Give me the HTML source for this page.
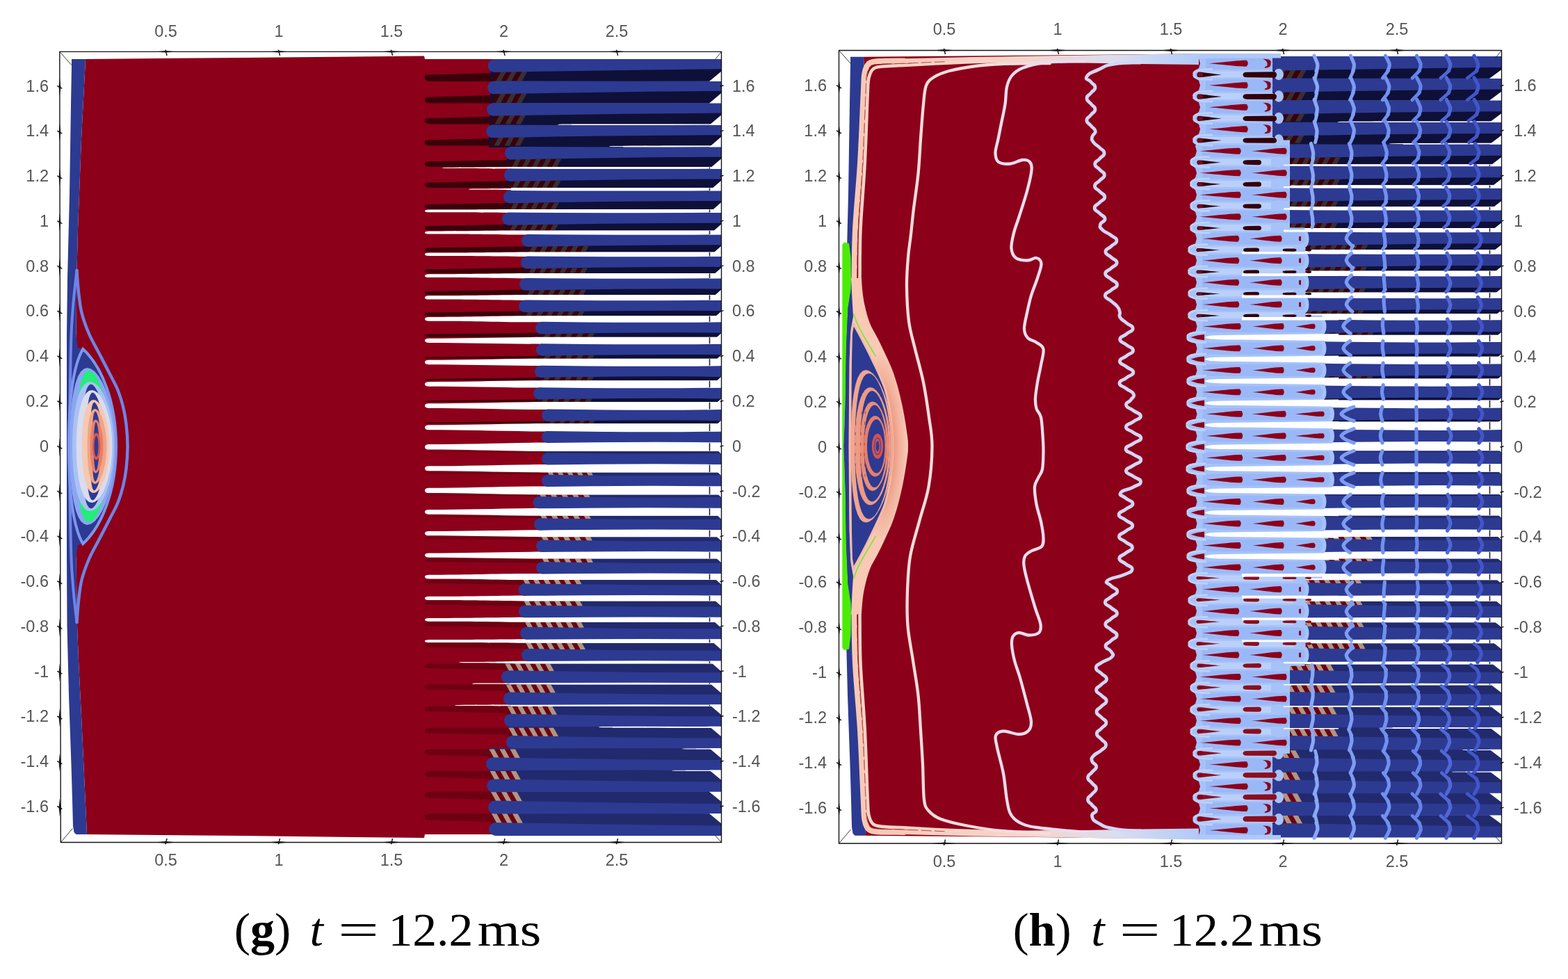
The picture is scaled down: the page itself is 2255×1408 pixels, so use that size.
<!DOCTYPE html>
<html lang="en"><head><meta charset="utf-8"><title>Figure: t = 12.2 ms</title>
<style>html,body{margin:0;padding:0;background:#fff;}body{width:2255px;height:1408px;overflow:hidden;}svg{display:block;}</style>
</head><body>
<svg width="2255" height="1408" viewBox="0 0 2255 1408">
<rect width="2255" height="1408" fill="#fff"/>
<g id="panel-g">
<path d="M123.0 85.0 L350.0 83.0 L560.0 81.0 L610.0 80.5 L611.0 85.0 L720.0 85.0 L720.0 1200.0 L611.0 1200.0 L610.0 1205.0 L560.0 1204.5 L350.0 1202.0 L125.0 1200.0 L118.0 1050.0 L113.0 950.0 L111.0 900.0 L109.5 800.0 L109.0 640.0 L109.5 480.0 L110.5 390.0 L112.0 330.0 L117.0 200.0Z" fill="#8c001a" />
<path d="M700.0 85.0 L711.5 85.0 L711.5 110.4 L700.0 110.4Z" fill="#8c001a" />
<path d="M700.0 109.9 L711.0 109.9 L711.0 141.9 L700.0 141.9Z" fill="#8c001a" />
<path d="M700.0 141.3 L710.0 141.3 L710.0 173.3 L700.0 173.3Z" fill="#8c001a" />
<path d="M700.0 172.8 L709.0 172.8 L709.0 204.8 L700.0 204.8Z" fill="#8c001a" />
<path d="M700.0 204.3 L735.0 204.3 L735.0 236.2 L700.0 236.2Z" fill="#8c001a" />
<path d="M700.0 235.7 L735.0 235.7 L735.0 267.7 L700.0 267.7Z" fill="#8c001a" />
<path d="M700.0 267.1 L733.0 267.1 L733.0 299.1 L700.0 299.1Z" fill="#8c001a" />
<path d="M700.0 298.6 L732.0 298.6 L732.0 330.6 L700.0 330.6Z" fill="#8c001a" />
<path d="M700.0 330.0 L760.0 330.0 L760.0 362.0 L700.0 362.0Z" fill="#8c001a" />
<path d="M700.0 361.4 L759.0 361.4 L759.0 393.4 L700.0 393.4Z" fill="#8c001a" />
<path d="M700.0 392.8 L757.0 392.8 L757.0 424.8 L700.0 424.8Z" fill="#8c001a" />
<path d="M700.0 424.3 L755.0 424.3 L755.0 456.2 L700.0 456.2Z" fill="#8c001a" />
<path d="M700.0 455.7 L780.0 455.7 L780.0 487.6 L700.0 487.6Z" fill="#8c001a" />
<path d="M700.0 487.1 L780.0 487.1 L780.0 519.0 L700.0 519.0Z" fill="#8c001a" />
<path d="M700.0 518.5 L779.0 518.5 L779.0 550.4 L700.0 550.4Z" fill="#8c001a" />
<path d="M700.0 549.8 L777.0 549.8 L777.0 581.8 L700.0 581.8Z" fill="#8c001a" />
<path d="M700.0 581.2 L789.0 581.2 L789.0 613.2 L700.0 613.2Z" fill="#8c001a" />
<path d="M700.0 612.6 L789.0 612.6 L789.0 644.6 L700.0 644.6Z" fill="#8c001a" />
<path d="M700.0 644.0 L789.0 644.0 L789.0 675.9 L700.0 675.9Z" fill="#8c001a" />
<path d="M700.0 675.3 L789.0 675.3 L789.0 707.3 L700.0 707.3Z" fill="#8c001a" />
<path d="M700.0 706.7 L776.5 706.7 L776.5 738.7 L700.0 738.7Z" fill="#8c001a" />
<path d="M700.0 738.0 L778.0 738.0 L778.0 770.0 L700.0 770.0Z" fill="#8c001a" />
<path d="M700.0 769.4 L780.0 769.4 L780.0 801.4 L700.0 801.4Z" fill="#8c001a" />
<path d="M700.0 800.7 L781.0 800.7 L781.0 832.7 L700.0 832.7Z" fill="#8c001a" />
<path d="M700.0 832.1 L754.5 832.1 L754.5 864.0 L700.0 864.0Z" fill="#8c001a" />
<path d="M700.0 863.4 L756.0 863.4 L756.0 895.4 L700.0 895.4Z" fill="#8c001a" />
<path d="M700.0 894.7 L758.0 894.7 L758.0 926.7 L700.0 926.7Z" fill="#8c001a" />
<path d="M700.0 926.0 L760.0 926.0 L760.0 958.0 L700.0 958.0Z" fill="#8c001a" />
<path d="M700.0 957.4 L731.0 957.4 L731.0 989.3 L700.0 989.3Z" fill="#8c001a" />
<path d="M700.0 988.7 L733.0 988.7 L733.0 1020.6 L700.0 1020.6Z" fill="#8c001a" />
<path d="M700.0 1020.0 L735.0 1020.0 L735.0 1051.9 L700.0 1051.9Z" fill="#8c001a" />
<path d="M700.0 1051.2 L737.0 1051.2 L737.0 1083.2 L700.0 1083.2Z" fill="#8c001a" />
<path d="M700.0 1082.5 L709.0 1082.5 L709.0 1114.5 L700.0 1114.5Z" fill="#8c001a" />
<path d="M700.0 1113.8 L710.0 1113.8 L710.0 1145.8 L700.0 1145.8Z" fill="#8c001a" />
<path d="M700.0 1145.1 L712.0 1145.1 L712.0 1177.1 L700.0 1177.1Z" fill="#8c001a" />
<path d="M700.0 1176.4 L713.0 1176.4 L713.0 1200.0 L700.0 1200.0Z" fill="#8c001a" />
<path d="M103.0 85.0 L123.0 85.0 L117.0 200.0 L112.0 330.0 L110.5 390.0 L109.5 480.0 L109.0 640.0 L109.5 800.0 L111.0 900.0 L113.0 950.0 L118.0 1050.0 L125.0 1200.0 L109.5 1200.0 L106.5 1197.0 L105.0 1188.0 L104.0 1150.0 L102.5 1100.0 L99.0 1000.0 L96.5 900.0 L96.0 800.0 L96.0 640.0 L96.0 480.0 L97.0 400.0 L100.0 280.0 L102.0 150.0 L103.0 95.0Z" fill="#2d3a92" />
<path d="M701.0 101.9 L711.5 101.9 L711.5 118.4 L701.0 118.4Z" fill="#8c001a" />
<path d="M611 109.6 Q611.5 107.5 618 107.5 L709.5 104.9 L709.5 116.9 L618 116.9 Q611.5 115.9 611 113.8 Z" fill="#3a0009"/>
<path d="M717.5 96.9 L1037.0 96.9 L1037.0 116.9 L717.5 116.9Z" fill="#0e1038" />
<path d="M705.5 102.9 L1037.0 102.9 L1037.0 116.9 L705.5 116.9Z" fill="#0e1038" />
<path d="M713.2 102.9 L720.7 102.9 L713.0 116.9 L705.5 116.9Z" fill="#3a0009" />
<path d="M720.7 102.9 L728.2 102.9 L720.5 116.9 L713.0 116.9Z" fill="#3c2e30" />
<path d="M728.2 102.9 L735.7 102.9 L728.0 116.9 L720.5 116.9Z" fill="#3a0009" />
<path d="M735.7 102.9 L743.2 102.9 L735.5 116.9 L728.0 116.9Z" fill="#3c2e30" />
<path d="M743.2 102.9 L750.7 102.9 L743.0 116.9 L735.5 116.9Z" fill="#3a0009" />
<path d="M750.7 102.9 L758.2 102.9 L750.5 116.9 L743.0 116.9Z" fill="#3c2e30" />
<path d="M700.0 133.3 L711.0 133.3 L711.0 149.9 L700.0 149.9Z" fill="#8c001a" />
<path d="M611 141.4 Q611.5 139.4 618 139.4 L709.0 136.9 L709.0 148.4 L618 148.4 Q611.5 147.4 611 145.4 Z" fill="#3a0009"/>
<path d="M717.0 128.3 L1037.0 128.3 L1037.0 148.4 L717.0 148.4Z" fill="#0e1038" />
<path d="M705.0 134.3 L1037.0 134.3 L1037.0 148.4 L705.0 148.4Z" fill="#0e1038" />
<path d="M712.8 134.3 L720.3 134.3 L712.5 148.4 L705.0 148.4Z" fill="#3a0009" />
<path d="M720.3 134.3 L727.8 134.3 L720.0 148.4 L712.5 148.4Z" fill="#3c2e30" />
<path d="M727.8 134.3 L735.3 134.3 L727.5 148.4 L720.0 148.4Z" fill="#3a0009" />
<path d="M735.3 134.3 L742.8 134.3 L735.0 148.4 L727.5 148.4Z" fill="#3c2e30" />
<path d="M742.8 134.3 L750.3 134.3 L742.5 148.4 L735.0 148.4Z" fill="#3a0009" />
<path d="M750.3 134.3 L757.8 134.3 L750.0 148.4 L742.5 148.4Z" fill="#3c2e30" />
<path d="M699.0 164.7 L710.0 164.7 L710.0 181.5 L699.0 181.5Z" fill="#8c001a" />
<path d="M611 171.8 Q611.5 169.9 618 169.9 L708.0 167.4 L708.0 178.5 L618 178.5 Q611.5 177.5 611 175.6 Z" fill="#3a0009"/>
<path d="M716.0 159.7 L1037.0 159.7 L1037.0 178.5 L716.0 178.5Z" fill="#0e1038" />
<path d="M704.0 165.7 L1037.0 165.7 L1037.0 178.5 L704.0 178.5Z" fill="#0e1038" />
<path d="M704.0 178.0 L822.0 178.0 L822.0 180.5 L704.0 180.5Z" fill="#0e1038" />
<path d="M711.0 165.7 L718.5 165.7 L711.5 178.5 L704.0 178.5Z" fill="#3a0009" />
<path d="M718.5 165.7 L726.0 165.7 L719.0 178.5 L711.5 178.5Z" fill="#3c2e30" />
<path d="M726.0 165.7 L733.5 165.7 L726.5 178.5 L719.0 178.5Z" fill="#3a0009" />
<path d="M733.5 165.7 L741.0 165.7 L734.0 178.5 L726.5 178.5Z" fill="#3c2e30" />
<path d="M741.0 165.7 L748.5 165.7 L741.5 178.5 L734.0 178.5Z" fill="#3a0009" />
<path d="M748.5 165.7 L756.0 165.7 L749.0 178.5 L741.5 178.5Z" fill="#3c2e30" />
<path d="M802.0 179.2 Q802.0 178.6 808.0 178.6 C862.0 178.6 862.0 178.5 922.0 178.5 L1037.0 178.5 L1037.0 180.0 L922.0 180.0 C862.0 180.0 862.0 179.8 808.0 179.8 Q802.0 179.8 802.0 179.2 Z" fill="#fff"/>
<path d="M699.0 196.1 L735.0 196.1 L735.0 213.0 L699.0 213.0Z" fill="#8c001a" />
<path d="M611 203.1 Q611.5 201.3 618 201.3 L707.0 198.9 L707.0 209.5 L618 209.5 Q611.5 208.6 611 206.7 Z" fill="#3a0009"/>
<path d="M715.0 191.1 L1037.0 191.1 L1037.0 209.5 L715.0 209.5Z" fill="#0e1038" />
<path d="M703.0 197.1 L1037.0 197.1 L1037.0 209.5 L703.0 209.5Z" fill="#0e1038" />
<path d="M703.0 209.0 L896.0 209.0 L896.0 212.0 L703.0 212.0Z" fill="#0e1038" />
<path d="M709.8 197.1 L717.3 197.1 L710.5 209.5 L703.0 209.5Z" fill="#3a0009" />
<path d="M717.3 197.1 L724.8 197.1 L718.0 209.5 L710.5 209.5Z" fill="#3c2e30" />
<path d="M724.8 197.1 L732.3 197.1 L725.5 209.5 L718.0 209.5Z" fill="#3a0009" />
<path d="M732.3 197.1 L739.8 197.1 L733.0 209.5 L725.5 209.5Z" fill="#3c2e30" />
<path d="M739.8 197.1 L747.3 197.1 L740.5 209.5 L733.0 209.5Z" fill="#3a0009" />
<path d="M747.3 197.1 L754.8 197.1 L748.0 209.5 L740.5 209.5Z" fill="#3c2e30" />
<path d="M876.0 210.5 Q876.0 209.9 882.0 209.9 C936.0 209.9 936.0 209.5 996.0 209.5 L1037.0 209.5 L1037.0 211.5 L996.0 211.5 C936.0 211.5 936.0 211.1 882.0 211.1 Q876.0 211.1 876.0 210.5 Z" fill="#fff"/>
<path d="M725.0 227.5 L735.0 227.5 L735.0 244.5 L725.0 244.5Z" fill="#8c001a" />
<path d="M611 233.9 Q611.5 232.2 618 232.2 L733.0 229.9 L733.0 240.0 L618 240.0 Q611.5 239.1 611 237.4 Z" fill="#3a0009"/>
<path d="M741.0 222.5 L1037.0 222.5 L1037.0 240.0 L741.0 240.0Z" fill="#0e1038" />
<path d="M729.0 228.5 L1037.0 228.5 L1037.0 240.0 L729.0 240.0Z" fill="#0e1038" />
<path d="M735.3 228.5 L742.5 228.5 L736.2 240.0 L729.0 240.0Z" fill="#3a0009" />
<path d="M742.5 228.5 L749.7 228.5 L743.4 240.0 L736.2 240.0Z" fill="#3c2e30" />
<path d="M749.7 228.5 L756.9 228.5 L750.6 240.0 L743.4 240.0Z" fill="#3a0009" />
<path d="M756.9 228.5 L764.1 228.5 L757.8 240.0 L750.6 240.0Z" fill="#3c2e30" />
<path d="M764.1 228.5 L771.3 228.5 L765.0 240.0 L757.8 240.0Z" fill="#3a0009" />
<path d="M771.3 228.5 L778.5 228.5 L772.2 240.0 L765.0 240.0Z" fill="#3c2e30" />
<path d="M778.5 228.5 L785.7 228.5 L779.4 240.0 L772.2 240.0Z" fill="#3a0009" />
<path d="M785.7 228.5 L792.9 228.5 L786.6 240.0 L779.4 240.0Z" fill="#3c2e30" />
<path d="M792.9 228.5 L800.1 228.5 L793.8 240.0 L786.6 240.0Z" fill="#3a0009" />
<path d="M800.1 228.5 L807.3 228.5 L801.0 240.0 L793.8 240.0Z" fill="#3c2e30" />
<path d="M636.0 241.5 Q636.0 240.9 642.0 240.9 C696.0 240.9 696.0 240.0 756.0 240.0 L1037.0 240.0 L1037.0 243.0 L756.0 243.0 C696.0 243.0 696.0 242.1 642.0 242.1 Q636.0 242.1 636.0 241.5 Z" fill="#fff"/>
<path d="M723.0 258.9 L735.0 258.9 L735.0 276.0 L723.0 276.0Z" fill="#8c001a" />
<path d="M611 264.3 Q611.5 262.6 618 262.6 L733.0 260.3 L733.0 270.0 L618 270.0 Q611.5 269.2 611 267.5 Z" fill="#3a0009"/>
<path d="M741.0 253.9 L1037.0 253.9 L1037.0 270.0 L741.0 270.0Z" fill="#0e1038" />
<path d="M729.0 259.9 L1037.0 259.9 L1037.0 270.0 L729.0 270.0Z" fill="#0e1038" />
<path d="M734.5 259.9 L741.7 259.9 L736.2 270.0 L729.0 270.0Z" fill="#3a0009" />
<path d="M741.7 259.9 L748.9 259.9 L743.4 270.0 L736.2 270.0Z" fill="#3c2e30" />
<path d="M748.9 259.9 L756.1 259.9 L750.6 270.0 L743.4 270.0Z" fill="#3a0009" />
<path d="M756.1 259.9 L763.3 259.9 L757.8 270.0 L750.6 270.0Z" fill="#3c2e30" />
<path d="M763.3 259.9 L770.5 259.9 L765.0 270.0 L757.8 270.0Z" fill="#3a0009" />
<path d="M770.5 259.9 L777.7 259.9 L772.2 270.0 L765.0 270.0Z" fill="#3c2e30" />
<path d="M777.7 259.9 L784.9 259.9 L779.4 270.0 L772.2 270.0Z" fill="#3a0009" />
<path d="M784.9 259.9 L792.1 259.9 L786.6 270.0 L779.4 270.0Z" fill="#3c2e30" />
<path d="M792.1 259.9 L799.3 259.9 L793.8 270.0 L786.6 270.0Z" fill="#3a0009" />
<path d="M799.3 259.9 L806.5 259.9 L801.0 270.0 L793.8 270.0Z" fill="#3c2e30" />
<path d="M674.0 272.2 Q674.0 271.6 680.0 271.6 C734.0 271.6 734.0 270.5 794.0 270.0 L1037.0 270.0 L1037.0 274.5 L794.0 274.5 C734.0 274.0 734.0 272.8 680.0 272.8 Q674.0 272.8 674.0 272.2 Z" fill="#fff"/>
<path d="M722.0 290.3 L733.0 290.3 L733.0 307.5 L722.0 307.5Z" fill="#8c001a" />
<path d="M611 295.6 Q611.5 294.1 618 294.1 L731.0 291.8 L731.0 301.0 L618 301.0 Q611.5 300.2 611 298.7 Z" fill="#3a0009"/>
<path d="M739.0 285.3 L1037.0 285.3 L1037.0 301.0 L739.0 301.0Z" fill="#0e1038" />
<path d="M727.0 291.3 L1037.0 291.3 L1037.0 301.0 L727.0 301.0Z" fill="#0e1038" />
<path d="M732.3 291.3 L739.5 291.3 L734.2 301.0 L727.0 301.0Z" fill="#3a0009" />
<path d="M739.5 291.3 L746.7 291.3 L741.4 301.0 L734.2 301.0Z" fill="#3c2e30" />
<path d="M746.7 291.3 L753.9 291.3 L748.6 301.0 L741.4 301.0Z" fill="#3a0009" />
<path d="M753.9 291.3 L761.1 291.3 L755.8 301.0 L748.6 301.0Z" fill="#3c2e30" />
<path d="M761.1 291.3 L768.3 291.3 L763.0 301.0 L755.8 301.0Z" fill="#3a0009" />
<path d="M768.3 291.3 L775.5 291.3 L770.2 301.0 L763.0 301.0Z" fill="#3c2e30" />
<path d="M775.5 291.3 L782.7 291.3 L777.4 301.0 L770.2 301.0Z" fill="#3a0009" />
<path d="M782.7 291.3 L789.9 291.3 L784.6 301.0 L777.4 301.0Z" fill="#3c2e30" />
<path d="M789.9 291.3 L797.1 291.3 L791.8 301.0 L784.6 301.0Z" fill="#3a0009" />
<path d="M797.1 291.3 L804.3 291.3 L799.0 301.0 L791.8 301.0Z" fill="#3c2e30" />
<path d="M611.0 303.5 Q611.0 301.6 617.0 301.6 C671.0 301.6 672.0 301.5 732.0 301.0 L1037.0 301.0 L1037.0 306.0 L732.0 306.0 C672.0 305.5 671.0 305.3 617.0 305.3 Q611.0 305.3 611.0 303.5 Z" fill="#fff"/>
<path d="M722.0 321.7 L760.0 321.7 L760.0 339.0 L722.0 339.0Z" fill="#8c001a" />
<path d="M611 326.4 Q611.5 325.0 618 325.0 L730.0 322.7 L730.0 331.5 L618 331.5 Q611.5 330.7 611 329.3 Z" fill="#3a0009"/>
<path d="M738.0 316.7 L1037.0 316.7 L1037.0 331.5 L738.0 331.5Z" fill="#0e1038" />
<path d="M726.0 322.7 L1037.0 322.7 L1037.0 331.5 L726.0 331.5Z" fill="#0e1038" />
<path d="M730.8 322.7 L738.0 322.7 L733.2 331.5 L726.0 331.5Z" fill="#3a0009" />
<path d="M738.0 322.7 L745.2 322.7 L740.4 331.5 L733.2 331.5Z" fill="#3c2e30" />
<path d="M745.2 322.7 L752.4 322.7 L747.6 331.5 L740.4 331.5Z" fill="#3a0009" />
<path d="M752.4 322.7 L759.6 322.7 L754.8 331.5 L747.6 331.5Z" fill="#3c2e30" />
<path d="M759.6 322.7 L766.8 322.7 L762.0 331.5 L754.8 331.5Z" fill="#3a0009" />
<path d="M766.8 322.7 L774.0 322.7 L769.2 331.5 L762.0 331.5Z" fill="#3c2e30" />
<path d="M774.0 322.7 L781.2 322.7 L776.4 331.5 L769.2 331.5Z" fill="#3a0009" />
<path d="M781.2 322.7 L788.4 322.7 L783.6 331.5 L776.4 331.5Z" fill="#3c2e30" />
<path d="M788.4 322.7 L795.6 322.7 L790.8 331.5 L783.6 331.5Z" fill="#3a0009" />
<path d="M795.6 322.7 L802.8 322.7 L798.0 331.5 L790.8 331.5Z" fill="#3c2e30" />
<path d="M611.0 334.5 Q611.0 332.4 617.0 332.4 C671.0 332.4 672.0 332.0 732.0 331.5 L1037.0 331.5 L1037.0 337.5 L732.0 337.5 C672.0 337.0 671.0 336.6 617.0 336.6 Q611.0 336.6 611.0 334.5 Z" fill="#fff"/>
<path d="M749.0 353.0 L760.0 353.0 L760.0 370.4 L749.0 370.4Z" fill="#8c001a" />
<path d="M611 357.7 Q611.5 356.4 618 356.4 L758.0 354.2 L758.0 362.4 L618 362.4 Q611.5 361.8 611 360.4 Z" fill="#3a0009"/>
<path d="M766.0 348.0 L1037.0 348.0 L1037.0 362.4 L766.0 362.4Z" fill="#0e1038" />
<path d="M754.0 354.0 L1037.0 354.0 L1037.0 362.4 L754.0 362.4Z" fill="#0e1038" />
<path d="M758.6 354.0 L766.0 354.0 L761.3 362.4 L754.0 362.4Z" fill="#3a0009" />
<path d="M766.0 354.0 L773.3 354.0 L768.7 362.4 L761.3 362.4Z" fill="#3c2e30" />
<path d="M773.3 354.0 L780.6 354.0 L776.0 362.4 L768.7 362.4Z" fill="#3a0009" />
<path d="M780.6 354.0 L788.0 354.0 L783.3 362.4 L776.0 362.4Z" fill="#3c2e30" />
<path d="M788.0 354.0 L795.3 354.0 L790.7 362.4 L783.3 362.4Z" fill="#3a0009" />
<path d="M795.3 354.0 L802.6 354.0 L798.0 362.4 L790.7 362.4Z" fill="#3c2e30" />
<path d="M802.6 354.0 L810.0 354.0 L805.3 362.4 L798.0 362.4Z" fill="#3a0009" />
<path d="M810.0 354.0 L817.3 354.0 L812.7 362.4 L805.3 362.4Z" fill="#3c2e30" />
<path d="M817.3 354.0 L824.6 354.0 L820.0 362.4 L812.7 362.4Z" fill="#3a0009" />
<path d="M824.6 354.0 L832.0 354.0 L827.3 362.4 L820.0 362.4Z" fill="#3c2e30" />
<path d="M832.0 354.0 L839.3 354.0 L834.7 362.4 L827.3 362.4Z" fill="#3a0009" />
<path d="M839.3 354.0 L846.6 354.0 L842.0 362.4 L834.7 362.4Z" fill="#3c2e30" />
<path d="M611.0 365.7 Q611.0 363.5 617.0 363.5 C671.0 363.5 699.0 362.9 759.0 362.4 L1037.0 362.4 L1037.0 368.9 L759.0 368.9 C699.0 368.4 671.0 367.9 617.0 367.9 Q611.0 367.9 611.0 365.7 Z" fill="#fff"/>
<path d="M747.0 384.4 L759.0 384.4 L759.0 401.9 L747.0 401.9Z" fill="#8c001a" />
<path d="M611 388.5 Q611.5 387.3 618 387.3 L757.0 385.1 L757.0 392.9 L618 392.9 Q611.5 392.3 611 391.0 Z" fill="#3a0009"/>
<path d="M765.0 379.4 L1037.0 379.4 L1037.0 392.9 L765.0 392.9Z" fill="#0e1038" />
<path d="M753.0 385.4 L1037.0 385.4 L1037.0 392.9 L753.0 392.9Z" fill="#0e1038" />
<path d="M757.1 385.4 L764.5 385.4 L760.3 392.9 L753.0 392.9Z" fill="#3a0009" />
<path d="M764.5 385.4 L771.8 385.4 L767.7 392.9 L760.3 392.9Z" fill="#3c2e30" />
<path d="M771.8 385.4 L779.1 385.4 L775.0 392.9 L767.7 392.9Z" fill="#3a0009" />
<path d="M779.1 385.4 L786.5 385.4 L782.3 392.9 L775.0 392.9Z" fill="#3c2e30" />
<path d="M786.5 385.4 L793.8 385.4 L789.7 392.9 L782.3 392.9Z" fill="#3a0009" />
<path d="M793.8 385.4 L801.1 385.4 L797.0 392.9 L789.7 392.9Z" fill="#3c2e30" />
<path d="M801.1 385.4 L808.5 385.4 L804.3 392.9 L797.0 392.9Z" fill="#3a0009" />
<path d="M808.5 385.4 L815.8 385.4 L811.7 392.9 L804.3 392.9Z" fill="#3c2e30" />
<path d="M815.8 385.4 L823.1 385.4 L819.0 392.9 L811.7 392.9Z" fill="#3a0009" />
<path d="M823.1 385.4 L830.5 385.4 L826.3 392.9 L819.0 392.9Z" fill="#3c2e30" />
<path d="M830.5 385.4 L837.8 385.4 L833.7 392.9 L826.3 392.9Z" fill="#3a0009" />
<path d="M837.8 385.4 L845.1 385.4 L841.0 392.9 L833.7 392.9Z" fill="#3c2e30" />
<path d="M611.0 396.7 Q611.0 394.2 617.0 394.2 C671.0 394.2 697.0 393.4 757.0 392.9 L1037.0 392.9 L1037.0 400.4 L757.0 400.4 C697.0 399.9 671.0 399.1 617.0 399.1 Q611.0 399.1 611.0 396.7 Z" fill="#fff"/>
<path d="M745.0 415.8 L757.0 415.8 L757.0 433.4 L745.0 433.4Z" fill="#8c001a" />
<path d="M611 419.8 Q611.5 418.7 618 418.7 L755.0 416.6 L755.0 423.9 L618 423.9 Q611.5 423.3 611 422.1 Z" fill="#3a0009"/>
<path d="M763.0 410.8 L1037.0 410.8 L1037.0 423.9 L763.0 423.9Z" fill="#0e1038" />
<path d="M751.0 416.8 L1037.0 416.8 L1037.0 423.9 L751.0 423.9Z" fill="#0e1038" />
<path d="M754.9 416.8 L762.2 416.8 L758.3 423.9 L751.0 423.9Z" fill="#3a0009" />
<path d="M762.2 416.8 L769.6 416.8 L765.7 423.9 L758.3 423.9Z" fill="#3c2e30" />
<path d="M769.6 416.8 L776.9 416.8 L773.0 423.9 L765.7 423.9Z" fill="#3a0009" />
<path d="M776.9 416.8 L784.2 416.8 L780.3 423.9 L773.0 423.9Z" fill="#3c2e30" />
<path d="M784.2 416.8 L791.6 416.8 L787.7 423.9 L780.3 423.9Z" fill="#3a0009" />
<path d="M791.6 416.8 L798.9 416.8 L795.0 423.9 L787.7 423.9Z" fill="#3c2e30" />
<path d="M798.9 416.8 L806.2 416.8 L802.3 423.9 L795.0 423.9Z" fill="#3a0009" />
<path d="M806.2 416.8 L813.6 416.8 L809.7 423.9 L802.3 423.9Z" fill="#3c2e30" />
<path d="M813.6 416.8 L820.9 416.8 L817.0 423.9 L809.7 423.9Z" fill="#3a0009" />
<path d="M820.9 416.8 L828.2 416.8 L824.3 423.9 L817.0 423.9Z" fill="#3c2e30" />
<path d="M828.2 416.8 L835.6 416.8 L831.7 423.9 L824.3 423.9Z" fill="#3a0009" />
<path d="M835.6 416.8 L842.9 416.8 L839.0 423.9 L831.7 423.9Z" fill="#3c2e30" />
<path d="M611.0 427.9 Q611.0 425.3 617.0 425.3 C671.0 425.3 695.0 424.4 755.0 423.9 L1037.0 423.9 L1037.0 431.9 L755.0 431.9 C695.0 431.4 671.0 430.5 617.0 430.5 Q611.0 430.5 611.0 427.9 Z" fill="#fff"/>
<path d="M745.0 447.1 L780.0 447.1 L780.0 464.8 L745.0 464.8Z" fill="#8c001a" />
<path d="M611 450.6 Q611.5 449.5 618 449.5 L753.0 447.5 L753.0 454.3 L618 454.3 Q611.5 453.8 611 452.7 Z" fill="#3a0009"/>
<path d="M761.0 442.1 L1037.0 442.1 L1037.0 454.3 L761.0 454.3Z" fill="#0e1038" />
<path d="M749.0 448.1 L1037.0 448.1 L1037.0 454.3 L749.0 454.3Z" fill="#0e1038" />
<path d="M752.4 448.1 L759.8 448.1 L756.3 454.3 L749.0 454.3Z" fill="#3a0009" />
<path d="M759.8 448.1 L767.1 448.1 L763.7 454.3 L756.3 454.3Z" fill="#3c2e30" />
<path d="M767.1 448.1 L774.4 448.1 L771.0 454.3 L763.7 454.3Z" fill="#3a0009" />
<path d="M774.4 448.1 L781.8 448.1 L778.3 454.3 L771.0 454.3Z" fill="#3c2e30" />
<path d="M781.8 448.1 L789.1 448.1 L785.7 454.3 L778.3 454.3Z" fill="#3a0009" />
<path d="M789.1 448.1 L796.4 448.1 L793.0 454.3 L785.7 454.3Z" fill="#3c2e30" />
<path d="M796.4 448.1 L803.8 448.1 L800.3 454.3 L793.0 454.3Z" fill="#3a0009" />
<path d="M803.8 448.1 L811.1 448.1 L807.7 454.3 L800.3 454.3Z" fill="#3c2e30" />
<path d="M811.1 448.1 L818.4 448.1 L815.0 454.3 L807.7 454.3Z" fill="#3a0009" />
<path d="M818.4 448.1 L825.8 448.1 L822.3 454.3 L815.0 454.3Z" fill="#3c2e30" />
<path d="M825.8 448.1 L833.1 448.1 L829.7 454.3 L822.3 454.3Z" fill="#3a0009" />
<path d="M833.1 448.1 L840.4 448.1 L837.0 454.3 L829.7 454.3Z" fill="#3c2e30" />
<path d="M611.0 458.8 Q611.0 456.0 617.0 456.0 C671.0 456.0 695.0 454.8 755.0 454.3 L1037.0 454.3 L1037.0 463.3 L755.0 463.3 C695.0 462.8 671.0 461.7 617.0 461.7 Q611.0 461.7 611.0 458.8 Z" fill="#fff"/>
<path d="M770.0 478.5 L780.0 478.5 L780.0 496.3 L770.0 496.3Z" fill="#8c001a" />
<path d="M611 481.4 Q611.5 480.4 618 480.4 L778.0 478.5 L778.0 484.8 L618 484.8 Q611.5 484.3 611 483.3 Z" fill="#3a0009"/>
<path d="M786.0 473.5 L1037.0 473.5 L1037.0 484.8 L786.0 484.8Z" fill="#0e1038" />
<path d="M774.0 479.5 L1037.0 479.5 L1037.0 484.8 L774.0 484.8Z" fill="#0e1038" />
<path d="M776.9 479.5 L784.7 479.5 L781.8 484.8 L774.0 484.8Z" fill="#3a0009" />
<path d="M784.7 479.5 L792.5 479.5 L789.6 484.8 L781.8 484.8Z" fill="#3c2e30" />
<path d="M792.5 479.5 L800.3 479.5 L797.4 484.8 L789.6 484.8Z" fill="#3a0009" />
<path d="M800.3 479.5 L808.1 479.5 L805.2 484.8 L797.4 484.8Z" fill="#3c2e30" />
<path d="M808.1 479.5 L815.9 479.5 L813.0 484.8 L805.2 484.8Z" fill="#3a0009" />
<path d="M815.9 479.5 L823.7 479.5 L820.8 484.8 L813.0 484.8Z" fill="#3c2e30" />
<path d="M823.7 479.5 L831.5 479.5 L828.6 484.8 L820.8 484.8Z" fill="#3a0009" />
<path d="M831.5 479.5 L839.3 479.5 L836.4 484.8 L828.6 484.8Z" fill="#3c2e30" />
<path d="M839.3 479.5 L847.1 479.5 L844.2 484.8 L836.4 484.8Z" fill="#3a0009" />
<path d="M847.1 479.5 L854.9 479.5 L852.0 484.8 L844.2 484.8Z" fill="#3c2e30" />
<path d="M611.0 489.8 Q611.0 486.7 617.0 486.7 C671.0 486.7 720.0 485.3 780.0 484.8 L1037.0 484.8 L1037.0 494.8 L780.0 494.8 C720.0 494.3 671.0 492.9 617.0 492.9 Q611.0 492.9 611.0 489.8 Z" fill="#fff"/>
<path d="M769.0 509.8 L780.0 509.8 L780.0 527.7 L769.0 527.7Z" fill="#8c001a" />
<path d="M611 514.0 Q611.5 513.6 618 513.6 L778.0 511.8 L778.0 515.7 L618 515.7 Q611.5 515.5 611 515.0 Z" fill="#3a0009"/>
<path d="M786.0 504.8 L1037.0 504.8 L1037.0 515.7 L786.0 515.7Z" fill="#0e1038" />
<path d="M774.0 510.8 L1037.0 510.8 L1037.0 515.7 L774.0 515.7Z" fill="#0e1038" />
<path d="M776.7 510.8 L784.5 510.8 L781.8 515.7 L774.0 515.7Z" fill="#3a0009" />
<path d="M784.5 510.8 L792.3 510.8 L789.6 515.7 L781.8 515.7Z" fill="#3c2e30" />
<path d="M792.3 510.8 L800.1 510.8 L797.4 515.7 L789.6 515.7Z" fill="#3a0009" />
<path d="M800.1 510.8 L807.9 510.8 L805.2 515.7 L797.4 515.7Z" fill="#3c2e30" />
<path d="M807.9 510.8 L815.7 510.8 L813.0 515.7 L805.2 515.7Z" fill="#3a0009" />
<path d="M815.7 510.8 L823.5 510.8 L820.8 515.7 L813.0 515.7Z" fill="#3c2e30" />
<path d="M823.5 510.8 L831.3 510.8 L828.6 515.7 L820.8 515.7Z" fill="#3a0009" />
<path d="M831.3 510.8 L839.1 510.8 L836.4 515.7 L828.6 515.7Z" fill="#3c2e30" />
<path d="M839.1 510.8 L846.9 510.8 L844.2 515.7 L836.4 515.7Z" fill="#3a0009" />
<path d="M846.9 510.8 L854.7 510.8 L852.0 515.7 L844.2 515.7Z" fill="#3c2e30" />
<path d="M611.0 521.0 Q611.0 517.8 617.0 517.8 C671.0 517.8 719.0 516.2 779.0 515.7 L1037.0 515.7 L1037.0 526.2 L779.0 526.2 C719.0 525.7 671.0 524.2 617.0 524.2 Q611.0 524.2 611.0 521.0 Z" fill="#fff"/>
<path d="M767.0 541.1 L779.0 541.1 L779.0 559.2 L767.0 559.2Z" fill="#8c001a" />
<path d="M611 545.4 Q611.5 544.9 618 544.9 L777.0 543.1 L777.0 547.2 L618 547.2 Q611.5 546.9 611 546.4 Z" fill="#3a0009"/>
<path d="M785.0 536.1 L1037.0 536.1 L1037.0 547.2 L785.0 547.2Z" fill="#0e1038" />
<path d="M773.0 542.1 L1037.0 542.1 L1037.0 547.2 L773.0 547.2Z" fill="#0e1038" />
<path d="M775.8 542.1 L783.6 542.1 L780.8 547.2 L773.0 547.2Z" fill="#3a0009" />
<path d="M783.6 542.1 L791.4 542.1 L788.6 547.2 L780.8 547.2Z" fill="#3c2e30" />
<path d="M791.4 542.1 L799.2 542.1 L796.4 547.2 L788.6 547.2Z" fill="#3a0009" />
<path d="M799.2 542.1 L807.0 542.1 L804.2 547.2 L796.4 547.2Z" fill="#3c2e30" />
<path d="M807.0 542.1 L814.8 542.1 L812.0 547.2 L804.2 547.2Z" fill="#3a0009" />
<path d="M814.8 542.1 L822.6 542.1 L819.8 547.2 L812.0 547.2Z" fill="#3c2e30" />
<path d="M822.6 542.1 L830.4 542.1 L827.6 547.2 L819.8 547.2Z" fill="#3a0009" />
<path d="M830.4 542.1 L838.2 542.1 L835.4 547.2 L827.6 547.2Z" fill="#3c2e30" />
<path d="M838.2 542.1 L846.0 542.1 L843.2 547.2 L835.4 547.2Z" fill="#3a0009" />
<path d="M846.0 542.1 L853.8 542.1 L851.0 547.2 L843.2 547.2Z" fill="#3c2e30" />
<path d="M611.0 552.4 Q611.0 549.2 617.0 549.2 C671.0 549.2 717.0 547.7 777.0 547.2 L1037.0 547.2 L1037.0 557.7 L777.0 557.7 C717.0 557.2 671.0 555.7 617.0 555.7 Q611.0 555.7 611.0 552.4 Z" fill="#fff"/>
<path d="M767.0 572.5 L789.0 572.5 L789.0 590.6 L767.0 590.6Z" fill="#8c001a" />
<path d="M611 576.6 Q611.5 576.2 618 576.2 L775.0 574.5 L775.0 578.1 L618 578.1 Q611.5 577.9 611 577.5 Z" fill="#3a0009"/>
<path d="M783.0 567.5 L1037.0 567.5 L1037.0 578.1 L783.0 578.1Z" fill="#0e1038" />
<path d="M771.0 573.5 L1037.0 573.5 L1037.0 578.1 L771.0 578.1Z" fill="#0e1038" />
<path d="M773.6 573.5 L781.4 573.5 L778.8 578.1 L771.0 578.1Z" fill="#3a0009" />
<path d="M781.4 573.5 L789.2 573.5 L786.6 578.1 L778.8 578.1Z" fill="#3c2e30" />
<path d="M789.2 573.5 L797.0 573.5 L794.4 578.1 L786.6 578.1Z" fill="#3a0009" />
<path d="M797.0 573.5 L804.8 573.5 L802.2 578.1 L794.4 578.1Z" fill="#3c2e30" />
<path d="M804.8 573.5 L812.6 573.5 L810.0 578.1 L802.2 578.1Z" fill="#3a0009" />
<path d="M812.6 573.5 L820.4 573.5 L817.8 578.1 L810.0 578.1Z" fill="#3c2e30" />
<path d="M820.4 573.5 L828.2 573.5 L825.6 578.1 L817.8 578.1Z" fill="#3a0009" />
<path d="M828.2 573.5 L836.0 573.5 L833.4 578.1 L825.6 578.1Z" fill="#3c2e30" />
<path d="M836.0 573.5 L843.8 573.5 L841.2 578.1 L833.4 578.1Z" fill="#3a0009" />
<path d="M843.8 573.5 L851.6 573.5 L849.0 578.1 L841.2 578.1Z" fill="#3c2e30" />
<path d="M611.0 583.6 Q611.0 580.3 617.0 580.3 C671.0 580.3 717.0 578.6 777.0 578.1 L1037.0 578.1 L1037.0 589.1 L777.0 589.1 C717.0 588.6 671.0 587.0 617.0 587.0 Q611.0 587.0 611.0 583.6 Z" fill="#fff"/>
<path d="M779.0 603.8 L789.0 603.8 L789.0 622.1 L779.0 622.1Z" fill="#8c001a" />
<path d="M611 607.8 Q611.5 607.5 618 607.5 L787.0 605.8 L787.0 609.1 L618 609.1 Q611.5 608.9 611 608.5 Z" fill="#3a0009"/>
<path d="M795.0 598.8 L1037.0 598.8 L1037.0 609.1 L795.0 609.1Z" fill="#0e1038" />
<path d="M783.0 604.8 L1037.0 604.8 L1037.0 609.1 L783.0 609.1Z" fill="#0e1038" />
<path d="M785.3 604.8 L792.3 604.8 L790.0 609.1 L783.0 609.1Z" fill="#3a0009" />
<path d="M792.3 604.8 L799.3 604.8 L797.0 609.1 L790.0 609.1Z" fill="#3c2e30" />
<path d="M799.3 604.8 L806.3 604.8 L804.0 609.1 L797.0 609.1Z" fill="#3a0009" />
<path d="M806.3 604.8 L813.3 604.8 L811.0 609.1 L804.0 609.1Z" fill="#3c2e30" />
<path d="M813.3 604.8 L820.3 604.8 L818.0 609.1 L811.0 609.1Z" fill="#3a0009" />
<path d="M820.3 604.8 L827.3 604.8 L825.0 609.1 L818.0 609.1Z" fill="#3c2e30" />
<path d="M827.3 604.8 L834.3 604.8 L832.0 609.1 L825.0 609.1Z" fill="#3a0009" />
<path d="M834.3 604.8 L841.3 604.8 L839.0 609.1 L832.0 609.1Z" fill="#3c2e30" />
<path d="M841.3 604.8 L848.3 604.8 L846.0 609.1 L839.0 609.1Z" fill="#3a0009" />
<path d="M848.3 604.8 L855.3 604.8 L853.0 609.1 L846.0 609.1Z" fill="#3c2e30" />
<path d="M611.0 614.8 Q611.0 611.3 617.0 611.3 C671.0 611.3 721.0 609.6 781.0 609.1 L1037.0 609.1 L1037.0 620.6 L781.0 620.6 C721.0 620.1 671.0 618.3 617.0 618.3 Q611.0 618.3 611.0 614.8 Z" fill="#fff"/>
<path d="M779.0 635.1 L789.0 635.1 L789.0 653.4 L779.0 653.4Z" fill="#8c001a" />
<path d="M611 649.4 Q611.5 649.2 618 649.1 L787.0 649.1 L787.0 651.4 L618 649.8 Q611.5 649.8 611 649.7 Z" fill="#6d0012"/>
<path d="M795.0 649.1 L1037.0 649.1 L1037.0 658.4 L795.0 658.4Z" fill="#222a6e" />
<path d="M783.0 649.1 L1037.0 649.1 L1037.0 652.4 L783.0 652.4Z" fill="#222a6e" />
<path d="M611.0 642.9 Q611.0 639.1 617.0 639.1 C671.0 639.1 721.0 637.1 781.0 636.6 L1037.0 636.6 L1037.0 649.1 L781.0 649.1 C721.0 648.6 671.0 646.6 617.0 646.6 Q611.0 646.6 611.0 642.9 Z" fill="#fff"/>
<path d="M779.0 666.5 L789.0 666.5 L789.0 684.7 L779.0 684.7Z" fill="#8c001a" />
<path d="M611 680.0 Q611.5 679.7 618 679.5 L787.0 679.5 L787.0 682.7 L618 681.1 Q611.5 681.1 611 680.7 Z" fill="#6d0012"/>
<path d="M795.0 679.5 L1037.0 679.5 L1037.0 689.7 L795.0 689.7Z" fill="#222a6e" />
<path d="M783.0 679.5 L1037.0 679.5 L1037.0 683.7 L783.0 683.7Z" fill="#222a6e" />
<path d="M780.7 679.5 L787.7 679.5 L790.0 683.7 L783.0 683.7Z" fill="#6d0012" />
<path d="M787.7 679.5 L794.7 679.5 L797.0 683.7 L790.0 683.7Z" fill="#b39480" />
<path d="M794.7 679.5 L801.7 679.5 L804.0 683.7 L797.0 683.7Z" fill="#6d0012" />
<path d="M801.7 679.5 L808.7 679.5 L811.0 683.7 L804.0 683.7Z" fill="#b39480" />
<path d="M808.7 679.5 L815.7 679.5 L818.0 683.7 L811.0 683.7Z" fill="#6d0012" />
<path d="M815.7 679.5 L822.7 679.5 L825.0 683.7 L818.0 683.7Z" fill="#b39480" />
<path d="M822.7 679.5 L829.7 679.5 L832.0 683.7 L825.0 683.7Z" fill="#6d0012" />
<path d="M829.7 679.5 L836.7 679.5 L839.0 683.7 L832.0 683.7Z" fill="#b39480" />
<path d="M836.7 679.5 L843.7 679.5 L846.0 683.7 L839.0 683.7Z" fill="#6d0012" />
<path d="M843.7 679.5 L850.7 679.5 L853.0 683.7 L846.0 683.7Z" fill="#b39480" />
<path d="M611.0 673.7 Q611.0 670.3 617.0 670.3 C671.0 670.3 721.0 668.5 781.0 668.0 L1037.0 668.0 L1037.0 679.5 L781.0 679.5 C721.0 679.0 671.0 677.2 617.0 677.2 Q611.0 677.2 611.0 673.7 Z" fill="#fff"/>
<path d="M766.5 697.9 L789.0 697.9 L789.0 716.0 L766.5 716.0Z" fill="#8c001a" />
<path d="M611 711.7 Q611.5 711.5 618 711.4 L774.5 711.4 L774.5 714.0 L618 712.4 Q611.5 712.4 611 712.2 Z" fill="#6d0012"/>
<path d="M782.5 711.4 L1037.0 711.4 L1037.0 721.0 L782.5 721.0Z" fill="#222a6e" />
<path d="M770.5 711.4 L1037.0 711.4 L1037.0 715.0 L770.5 715.0Z" fill="#222a6e" />
<path d="M768.5 711.4 L776.3 711.4 L778.3 715.0 L770.5 715.0Z" fill="#6d0012" />
<path d="M776.3 711.4 L784.1 711.4 L786.1 715.0 L778.3 715.0Z" fill="#b39480" />
<path d="M784.1 711.4 L791.9 711.4 L793.9 715.0 L786.1 715.0Z" fill="#6d0012" />
<path d="M791.9 711.4 L799.7 711.4 L801.7 715.0 L793.9 715.0Z" fill="#b39480" />
<path d="M799.7 711.4 L807.5 711.4 L809.5 715.0 L801.7 715.0Z" fill="#6d0012" />
<path d="M807.5 711.4 L815.3 711.4 L817.3 715.0 L809.5 715.0Z" fill="#b39480" />
<path d="M815.3 711.4 L823.1 711.4 L825.1 715.0 L817.3 715.0Z" fill="#6d0012" />
<path d="M823.1 711.4 L830.9 711.4 L832.9 715.0 L825.1 715.0Z" fill="#b39480" />
<path d="M830.9 711.4 L838.7 711.4 L840.7 715.0 L832.9 715.0Z" fill="#6d0012" />
<path d="M838.7 711.4 L846.5 711.4 L848.5 715.0 L840.7 715.0Z" fill="#b39480" />
<path d="M611.0 705.4 Q611.0 701.8 617.0 701.8 C671.0 701.8 716.5 699.9 776.5 699.4 L1037.0 699.4 L1037.0 711.4 L776.5 711.4 C716.5 710.9 671.0 709.0 617.0 709.0 Q611.0 709.0 611.0 705.4 Z" fill="#fff"/>
<path d="M766.5 729.3 L778.0 729.3 L778.0 747.3 L766.5 747.3Z" fill="#8c001a" />
<path d="M611 742.4 Q611.5 742.0 618 741.8 L776.0 741.8 L776.0 745.3 L618 743.6 Q611.5 743.6 611 743.2 Z" fill="#6d0012"/>
<path d="M784.0 741.8 L1037.0 741.8 L1037.0 752.3 L784.0 752.3Z" fill="#222a6e" />
<path d="M772.0 741.8 L1037.0 741.8 L1037.0 746.3 L772.0 746.3Z" fill="#222a6e" />
<path d="M769.5 741.8 L777.3 741.8 L779.8 746.3 L772.0 746.3Z" fill="#6d0012" />
<path d="M777.3 741.8 L785.1 741.8 L787.6 746.3 L779.8 746.3Z" fill="#b39480" />
<path d="M785.1 741.8 L792.9 741.8 L795.4 746.3 L787.6 746.3Z" fill="#6d0012" />
<path d="M792.9 741.8 L800.7 741.8 L803.2 746.3 L795.4 746.3Z" fill="#b39480" />
<path d="M800.7 741.8 L808.5 741.8 L811.0 746.3 L803.2 746.3Z" fill="#6d0012" />
<path d="M808.5 741.8 L816.3 741.8 L818.8 746.3 L811.0 746.3Z" fill="#b39480" />
<path d="M816.3 741.8 L824.1 741.8 L826.6 746.3 L818.8 746.3Z" fill="#6d0012" />
<path d="M824.1 741.8 L831.9 741.8 L834.4 746.3 L826.6 746.3Z" fill="#b39480" />
<path d="M831.9 741.8 L839.7 741.8 L842.2 746.3 L834.4 746.3Z" fill="#6d0012" />
<path d="M839.7 741.8 L847.5 741.8 L850.0 746.3 L842.2 746.3Z" fill="#b39480" />
<path d="M611.0 736.3 Q611.0 733.0 617.0 733.0 C671.0 733.0 716.5 731.3 776.5 730.8 L1037.0 730.8 L1037.0 741.8 L776.5 741.8 C716.5 741.3 671.0 739.7 617.0 739.7 Q611.0 739.7 611.0 736.3 Z" fill="#fff"/>
<path d="M768.0 760.7 L780.0 760.7 L780.0 778.6 L768.0 778.6Z" fill="#8c001a" />
<path d="M611 773.1 Q611.5 772.5 618 772.2 L778.0 772.2 L778.0 776.6 L618 774.8 Q611.5 774.8 611 774.3 Z" fill="#6d0012"/>
<path d="M786.0 772.2 L1037.0 772.2 L1037.0 783.6 L786.0 783.6Z" fill="#222a6e" />
<path d="M774.0 772.2 L1037.0 772.2 L1037.0 777.6 L774.0 777.6Z" fill="#222a6e" />
<path d="M771.0 772.2 L778.8 772.2 L781.8 777.6 L774.0 777.6Z" fill="#6d0012" />
<path d="M778.8 772.2 L786.6 772.2 L789.6 777.6 L781.8 777.6Z" fill="#b39480" />
<path d="M786.6 772.2 L794.4 772.2 L797.4 777.6 L789.6 777.6Z" fill="#6d0012" />
<path d="M794.4 772.2 L802.2 772.2 L805.2 777.6 L797.4 777.6Z" fill="#b39480" />
<path d="M802.2 772.2 L810.0 772.2 L813.0 777.6 L805.2 777.6Z" fill="#6d0012" />
<path d="M810.0 772.2 L817.8 772.2 L820.8 777.6 L813.0 777.6Z" fill="#b39480" />
<path d="M817.8 772.2 L825.6 772.2 L828.6 777.6 L820.8 777.6Z" fill="#6d0012" />
<path d="M825.6 772.2 L833.4 772.2 L836.4 777.6 L828.6 777.6Z" fill="#b39480" />
<path d="M833.4 772.2 L841.2 772.2 L844.2 777.6 L836.4 777.6Z" fill="#6d0012" />
<path d="M841.2 772.2 L849.0 772.2 L852.0 777.6 L844.2 777.6Z" fill="#b39480" />
<path d="M611.0 767.2 Q611.0 764.1 617.0 764.1 C671.0 764.1 718.0 762.7 778.0 762.2 L1037.0 762.2 L1037.0 772.2 L778.0 772.2 C718.0 771.7 671.0 770.3 617.0 770.3 Q611.0 770.3 611.0 767.2 Z" fill="#fff"/>
<path d="M770.0 792.1 L781.0 792.1 L781.0 809.9 L770.0 809.9Z" fill="#8c001a" />
<path d="M611 805.1 Q611.5 804.1 618 803.6 L779.0 803.6 L779.0 809.9 L618 807.9 Q611.5 807.9 611 807.0 Z" fill="#6d0012"/>
<path d="M787.0 803.6 L1037.0 803.6 L1037.0 814.9 L787.0 814.9Z" fill="#222a6e" />
<path d="M775.0 803.6 L1037.0 803.6 L1037.0 808.9 L775.0 808.9Z" fill="#222a6e" />
<path d="M772.1 803.6 L779.9 803.6 L782.8 808.9 L775.0 808.9Z" fill="#6d0012" />
<path d="M779.9 803.6 L787.7 803.6 L790.6 808.9 L782.8 808.9Z" fill="#b39480" />
<path d="M787.7 803.6 L795.5 803.6 L798.4 808.9 L790.6 808.9Z" fill="#6d0012" />
<path d="M795.5 803.6 L803.3 803.6 L806.2 808.9 L798.4 808.9Z" fill="#b39480" />
<path d="M803.3 803.6 L811.1 803.6 L814.0 808.9 L806.2 808.9Z" fill="#6d0012" />
<path d="M811.1 803.6 L818.9 803.6 L821.8 808.9 L814.0 808.9Z" fill="#b39480" />
<path d="M818.9 803.6 L826.7 803.6 L829.6 808.9 L821.8 808.9Z" fill="#6d0012" />
<path d="M826.7 803.6 L834.5 803.6 L837.4 808.9 L829.6 808.9Z" fill="#b39480" />
<path d="M834.5 803.6 L842.3 803.6 L845.2 808.9 L837.4 808.9Z" fill="#6d0012" />
<path d="M842.3 803.6 L850.1 803.6 L853.0 808.9 L845.2 808.9Z" fill="#b39480" />
<path d="M611.0 798.6 Q611.0 795.5 617.0 795.5 C671.0 795.5 720.0 794.1 780.0 793.6 L1037.0 793.6 L1037.0 803.6 L780.0 803.6 C720.0 803.1 671.0 801.7 617.0 801.7 Q611.0 801.7 611.0 798.6 Z" fill="#fff"/>
<path d="M744.5 823.5 L781.0 823.5 L781.0 841.2 L744.5 841.2Z" fill="#8c001a" />
<path d="M611 835.6 Q611.5 834.6 618 834.0 L752.5 834.0 L752.5 840.9 L618 838.8 Q611.5 838.8 611 837.8 Z" fill="#6d0012"/>
<path d="M760.5 834.0 L1037.0 834.0 L1037.0 846.2 L760.5 846.2Z" fill="#222a6e" />
<path d="M748.5 834.0 L1037.0 834.0 L1037.0 840.2 L748.5 840.2Z" fill="#222a6e" />
<path d="M745.1 834.0 L752.5 834.0 L755.8 840.2 L748.5 840.2Z" fill="#6d0012" />
<path d="M752.5 834.0 L759.8 834.0 L763.2 840.2 L755.8 840.2Z" fill="#b39480" />
<path d="M759.8 834.0 L767.1 834.0 L770.5 840.2 L763.2 840.2Z" fill="#6d0012" />
<path d="M767.1 834.0 L774.5 834.0 L777.8 840.2 L770.5 840.2Z" fill="#b39480" />
<path d="M774.5 834.0 L781.8 834.0 L785.2 840.2 L777.8 840.2Z" fill="#6d0012" />
<path d="M781.8 834.0 L789.1 834.0 L792.5 840.2 L785.2 840.2Z" fill="#b39480" />
<path d="M789.1 834.0 L796.5 834.0 L799.8 840.2 L792.5 840.2Z" fill="#6d0012" />
<path d="M796.5 834.0 L803.8 834.0 L807.2 840.2 L799.8 840.2Z" fill="#b39480" />
<path d="M803.8 834.0 L811.1 834.0 L814.5 840.2 L807.2 840.2Z" fill="#6d0012" />
<path d="M811.1 834.0 L818.5 834.0 L821.8 840.2 L814.5 840.2Z" fill="#b39480" />
<path d="M818.5 834.0 L825.8 834.0 L829.2 840.2 L821.8 840.2Z" fill="#6d0012" />
<path d="M825.8 834.0 L833.1 834.0 L836.5 840.2 L829.2 840.2Z" fill="#b39480" />
<path d="M611.0 829.5 Q611.0 826.7 617.0 826.7 C671.0 826.7 694.5 825.5 754.5 825.0 L1037.0 825.0 L1037.0 834.0 L754.5 834.0 C694.5 833.5 671.0 832.4 617.0 832.4 Q611.0 832.4 611.0 829.5 Z" fill="#fff"/>
<path d="M744.5 854.9 L756.0 854.9 L756.0 872.5 L744.5 872.5Z" fill="#8c001a" />
<path d="M611 866.2 Q611.5 865.0 618 864.4 L754.0 864.4 L754.0 871.7 L618 869.6 Q611.5 869.6 611 868.5 Z" fill="#6d0012"/>
<path d="M762.0 864.4 L1037.0 864.4 L1037.0 877.5 L762.0 877.5Z" fill="#222a6e" />
<path d="M750.0 864.4 L1037.0 864.4 L1037.0 871.5 L750.0 871.5Z" fill="#222a6e" />
<path d="M746.1 864.4 L753.5 864.4 L757.3 871.5 L750.0 871.5Z" fill="#6d0012" />
<path d="M753.5 864.4 L760.8 864.4 L764.7 871.5 L757.3 871.5Z" fill="#b39480" />
<path d="M760.8 864.4 L768.1 864.4 L772.0 871.5 L764.7 871.5Z" fill="#6d0012" />
<path d="M768.1 864.4 L775.5 864.4 L779.3 871.5 L772.0 871.5Z" fill="#b39480" />
<path d="M775.5 864.4 L782.8 864.4 L786.7 871.5 L779.3 871.5Z" fill="#6d0012" />
<path d="M782.8 864.4 L790.1 864.4 L794.0 871.5 L786.7 871.5Z" fill="#b39480" />
<path d="M790.1 864.4 L797.5 864.4 L801.3 871.5 L794.0 871.5Z" fill="#6d0012" />
<path d="M797.5 864.4 L804.8 864.4 L808.7 871.5 L801.3 871.5Z" fill="#b39480" />
<path d="M804.8 864.4 L812.1 864.4 L816.0 871.5 L808.7 871.5Z" fill="#6d0012" />
<path d="M812.1 864.4 L819.5 864.4 L823.3 871.5 L816.0 871.5Z" fill="#b39480" />
<path d="M819.5 864.4 L826.8 864.4 L830.7 871.5 L823.3 871.5Z" fill="#6d0012" />
<path d="M826.8 864.4 L834.1 864.4 L838.0 871.5 L830.7 871.5Z" fill="#b39480" />
<path d="M611.0 860.4 Q611.0 857.8 617.0 857.8 C671.0 857.8 694.5 856.9 754.5 856.4 L1037.0 856.4 L1037.0 864.4 L754.5 864.4 C694.5 863.9 671.0 863.0 617.0 863.0 Q611.0 863.0 611.0 860.4 Z" fill="#fff"/>
<path d="M746.0 886.3 L758.0 886.3 L758.0 903.7 L746.0 903.7Z" fill="#8c001a" />
<path d="M611 896.7 Q611.5 895.4 618 894.8 L756.0 894.8 L756.0 902.6 L618 900.5 Q611.5 900.5 611 899.2 Z" fill="#6d0012"/>
<path d="M764.0 894.8 L1037.0 894.8 L1037.0 908.7 L764.0 908.7Z" fill="#222a6e" />
<path d="M752.0 894.8 L1037.0 894.8 L1037.0 902.7 L752.0 902.7Z" fill="#222a6e" />
<path d="M747.7 894.8 L755.0 894.8 L759.3 902.7 L752.0 902.7Z" fill="#6d0012" />
<path d="M755.0 894.8 L762.3 894.8 L766.7 902.7 L759.3 902.7Z" fill="#b39480" />
<path d="M762.3 894.8 L769.7 894.8 L774.0 902.7 L766.7 902.7Z" fill="#6d0012" />
<path d="M769.7 894.8 L777.0 894.8 L781.3 902.7 L774.0 902.7Z" fill="#b39480" />
<path d="M777.0 894.8 L784.3 894.8 L788.7 902.7 L781.3 902.7Z" fill="#6d0012" />
<path d="M784.3 894.8 L791.7 894.8 L796.0 902.7 L788.7 902.7Z" fill="#b39480" />
<path d="M791.7 894.8 L799.0 894.8 L803.3 902.7 L796.0 902.7Z" fill="#6d0012" />
<path d="M799.0 894.8 L806.3 894.8 L810.7 902.7 L803.3 902.7Z" fill="#b39480" />
<path d="M806.3 894.8 L813.7 894.8 L818.0 902.7 L810.7 902.7Z" fill="#6d0012" />
<path d="M813.7 894.8 L821.0 894.8 L825.3 902.7 L818.0 902.7Z" fill="#b39480" />
<path d="M821.0 894.8 L828.3 894.8 L832.7 902.7 L825.3 902.7Z" fill="#6d0012" />
<path d="M828.3 894.8 L835.7 894.8 L840.0 902.7 L832.7 902.7Z" fill="#b39480" />
<path d="M611.0 891.3 Q611.0 889.0 617.0 889.0 C671.0 889.0 696.0 888.3 756.0 887.8 L1037.0 887.8 L1037.0 894.8 L756.0 894.8 C696.0 894.3 671.0 893.7 617.0 893.7 Q611.0 893.7 611.0 891.3 Z" fill="#fff"/>
<path d="M748.0 917.7 L760.0 917.7 L760.0 935.0 L748.0 935.0Z" fill="#8c001a" />
<path d="M611 926.7 Q611.5 925.4 618 924.7 L758.0 924.7 L758.0 932.9 L618 930.8 Q611.5 930.8 611 929.4 Z" fill="#6d0012"/>
<path d="M766.0 924.7 L1037.0 924.7 L1037.0 940.0 L766.0 940.0Z" fill="#222a6e" />
<path d="M754.0 924.7 L1037.0 924.7 L1037.0 934.0 L754.0 934.0Z" fill="#222a6e" />
<path d="M748.9 924.7 L756.2 924.7 L761.3 934.0 L754.0 934.0Z" fill="#6d0012" />
<path d="M756.2 924.7 L763.6 924.7 L768.7 934.0 L761.3 934.0Z" fill="#b39480" />
<path d="M763.6 924.7 L770.9 924.7 L776.0 934.0 L768.7 934.0Z" fill="#6d0012" />
<path d="M770.9 924.7 L778.2 924.7 L783.3 934.0 L776.0 934.0Z" fill="#b39480" />
<path d="M778.2 924.7 L785.6 924.7 L790.7 934.0 L783.3 934.0Z" fill="#6d0012" />
<path d="M785.6 924.7 L792.9 924.7 L798.0 934.0 L790.7 934.0Z" fill="#b39480" />
<path d="M792.9 924.7 L800.2 924.7 L805.3 934.0 L798.0 934.0Z" fill="#6d0012" />
<path d="M800.2 924.7 L807.6 924.7 L812.7 934.0 L805.3 934.0Z" fill="#b39480" />
<path d="M807.6 924.7 L814.9 924.7 L820.0 934.0 L812.7 934.0Z" fill="#6d0012" />
<path d="M814.9 924.7 L822.2 924.7 L827.3 934.0 L820.0 934.0Z" fill="#b39480" />
<path d="M822.2 924.7 L829.6 924.7 L834.7 934.0 L827.3 934.0Z" fill="#6d0012" />
<path d="M829.6 924.7 L836.9 924.7 L842.0 934.0 L834.7 934.0Z" fill="#b39480" />
<path d="M611.0 921.9 Q611.0 920.0 617.0 920.0 C671.0 920.0 698.0 919.7 758.0 919.2 L1037.0 919.2 L1037.0 924.7 L758.0 924.7 C698.0 924.2 671.0 923.9 617.0 923.9 Q611.0 923.9 611.0 921.9 Z" fill="#fff"/>
<path d="M721.0 949.1 L760.0 949.1 L760.0 966.2 L721.0 966.2Z" fill="#8c001a" />
<path d="M611 956.7 Q611.5 955.3 618 954.6 L729.0 954.6 L729.0 963.3 L618 961.1 Q611.5 961.1 611 959.6 Z" fill="#6d0012"/>
<path d="M737.0 954.6 L1037.0 954.6 L1037.0 971.2 L737.0 971.2Z" fill="#222a6e" />
<path d="M725.0 954.6 L1037.0 954.6 L1037.0 965.2 L725.0 965.2Z" fill="#222a6e" />
<path d="M719.1 954.6 L726.3 954.6 L732.2 965.2 L725.0 965.2Z" fill="#6d0012" />
<path d="M726.3 954.6 L733.5 954.6 L739.4 965.2 L732.2 965.2Z" fill="#b39480" />
<path d="M733.5 954.6 L740.7 954.6 L746.6 965.2 L739.4 965.2Z" fill="#6d0012" />
<path d="M740.7 954.6 L747.9 954.6 L753.8 965.2 L746.6 965.2Z" fill="#b39480" />
<path d="M747.9 954.6 L755.1 954.6 L761.0 965.2 L753.8 965.2Z" fill="#6d0012" />
<path d="M755.1 954.6 L762.3 954.6 L768.2 965.2 L761.0 965.2Z" fill="#b39480" />
<path d="M762.3 954.6 L769.5 954.6 L775.4 965.2 L768.2 965.2Z" fill="#6d0012" />
<path d="M769.5 954.6 L776.7 954.6 L782.6 965.2 L775.4 965.2Z" fill="#b39480" />
<path d="M776.7 954.6 L783.9 954.6 L789.8 965.2 L782.6 965.2Z" fill="#6d0012" />
<path d="M783.9 954.6 L791.1 954.6 L797.0 965.2 L789.8 965.2Z" fill="#b39480" />
<path d="M660.0 952.6 Q660.0 952.0 666.0 952.0 C720.0 952.0 720.0 950.6 780.0 950.6 L1037.0 950.6 L1037.0 954.6 L780.0 954.6 C720.0 954.6 720.0 953.2 666.0 953.2 Q660.0 953.2 660.0 952.6 Z" fill="#fff"/>
<path d="M721.0 980.4 L733.0 980.4 L733.0 997.5 L721.0 997.5Z" fill="#8c001a" />
<path d="M611 986.7 Q611.5 985.2 618 984.4 L731.0 984.4 L731.0 993.6 L618 991.3 Q611.5 991.3 611 989.8 Z" fill="#6d0012"/>
<path d="M739.0 984.4 L1037.0 984.4 L1037.0 1002.5 L739.0 1002.5Z" fill="#222a6e" />
<path d="M727.0 984.4 L1037.0 984.4 L1037.0 996.5 L727.0 996.5Z" fill="#222a6e" />
<path d="M720.4 984.4 L727.6 984.4 L734.2 996.5 L727.0 996.5Z" fill="#6d0012" />
<path d="M727.6 984.4 L734.8 984.4 L741.4 996.5 L734.2 996.5Z" fill="#b39480" />
<path d="M734.8 984.4 L742.0 984.4 L748.6 996.5 L741.4 996.5Z" fill="#6d0012" />
<path d="M742.0 984.4 L749.2 984.4 L755.8 996.5 L748.6 996.5Z" fill="#b39480" />
<path d="M749.2 984.4 L756.4 984.4 L763.0 996.5 L755.8 996.5Z" fill="#6d0012" />
<path d="M756.4 984.4 L763.6 984.4 L770.2 996.5 L763.0 996.5Z" fill="#b39480" />
<path d="M763.6 984.4 L770.8 984.4 L777.4 996.5 L770.2 996.5Z" fill="#6d0012" />
<path d="M770.8 984.4 L778.0 984.4 L784.6 996.5 L777.4 996.5Z" fill="#b39480" />
<path d="M778.0 984.4 L785.2 984.4 L791.8 996.5 L784.6 996.5Z" fill="#6d0012" />
<path d="M785.2 984.4 L792.4 984.4 L799.0 996.5 L791.8 996.5Z" fill="#b39480" />
<path d="M679.0 983.2 Q679.0 982.6 685.0 982.6 C739.0 982.6 739.0 981.9 799.0 981.9 L1037.0 981.9 L1037.0 984.4 L799.0 984.4 C739.0 984.4 739.0 983.8 685.0 983.8 Q679.0 983.8 679.0 983.2 Z" fill="#fff"/>
<path d="M723.0 1011.8 L735.0 1011.8 L735.0 1028.7 L723.0 1028.7Z" fill="#8c001a" />
<path d="M611 1018.2 Q611.5 1016.6 618 1015.8 L733.0 1015.8 L733.0 1025.4 L618 1023.1 Q611.5 1023.1 611 1021.5 Z" fill="#6d0012"/>
<path d="M741.0 1015.8 L1037.0 1015.8 L1037.0 1033.7 L741.0 1033.7Z" fill="#222a6e" />
<path d="M729.0 1015.8 L1037.0 1015.8 L1037.0 1027.7 L729.0 1027.7Z" fill="#222a6e" />
<path d="M722.4 1015.8 L729.6 1015.8 L736.2 1027.7 L729.0 1027.7Z" fill="#6d0012" />
<path d="M729.6 1015.8 L736.8 1015.8 L743.4 1027.7 L736.2 1027.7Z" fill="#b39480" />
<path d="M736.8 1015.8 L744.0 1015.8 L750.6 1027.7 L743.4 1027.7Z" fill="#6d0012" />
<path d="M744.0 1015.8 L751.2 1015.8 L757.8 1027.7 L750.6 1027.7Z" fill="#b39480" />
<path d="M751.2 1015.8 L758.4 1015.8 L765.0 1027.7 L757.8 1027.7Z" fill="#6d0012" />
<path d="M758.4 1015.8 L765.6 1015.8 L772.2 1027.7 L765.0 1027.7Z" fill="#b39480" />
<path d="M765.6 1015.8 L772.8 1015.8 L779.4 1027.7 L772.2 1027.7Z" fill="#6d0012" />
<path d="M772.8 1015.8 L780.0 1015.8 L786.6 1027.7 L779.4 1027.7Z" fill="#b39480" />
<path d="M780.0 1015.8 L787.2 1015.8 L793.8 1027.7 L786.6 1027.7Z" fill="#6d0012" />
<path d="M787.2 1015.8 L794.4 1015.8 L801.0 1027.7 L793.8 1027.7Z" fill="#b39480" />
<path d="M654.0 1014.5 Q654.0 1013.9 660.0 1013.9 C714.0 1013.9 714.0 1013.3 774.0 1013.3 L1037.0 1013.3 L1037.0 1015.8 L774.0 1015.8 C714.0 1015.8 714.0 1015.1 660.0 1015.1 Q654.0 1015.1 654.0 1014.5 Z" fill="#fff"/>
<path d="M725.0 1043.2 L737.0 1043.2 L737.0 1060.0 L725.0 1060.0Z" fill="#8c001a" />
<path d="M611 1049.2 Q611.5 1047.5 618 1046.7 L735.0 1046.7 L735.0 1056.8 L618 1054.4 Q611.5 1054.4 611 1052.7 Z" fill="#6d0012"/>
<path d="M743.0 1046.7 L1037.0 1046.7 L1037.0 1065.0 L743.0 1065.0Z" fill="#222a6e" />
<path d="M731.0 1046.7 L1037.0 1046.7 L1037.0 1059.0 L731.0 1059.0Z" fill="#222a6e" />
<path d="M731.0 1044.2 L881.0 1044.2 L881.0 1047.2 L731.0 1047.2Z" fill="#222a6e" />
<path d="M724.2 1046.7 L731.4 1046.7 L738.2 1059.0 L731.0 1059.0Z" fill="#6d0012" />
<path d="M731.4 1046.7 L738.6 1046.7 L745.4 1059.0 L738.2 1059.0Z" fill="#b39480" />
<path d="M738.6 1046.7 L745.8 1046.7 L752.6 1059.0 L745.4 1059.0Z" fill="#6d0012" />
<path d="M745.8 1046.7 L753.0 1046.7 L759.8 1059.0 L752.6 1059.0Z" fill="#b39480" />
<path d="M753.0 1046.7 L760.2 1046.7 L767.0 1059.0 L759.8 1059.0Z" fill="#6d0012" />
<path d="M760.2 1046.7 L767.4 1046.7 L774.2 1059.0 L767.0 1059.0Z" fill="#b39480" />
<path d="M767.4 1046.7 L774.6 1046.7 L781.4 1059.0 L774.2 1059.0Z" fill="#6d0012" />
<path d="M774.6 1046.7 L781.8 1046.7 L788.6 1059.0 L781.4 1059.0Z" fill="#b39480" />
<path d="M781.8 1046.7 L789.0 1046.7 L795.8 1059.0 L788.6 1059.0Z" fill="#6d0012" />
<path d="M789.0 1046.7 L796.2 1046.7 L803.0 1059.0 L795.8 1059.0Z" fill="#b39480" />
<path d="M861.0 1045.7 Q861.0 1045.1 867.0 1045.1 C921.0 1045.1 921.0 1044.7 981.0 1044.7 L1037.0 1044.7 L1037.0 1046.7 L981.0 1046.7 C921.0 1046.7 921.0 1046.3 867.0 1046.3 Q861.0 1046.3 861.0 1045.7 Z" fill="#fff"/>
<path d="M699.0 1074.5 L737.0 1074.5 L737.0 1091.2 L699.0 1091.2Z" fill="#8c001a" />
<path d="M611 1080.2 Q611.5 1078.4 618 1077.5 L707.0 1077.5 L707.0 1088.1 L618 1085.7 Q611.5 1085.7 611 1083.9 Z" fill="#6d0012"/>
<path d="M715.0 1077.5 L1037.0 1077.5 L1037.0 1096.2 L715.0 1096.2Z" fill="#222a6e" />
<path d="M703.0 1077.5 L1037.0 1077.5 L1037.0 1090.2 L703.0 1090.2Z" fill="#222a6e" />
<path d="M703.0 1075.5 L1001.0 1075.5 L1001.0 1078.0 L703.0 1078.0Z" fill="#222a6e" />
<path d="M696.0 1077.5 L703.5 1077.5 L710.5 1090.2 L703.0 1090.2Z" fill="#6d0012" />
<path d="M703.5 1077.5 L711.0 1077.5 L718.0 1090.2 L710.5 1090.2Z" fill="#b39480" />
<path d="M711.0 1077.5 L718.5 1077.5 L725.5 1090.2 L718.0 1090.2Z" fill="#6d0012" />
<path d="M718.5 1077.5 L726.0 1077.5 L733.0 1090.2 L725.5 1090.2Z" fill="#b39480" />
<path d="M726.0 1077.5 L733.5 1077.5 L740.5 1090.2 L733.0 1090.2Z" fill="#6d0012" />
<path d="M733.5 1077.5 L741.0 1077.5 L748.0 1090.2 L740.5 1090.2Z" fill="#b39480" />
<path d="M981.0 1076.8 Q981.0 1076.2 987.0 1076.2 C1041.0 1076.2 1041.0 1076.0 1101.0 1076.0 L1037.0 1076.0 L1037.0 1077.5 L1101.0 1077.5 C1041.0 1077.5 1041.0 1077.4 987.0 1077.4 Q981.0 1077.4 981.0 1076.8 Z" fill="#fff"/>
<path d="M699.0 1105.9 L710.0 1105.9 L710.0 1122.4 L699.0 1122.4Z" fill="#8c001a" />
<path d="M611 1111.7 Q611.5 1109.8 618 1108.9 L708.0 1108.9 L708.0 1119.9 L618 1117.5 Q611.5 1117.5 611 1115.5 Z" fill="#6d0012"/>
<path d="M716.0 1108.9 L1037.0 1108.9 L1037.0 1127.4 L716.0 1127.4Z" fill="#222a6e" />
<path d="M704.0 1108.9 L1037.0 1108.9 L1037.0 1121.4 L704.0 1121.4Z" fill="#222a6e" />
<path d="M704.0 1106.9 L986.0 1106.9 L986.0 1109.4 L704.0 1109.4Z" fill="#222a6e" />
<path d="M697.1 1108.9 L704.6 1108.9 L711.5 1121.4 L704.0 1121.4Z" fill="#6d0012" />
<path d="M704.6 1108.9 L712.1 1108.9 L719.0 1121.4 L711.5 1121.4Z" fill="#b39480" />
<path d="M712.1 1108.9 L719.6 1108.9 L726.5 1121.4 L719.0 1121.4Z" fill="#6d0012" />
<path d="M719.6 1108.9 L727.1 1108.9 L734.0 1121.4 L726.5 1121.4Z" fill="#b39480" />
<path d="M727.1 1108.9 L734.6 1108.9 L741.5 1121.4 L734.0 1121.4Z" fill="#6d0012" />
<path d="M734.6 1108.9 L742.1 1108.9 L749.0 1121.4 L741.5 1121.4Z" fill="#b39480" />
<path d="M966.0 1108.1 Q966.0 1107.5 972.0 1107.5 C1026.0 1107.5 1026.0 1107.4 1086.0 1107.4 L1037.0 1107.4 L1037.0 1108.9 L1086.0 1108.9 C1026.0 1108.9 1026.0 1108.7 972.0 1108.7 Q966.0 1108.7 966.0 1108.1 Z" fill="#fff"/>
<path d="M700.0 1137.2 L712.0 1137.2 L712.0 1153.6 L700.0 1153.6Z" fill="#8c001a" />
<path d="M611 1141.7 Q611.5 1139.7 618 1138.7 L710.0 1138.7 L710.0 1150.2 L618 1147.7 Q611.5 1147.7 611 1145.7 Z" fill="#6d0012"/>
<path d="M718.0 1138.7 L1037.0 1138.7 L1037.0 1158.6 L718.0 1158.6Z" fill="#222a6e" />
<path d="M706.0 1138.7 L1037.0 1138.7 L1037.0 1152.6 L706.0 1152.6Z" fill="#222a6e" />
<path d="M698.3 1138.7 L705.8 1138.7 L713.5 1152.6 L706.0 1152.6Z" fill="#6d0012" />
<path d="M705.8 1138.7 L713.3 1138.7 L721.0 1152.6 L713.5 1152.6Z" fill="#b39480" />
<path d="M713.3 1138.7 L720.8 1138.7 L728.5 1152.6 L721.0 1152.6Z" fill="#6d0012" />
<path d="M720.8 1138.7 L728.3 1138.7 L736.0 1152.6 L728.5 1152.6Z" fill="#b39480" />
<path d="M728.3 1138.7 L735.8 1138.7 L743.5 1152.6 L736.0 1152.6Z" fill="#6d0012" />
<path d="M735.8 1138.7 L743.3 1138.7 L751.0 1152.6 L743.5 1152.6Z" fill="#b39480" />
<path d="M702.0 1168.5 L713.0 1168.5 L713.0 1184.9 L702.0 1184.9Z" fill="#8c001a" />
<path d="M611 1173.2 Q611.5 1171.1 618 1170.0 L711.0 1170.0 L711.0 1182.0 L618 1179.5 Q611.5 1179.5 611 1177.4 Z" fill="#6d0012"/>
<path d="M719.0 1170.0 L1037.0 1170.0 L1037.0 1189.9 L719.0 1189.9Z" fill="#222a6e" />
<path d="M707.0 1170.0 L1037.0 1170.0 L1037.0 1183.9 L707.0 1183.9Z" fill="#222a6e" />
<path d="M699.4 1170.0 L706.9 1170.0 L714.5 1183.9 L707.0 1183.9Z" fill="#6d0012" />
<path d="M706.9 1170.0 L714.4 1170.0 L722.0 1183.9 L714.5 1183.9Z" fill="#b39480" />
<path d="M714.4 1170.0 L721.9 1170.0 L729.5 1183.9 L722.0 1183.9Z" fill="#6d0012" />
<path d="M721.9 1170.0 L729.4 1170.0 L737.0 1183.9 L729.5 1183.9Z" fill="#b39480" />
<path d="M729.4 1170.0 L736.9 1170.0 L744.5 1183.9 L737.0 1183.9Z" fill="#6d0012" />
<path d="M736.9 1170.0 L744.4 1170.0 L752.0 1183.9 L744.5 1183.9Z" fill="#b39480" />
<path d="M711.0 84.9 Q909.2 84.9 1037.0 84.9 L1037.0 99.3 Q909.2 100.5 711.0 103.9 A9.5 9.5 0 0 1 711.0 84.9 Z" fill="#2d3a92"/>
<path d="M710.4 116.4 Q909.0 116.8 1037.0 116.5 L1037.0 130.9 Q909.0 131.7 710.4 135.3 A9.4 9.4 0 0 1 710.4 116.4 Z" fill="#2d3a92"/>
<path d="M709.4 147.9 Q908.5 148.5 1037.0 148.0 L1037.0 162.6 Q908.5 163.1 709.4 166.7 A9.4 9.4 0 0 1 709.4 147.9 Z" fill="#2d3a92"/>
<path d="M708.3 179.5 Q908.0 180.2 1037.0 179.6 L1037.0 194.2 Q908.0 194.6 708.3 198.1 A9.3 9.3 0 0 1 708.3 179.5 Z" fill="#2d3a92"/>
<path d="M734.3 211.0 Q921.0 211.8 1037.0 211.1 L1037.0 225.8 Q921.0 226.0 734.3 229.5 A9.3 9.3 0 0 1 734.3 211.0 Z" fill="#2d3a92"/>
<path d="M734.2 242.5 Q921.0 243.5 1037.0 242.6 L1037.0 257.5 Q921.0 257.4 734.2 260.9 A9.2 9.2 0 0 1 734.2 242.5 Z" fill="#2d3a92"/>
<path d="M732.2 274.0 Q920.0 275.1 1037.0 274.1 L1037.0 289.1 Q920.0 288.9 732.2 292.3 A9.2 9.2 0 0 1 732.2 274.0 Z" fill="#2d3a92"/>
<path d="M731.1 305.5 Q919.5 306.7 1037.0 305.7 L1037.0 320.7 Q919.5 320.3 731.1 323.7 A9.1 9.1 0 0 1 731.1 305.5 Z" fill="#2d3a92"/>
<path d="M759.0 337.0 Q933.5 338.3 1037.0 337.2 L1037.0 352.3 Q933.5 351.8 759.0 355.0 A9.0 9.0 0 0 1 759.0 337.0 Z" fill="#2d3a92"/>
<path d="M758.0 368.4 Q933.0 369.9 1037.0 368.7 L1037.0 383.9 Q933.0 383.2 758.0 386.4 A9.0 9.0 0 0 1 758.0 368.4 Z" fill="#2d3a92"/>
<path d="M755.9 399.9 Q932.0 401.5 1037.0 400.1 L1037.0 415.5 Q932.0 414.7 755.9 417.8 A8.9 8.9 0 0 1 755.9 399.9 Z" fill="#2d3a92"/>
<path d="M753.9 431.4 Q931.0 433.1 1037.0 431.6 L1037.0 447.1 Q931.0 446.1 753.9 449.1 A8.9 8.9 0 0 1 753.9 431.4 Z" fill="#2d3a92"/>
<path d="M778.8 462.8 Q943.5 464.7 1037.0 463.1 L1037.0 478.7 Q943.5 477.5 778.8 480.5 A8.8 8.8 0 0 1 778.8 462.8 Z" fill="#2d3a92"/>
<path d="M778.8 494.3 Q943.5 496.2 1037.0 494.6 L1037.0 510.3 Q943.5 509.0 778.8 511.8 A8.8 8.8 0 0 1 778.8 494.3 Z" fill="#2d3a92"/>
<path d="M777.7 525.7 Q943.0 527.8 1037.0 526.1 L1037.0 541.9 Q943.0 540.4 777.7 543.1 A8.7 8.7 0 0 1 777.7 525.7 Z" fill="#2d3a92"/>
<path d="M775.6 557.2 Q942.0 559.3 1037.0 557.5 L1037.0 573.5 Q942.0 571.8 775.6 574.5 A8.6 8.6 0 0 1 775.6 557.2 Z" fill="#2d3a92"/>
<path d="M787.6 588.6 Q948.0 590.9 1037.0 589.0 L1037.0 605.1 Q948.0 603.2 787.6 605.8 A8.6 8.6 0 0 1 787.6 588.6 Z" fill="#2d3a92"/>
<path d="M787.5 620.1 Q948.0 622.4 1037.0 620.4 L1037.0 636.6 Q948.0 634.7 787.5 637.1 A8.5 8.5 0 0 1 787.5 620.1 Z" fill="#2d3a92"/>
<path d="M787.5 651.4 Q948.0 653.9 1037.0 651.9 L1037.0 668.1 Q948.0 666.1 787.5 668.5 A8.5 8.5 0 0 1 787.5 651.4 Z" fill="#2d3a92"/>
<path d="M787.6 682.7 Q948.0 685.3 1037.0 683.5 L1037.0 699.6 Q948.0 697.7 787.6 699.9 A8.6 8.6 0 0 1 787.6 682.7 Z" fill="#2d3a92"/>
<path d="M775.1 714.0 Q941.8 716.7 1037.0 715.0 L1037.0 731.0 Q941.8 729.2 775.1 731.3 A8.6 8.6 0 0 1 775.1 714.0 Z" fill="#2d3a92"/>
<path d="M776.7 745.3 Q942.5 748.1 1037.0 746.6 L1037.0 762.4 Q942.5 760.7 776.7 762.7 A8.7 8.7 0 0 1 776.7 745.3 Z" fill="#2d3a92"/>
<path d="M778.8 776.6 Q943.5 779.5 1037.0 778.1 L1037.0 793.8 Q943.5 792.2 778.8 794.1 A8.8 8.8 0 0 1 778.8 776.6 Z" fill="#2d3a92"/>
<path d="M779.8 807.9 Q944.0 810.8 1037.0 809.6 L1037.0 825.3 Q944.0 823.7 779.8 825.5 A8.8 8.8 0 0 1 779.8 807.9 Z" fill="#2d3a92"/>
<path d="M753.4 839.2 Q930.8 842.2 1037.0 841.2 L1037.0 856.7 Q930.8 855.2 753.4 856.9 A8.9 8.9 0 0 1 753.4 839.2 Z" fill="#2d3a92"/>
<path d="M754.9 870.5 Q931.5 873.6 1037.0 872.7 L1037.0 888.1 Q931.5 886.7 754.9 888.3 A8.9 8.9 0 0 1 754.9 870.5 Z" fill="#2d3a92"/>
<path d="M757.0 901.7 Q932.5 904.9 1037.0 904.2 L1037.0 919.5 Q932.5 918.2 757.0 919.7 A9.0 9.0 0 0 1 757.0 901.7 Z" fill="#2d3a92"/>
<path d="M759.0 933.0 Q933.5 936.2 1037.0 935.7 L1037.0 950.9 Q933.5 949.7 759.0 951.1 A9.0 9.0 0 0 1 759.0 933.0 Z" fill="#2d3a92"/>
<path d="M730.1 964.2 Q919.0 967.6 1037.0 967.2 L1037.0 982.2 Q919.0 981.2 730.1 982.4 A9.1 9.1 0 0 1 730.1 964.2 Z" fill="#2d3a92"/>
<path d="M732.2 995.5 Q920.0 998.9 1037.0 998.7 L1037.0 1013.6 Q920.0 1012.7 732.2 1013.8 A9.2 9.2 0 0 1 732.2 995.5 Z" fill="#2d3a92"/>
<path d="M734.2 1026.7 Q921.0 1030.2 1037.0 1030.2 L1037.0 1045.0 Q921.0 1044.2 734.2 1045.2 A9.2 9.2 0 0 1 734.2 1026.7 Z" fill="#2d3a92"/>
<path d="M736.3 1058.0 Q922.0 1061.5 1037.0 1061.6 L1037.0 1076.4 Q922.0 1075.7 736.3 1076.5 A9.3 9.3 0 0 1 736.3 1058.0 Z" fill="#2d3a92"/>
<path d="M708.3 1089.2 Q908.0 1092.8 1037.0 1093.1 L1037.0 1107.7 Q908.0 1107.2 708.3 1107.9 A9.3 9.3 0 0 1 708.3 1089.2 Z" fill="#2d3a92"/>
<path d="M709.4 1120.4 Q908.5 1124.0 1037.0 1124.6 L1037.0 1139.1 Q908.5 1138.7 709.4 1139.2 A9.4 9.4 0 0 1 709.4 1120.4 Z" fill="#2d3a92"/>
<path d="M711.4 1151.6 Q909.5 1155.2 1037.0 1156.0 L1037.0 1170.5 Q909.5 1170.2 711.4 1170.5 A9.4 9.4 0 0 1 711.4 1151.6 Z" fill="#2d3a92"/>
<path d="M712.5 1182.9 Q910.0 1186.3 1037.0 1187.5 L1037.0 1201.9 Q910.0 1201.9 712.5 1201.9 A9.5 9.5 0 0 1 712.5 1182.9 Z" fill="#2d3a92"/>
<path d="M1020.0 116.9 L1037.5 116.9 L1037.5 102.4Z" fill="#fff" />
<path d="M1020.0 148.4 L1037.5 148.4 L1037.5 133.8Z" fill="#fff" />
<path d="M1020.0 180.0 L1037.5 180.0 L1037.5 165.2Z" fill="#fff" />
<path d="M1020.0 211.5 L1037.5 211.5 L1037.5 196.6Z" fill="#fff" />
<path d="M1020.0 243.0 L1037.5 243.0 L1037.5 228.0Z" fill="#fff" />
<path d="M1020.5 240.5 L1020.5 242.5" stroke="#222" stroke-width="1.6"/>
<path d="M1020.0 274.5 L1037.5 274.5 L1037.5 259.4Z" fill="#fff" />
<path d="M1020.5 270.5 L1020.5 274.0" stroke="#222" stroke-width="1.6"/>
<path d="M1020.0 306.0 L1037.5 306.0 L1037.5 290.8Z" fill="#fff" />
<path d="M1020.5 301.5 L1020.5 305.5" stroke="#222" stroke-width="1.6"/>
<path d="M1020.0 337.5 L1037.5 337.5 L1037.5 322.2Z" fill="#fff" />
<path d="M1020.5 332.0 L1020.5 337.0" stroke="#222" stroke-width="1.6"/>
<path d="M1020.0 368.9 L1037.5 368.9 L1037.5 353.5Z" fill="#fff" />
<path d="M1020.5 362.9 L1020.5 368.4" stroke="#222" stroke-width="1.6"/>
<path d="M1020.0 400.4 L1037.5 400.4 L1037.5 384.9Z" fill="#fff" />
<path d="M1020.5 393.4 L1020.5 399.9" stroke="#222" stroke-width="1.6"/>
<path d="M1020.0 431.9 L1037.5 431.9 L1037.5 416.3Z" fill="#fff" />
<path d="M1020.5 424.4 L1020.5 431.4" stroke="#222" stroke-width="1.6"/>
<path d="M1020.0 463.3 L1037.5 463.3 L1037.5 447.6Z" fill="#fff" />
<path d="M1020.5 454.8 L1020.5 462.8" stroke="#222" stroke-width="1.6"/>
<path d="M1020.0 494.8 L1037.5 494.8 L1037.5 479.0Z" fill="#fff" />
<path d="M1020.5 485.3 L1020.5 494.3" stroke="#222" stroke-width="1.6"/>
<path d="M1020.0 526.2 L1037.5 526.2 L1037.5 510.3Z" fill="#fff" />
<path d="M1020.5 516.2 L1020.5 525.7" stroke="#222" stroke-width="1.6"/>
<path d="M1020.0 557.7 L1037.5 557.7 L1037.5 541.6Z" fill="#fff" />
<path d="M1020.5 547.7 L1020.5 557.2" stroke="#222" stroke-width="1.6"/>
<path d="M1020.0 589.1 L1037.5 589.1 L1037.5 573.0Z" fill="#fff" />
<path d="M1020.5 578.6 L1020.5 588.6" stroke="#222" stroke-width="1.6"/>
<path d="M1020.0 620.6 L1037.5 620.6 L1037.5 604.3Z" fill="#fff" />
<path d="M1020.5 609.6 L1020.5 620.1" stroke="#222" stroke-width="1.6"/>
<path d="M1020.0 636.6 L1037.5 636.6 L1037.5 652.9Z" fill="#fff" />
<path d="M1020.5 637.1 L1020.5 648.6" stroke="#222" stroke-width="1.6"/>
<path d="M1020.0 668.0 L1037.5 668.0 L1037.5 684.2Z" fill="#fff" />
<path d="M1020.5 668.5 L1020.5 679.0" stroke="#222" stroke-width="1.6"/>
<path d="M1020.0 699.4 L1037.5 699.4 L1037.5 715.5Z" fill="#fff" />
<path d="M1020.5 699.9 L1020.5 710.9" stroke="#222" stroke-width="1.6"/>
<path d="M1020.0 730.8 L1037.5 730.8 L1037.5 746.8Z" fill="#fff" />
<path d="M1020.5 731.3 L1020.5 741.3" stroke="#222" stroke-width="1.6"/>
<path d="M1020.0 762.2 L1037.5 762.2 L1037.5 778.1Z" fill="#fff" />
<path d="M1020.5 762.7 L1020.5 771.7" stroke="#222" stroke-width="1.6"/>
<path d="M1020.0 793.6 L1037.5 793.6 L1037.5 809.4Z" fill="#fff" />
<path d="M1020.5 794.1 L1020.5 803.1" stroke="#222" stroke-width="1.6"/>
<path d="M1020.0 825.0 L1037.5 825.0 L1037.5 840.7Z" fill="#fff" />
<path d="M1020.5 825.5 L1020.5 833.5" stroke="#222" stroke-width="1.6"/>
<path d="M1020.0 856.4 L1037.5 856.4 L1037.5 872.0Z" fill="#fff" />
<path d="M1020.5 856.9 L1020.5 863.9" stroke="#222" stroke-width="1.6"/>
<path d="M1020.0 887.8 L1037.5 887.8 L1037.5 903.2Z" fill="#fff" />
<path d="M1020.5 888.3 L1020.5 894.3" stroke="#222" stroke-width="1.6"/>
<path d="M1020.0 919.2 L1037.5 919.2 L1037.5 934.5Z" fill="#fff" />
<path d="M1020.5 919.7 L1020.5 924.2" stroke="#222" stroke-width="1.6"/>
<path d="M1020.0 950.6 L1037.5 950.6 L1037.5 965.7Z" fill="#fff" />
<path d="M1020.5 951.1 L1020.5 954.1" stroke="#222" stroke-width="1.6"/>
<path d="M1020.0 981.9 L1037.5 981.9 L1037.5 997.0Z" fill="#fff" />
<path d="M1020.5 982.4 L1020.5 983.9" stroke="#222" stroke-width="1.6"/>
<path d="M1020.0 1013.3 L1037.5 1013.3 L1037.5 1028.2Z" fill="#fff" />
<path d="M1020.5 1013.8 L1020.5 1015.3" stroke="#222" stroke-width="1.6"/>
<path d="M1020.0 1044.7 L1037.5 1044.7 L1037.5 1059.5Z" fill="#fff" />
<path d="M1020.0 1076.0 L1037.5 1076.0 L1037.5 1090.7Z" fill="#fff" />
<path d="M1020.0 1107.4 L1037.5 1107.4 L1037.5 1121.9Z" fill="#fff" />
<path d="M1020.0 1138.7 L1037.5 1138.7 L1037.5 1153.1Z" fill="#fff" />
<path d="M1020.0 1170.0 L1037.5 1170.0 L1037.5 1184.4Z" fill="#fff" />
<path d="M109.0 400.0 L107.5 470.0 L112.0 500.0 L119.0 502.0 L119.0 782.0 L112.0 784.0 L107.5 814.0 L109.0 884.0 L100.0 884.0 L98.0 642.0 L100.0 400.0Z" fill="#2d3a92" />
<path d="M110.5 389.0 C109.8 395.8 107.2 416.5 106.0 430.0 C104.8 443.5 103.8 455.0 103.0 470.0 C102.2 485.0 102.0 491.3 101.5 520.0 C101.0 548.7 100.0 601.3 100.0 642.0 C100.0 682.7 101.0 735.3 101.5 764.0 C102.0 792.7 102.2 799.0 103.0 814.0 C103.8 829.0 104.8 840.5 106.0 854.0 C107.2 867.5 109.8 888.2 110.5 895.0" fill="none" stroke="#6f84e4" stroke-width="4.00" stroke-linejoin="round" stroke-linecap="round" />
<path d="M110.5 389.0 C110.9 394.2 111.8 409.8 113.0 420.0 C114.2 430.2 115.0 440.0 117.5 450.0 C120.0 460.0 123.7 470.0 128.0 480.0 C132.3 490.0 138.5 500.3 143.5 510.0 C148.5 519.7 153.8 529.7 158.0 538.0 C162.2 546.3 165.8 552.2 169.0 560.0 C172.2 567.8 174.9 576.7 177.0 585.0 C179.1 593.3 180.4 600.5 181.5 610.0 C182.6 619.5 183.5 631.3 183.5 642.0 C183.5 652.7 182.6 664.5 181.5 674.0 C180.4 683.5 179.1 690.7 177.0 699.0 C174.9 707.3 172.2 716.2 169.0 724.0 C165.8 731.8 162.2 737.7 158.0 746.0 C153.8 754.3 148.5 764.3 143.5 774.0 C138.5 783.7 132.3 794.0 128.0 804.0 C123.7 814.0 120.0 824.0 117.5 834.0 C115.0 844.0 114.2 853.8 113.0 864.0 C111.8 874.2 110.9 889.8 110.5 895.0" fill="none" stroke="#6f84e4" stroke-width="4.40" stroke-linejoin="round" stroke-linecap="round" />
<path d="M119.3 502.0 C146.8 527.2 167.0 579.0 167.0 642.0 C167.0 705.0 146.8 756.8 119.3 782.0 C102.7 754.0 99.0 698.0 99.0 642.0 C99.0 586.0 102.7 530.0 119.3 502.0 Z" fill="#2d3a92" stroke="#7d97ec" stroke-width="4.0"/>
<path d="M166.0 642.0 165.4 624.3 163.7 607.1 160.9 590.7 157.1 575.6 152.6 562.1 147.6 550.6 142.1 541.3 136.5 534.5 130.9 530.4 125.6 529.0 120.6 530.4 116.1 534.5 112.1 541.3 108.8 550.6 106.0 562.1 103.7 575.6 102.1 590.7 100.9 607.1 100.2 624.3 100.0 642.0 100.2 659.7 100.9 676.9 102.1 693.3 103.7 708.4 106.0 721.9 108.8 733.4 112.1 742.7 116.1 749.5 120.6 753.6 125.6 755.0 130.9 753.6 136.5 749.5 142.1 742.7 147.6 733.4 152.6 721.9 157.1 708.4 160.9 693.3 163.7 676.9 165.4 659.7Z" fill="#8ba6f1" stroke="none" stroke-width="0.0" stroke-linejoin="round"/>
<path d="M158.0 642.0 157.5 624.9 156.2 608.2 154.1 592.3 151.2 577.7 147.8 564.6 143.9 553.5 139.8 544.5 135.6 538.0 131.5 533.9 127.6 532.6 124.0 533.9 120.8 538.0 118.0 544.5 115.7 553.5 113.8 564.6 112.4 577.7 111.3 592.3 110.6 608.2 110.1 624.9 110.0 642.0 110.1 659.1 110.6 675.8 111.3 691.7 112.4 706.3 113.8 719.4 115.7 730.5 118.0 739.5 120.8 746.0 124.0 750.1 127.6 751.4 131.5 750.1 135.6 746.0 139.8 739.5 143.9 730.5 147.8 719.4 151.2 706.3 154.1 691.7 156.2 675.8 157.5 659.1Z" fill="#22ee78" stroke="none" stroke-width="0.0" stroke-linejoin="round"/>
<path d="M164.0 642.0 163.5 627.5 162.1 613.3 159.8 599.8 156.8 587.3 153.0 576.2 148.8 566.8 144.1 559.1 139.3 553.6 134.4 550.1 129.6 549.0 125.0 550.1 120.7 553.6 116.9 559.1 113.5 566.8 110.6 576.2 108.2 587.3 106.4 599.8 105.0 613.3 104.3 627.5 104.0 642.0 104.3 656.5 105.0 670.7 106.4 684.2 108.2 696.7 110.6 707.8 113.5 717.2 116.9 724.9 120.7 730.4 125.0 733.9 129.6 735.0 134.4 733.9 139.3 730.4 144.1 724.9 148.8 717.2 153.0 707.8 156.8 696.7 159.8 684.2 162.1 670.7 163.5 656.5Z" fill="#a9c1f6" stroke="none" stroke-width="0.0" stroke-linejoin="round"/>
<path d="M153.1 642.0 152.8 628.0 151.8 614.4 150.2 601.4 148.1 589.5 145.6 578.8 142.8 569.7 139.8 562.3 136.7 557.0 133.7 553.7 130.8 552.6 128.2 553.7 125.8 557.0 123.8 562.3 122.1 569.7 120.7 578.8 119.7 589.5 118.9 601.4 118.4 614.4 118.1 628.0 118.0 642.0 118.1 656.0 118.4 669.6 118.9 682.6 119.7 694.5 120.7 705.2 122.1 714.3 123.8 721.7 125.8 727.0 128.2 730.3 130.8 731.4 133.7 730.3 136.7 727.0 139.8 721.7 142.8 714.3 145.6 705.2 148.1 694.5 150.2 682.6 151.8 669.6 152.8 656.0Z" fill="#2d3a92" stroke="none" stroke-width="0.0" stroke-linejoin="round"/>
<path d="M161.4 642.0 161.0 629.3 159.8 617.0 157.9 605.2 155.2 594.4 152.1 584.7 148.4 576.5 144.5 569.8 140.3 565.0 136.1 562.0 132.0 561.0 128.0 562.0 124.4 565.0 121.0 569.8 118.0 576.5 115.5 584.7 113.4 594.4 111.8 605.2 110.6 617.0 109.9 629.3 109.7 642.0 109.9 654.7 110.6 667.0 111.8 678.8 113.4 689.6 115.5 699.3 118.0 707.5 121.0 714.2 124.4 719.0 128.0 722.0 132.0 723.0 136.1 722.0 140.3 719.0 144.5 714.2 148.4 707.5 152.1 699.3 155.2 689.6 157.9 678.8 159.8 667.0 161.0 654.7Z" fill="#dadcec" stroke="none" stroke-width="0.0" stroke-linejoin="round"/>
<path d="M151.0 642.0 150.8 629.9 150.0 618.1 148.7 606.9 147.0 596.5 144.9 587.3 142.7 579.4 140.3 573.0 137.8 568.4 135.5 565.6 133.2 564.6 131.2 565.6 129.5 568.4 128.0 573.0 126.8 579.4 125.9 587.3 125.1 596.5 124.6 606.9 124.3 618.1 124.1 629.9 124.1 642.0 124.1 654.1 124.3 665.9 124.6 677.1 125.1 687.5 125.9 696.7 126.8 704.6 128.0 711.0 129.5 715.6 131.2 718.4 133.2 719.4 135.5 718.4 137.8 715.6 140.3 711.0 142.7 704.6 144.9 696.7 147.0 687.5 148.7 677.1 150.0 665.9 150.8 654.1Z" fill="#2d3a92" stroke="none" stroke-width="0.0" stroke-linejoin="round"/>
<path d="M157.4 642.0 157.1 631.5 156.1 621.3 154.6 611.6 152.6 602.6 150.1 594.6 147.2 587.8 144.1 582.3 140.9 578.3 137.7 575.8 134.5 575.0 131.5 575.8 128.7 578.3 126.1 582.3 123.9 587.8 122.0 594.6 120.4 602.6 119.2 611.6 118.4 621.3 117.9 631.5 117.7 642.0 117.9 652.5 118.4 662.7 119.2 672.4 120.4 681.4 122.0 689.4 123.9 696.2 126.1 701.7 128.7 705.7 131.5 708.2 134.5 709.0 137.7 708.2 140.9 705.7 144.1 701.7 147.2 696.2 150.1 689.4 152.6 681.4 154.6 672.4 156.1 662.7 157.1 652.5Z" fill="#f4c8b2" stroke="none" stroke-width="0.0" stroke-linejoin="round"/>
<path d="M149.0 642.0 148.7 632.1 148.1 622.4 147.1 613.2 145.8 604.7 144.2 597.2 142.4 590.7 140.6 585.5 138.8 581.7 137.1 579.4 135.5 578.6 134.1 579.4 133.0 581.7 132.0 585.5 131.3 590.7 130.8 597.2 130.5 604.7 130.3 613.2 130.1 622.4 130.1 632.1 130.0 642.0 130.1 651.9 130.1 661.6 130.3 670.8 130.5 679.3 130.8 686.8 131.3 693.3 132.0 698.5 133.0 702.3 134.1 704.6 135.5 705.4 137.1 704.6 138.8 702.3 140.6 698.5 142.4 693.3 144.2 686.8 145.8 679.3 147.1 670.8 148.1 661.6 148.7 651.9Z" fill="#2d3a92" stroke="none" stroke-width="0.0" stroke-linejoin="round"/>
<path d="M153.4 642.0 153.2 633.6 152.4 625.3 151.3 617.5 149.7 610.3 147.8 603.8 145.7 598.3 143.4 593.9 141.1 590.6 138.7 588.7 136.5 588.0 134.4 588.7 132.5 590.6 130.8 593.9 129.4 598.3 128.2 603.8 127.2 610.3 126.5 617.5 126.0 625.3 125.7 633.6 125.6 642.0 125.7 650.4 126.0 658.7 126.5 666.5 127.2 673.7 128.2 680.2 129.4 685.7 130.8 690.1 132.5 693.4 134.4 695.3 136.5 696.0 138.7 695.3 141.1 693.4 143.4 690.1 145.7 685.7 147.8 680.2 149.7 673.7 151.3 666.5 152.4 658.7 153.2 650.4Z" fill="#f0a488" stroke="none" stroke-width="0.0" stroke-linejoin="round"/>
<path d="M145.5 642.0 145.3 634.1 145.0 626.4 144.4 619.1 143.5 612.4 142.6 606.4 141.5 601.2 140.3 597.1 139.2 594.1 138.1 592.2 137.0 591.6 136.0 592.2 135.2 594.1 134.5 597.1 133.9 601.2 133.5 606.4 133.1 612.4 132.9 619.1 132.7 626.4 132.7 634.1 132.6 642.0 132.7 649.9 132.7 657.6 132.9 664.9 133.1 671.6 133.5 677.6 133.9 682.8 134.5 686.9 135.2 689.9 136.0 691.8 137.0 692.4 138.1 691.8 139.2 689.9 140.3 686.9 141.5 682.8 142.6 677.6 143.5 671.6 144.4 664.9 145.0 657.6 145.3 649.9Z" fill="#2d3a92" stroke="none" stroke-width="0.0" stroke-linejoin="round"/>
<path d="M148.5 642.0 148.3 636.0 147.9 630.1 147.2 624.6 146.2 619.4 145.0 614.8 143.6 610.9 142.1 607.8 140.6 605.5 139.0 604.1 137.5 603.6 136.1 604.1 134.7 605.5 133.5 607.8 132.5 610.9 131.6 614.8 130.9 619.4 130.3 624.6 129.9 630.1 129.7 636.0 129.6 642.0 129.7 648.0 129.9 653.9 130.3 659.4 130.9 664.6 131.6 669.2 132.5 673.1 133.5 676.2 134.7 678.5 136.1 679.9 137.5 680.4 139.0 679.9 140.6 678.5 142.1 676.2 143.6 673.1 145.0 669.2 146.2 664.6 147.2 659.4 147.9 653.9 148.3 648.0Z" fill="#e8806a" stroke="none" stroke-width="0.0" stroke-linejoin="round"/>
<path d="M142.7 642.0 142.6 636.6 142.4 631.2 142.1 626.2 141.7 621.5 141.1 617.4 140.6 613.8 139.9 611.0 139.3 608.9 138.6 607.6 138.0 607.2 137.4 607.6 136.9 608.9 136.4 611.0 136.0 613.8 135.6 617.4 135.3 621.5 135.1 626.2 135.0 631.2 134.9 636.6 134.8 642.0 134.9 647.4 135.0 652.8 135.1 657.8 135.3 662.5 135.6 666.6 136.0 670.2 136.4 673.0 136.9 675.1 137.4 676.4 138.0 676.8 138.6 676.4 139.3 675.1 139.9 673.0 140.6 670.2 141.1 666.6 141.7 662.5 142.1 657.8 142.4 652.8 142.6 647.4Z" fill="#2d3a92" stroke="none" stroke-width="0.0" stroke-linejoin="round"/>
<path d="M144.5 642.0 144.4 638.9 144.2 636.0 143.8 633.1 143.3 630.5 142.7 628.2 142.0 626.2 141.2 624.6 140.3 623.5 139.4 622.7 138.5 622.5 137.6 622.7 136.7 623.5 135.9 624.6 135.2 626.2 134.6 628.2 134.0 630.5 133.6 633.1 133.3 636.0 133.1 638.9 133.0 642.0 133.1 645.1 133.3 648.0 133.6 650.9 134.0 653.5 134.6 655.8 135.2 657.8 135.9 659.4 136.7 660.5 137.6 661.3 138.5 661.5 139.4 661.3 140.3 660.5 141.2 659.4 142.0 657.8 142.7 655.8 143.3 653.5 143.8 650.9 144.2 648.0 144.4 645.1Z" fill="#d9584a" stroke="none" stroke-width="0.0" stroke-linejoin="round"/>
<ellipse cx="138.5" cy="642.0" rx="3" ry="15" fill="#2d3a92"/>
<path d="M85.8 74.4 L1037.5 74.4 L1037.5 1211.5 L87.3 1211.5 Z" fill="none" stroke="#151515" stroke-width="1.4"/>
<path d="M85.8 74.4 l17 19 M87.3 1211.5 l17 -20 M1037.5 74.4 l-9 11 M1037.5 1211.5 l-9 -10" fill="none" stroke="#222" stroke-width="0.9"/>
<text x="238.5" y="53.3" font-size="23.5" text-anchor="middle" fill="#555555" font-family="'Liberation Sans', sans-serif" >0.5</text>
<text x="238.5" y="1245.3" font-size="23.5" text-anchor="middle" fill="#555555" font-family="'Liberation Sans', sans-serif" >0.5</text>
<path d="M221.5 74.4 L238.5 72.9 L255.5 74.4 L238.5 75.6 Z" fill="#151515"/>
<path d="M238.0 71.6 L240.0 79.9" stroke="#151515" stroke-width="1.5"/>
<path d="M221.5 1211.5 L238.5 1210.0 L255.5 1211.5 L238.5 1212.7 Z" fill="#151515"/>
<path d="M238.0 1214.3 L240.0 1206.0" stroke="#151515" stroke-width="1.5"/>
<text x="401.0" y="53.3" font-size="23.5" text-anchor="middle" fill="#555555" font-family="'Liberation Sans', sans-serif" >1</text>
<text x="401.0" y="1245.3" font-size="23.5" text-anchor="middle" fill="#555555" font-family="'Liberation Sans', sans-serif" >1</text>
<path d="M384.0 74.4 L401.0 72.9 L418.0 74.4 L401.0 75.6 Z" fill="#151515"/>
<path d="M400.5 71.6 L402.5 79.9" stroke="#151515" stroke-width="1.5"/>
<path d="M384.0 1211.5 L401.0 1210.0 L418.0 1211.5 L401.0 1212.7 Z" fill="#151515"/>
<path d="M400.5 1214.3 L402.5 1206.0" stroke="#151515" stroke-width="1.5"/>
<text x="563.0" y="53.3" font-size="23.5" text-anchor="middle" fill="#555555" font-family="'Liberation Sans', sans-serif" >1.5</text>
<text x="563.0" y="1245.3" font-size="23.5" text-anchor="middle" fill="#555555" font-family="'Liberation Sans', sans-serif" >1.5</text>
<path d="M546.0 74.4 L563.0 72.9 L580.0 74.4 L563.0 75.6 Z" fill="#151515"/>
<path d="M562.5 71.6 L564.5 79.9" stroke="#151515" stroke-width="1.5"/>
<path d="M546.0 1211.5 L563.0 1210.0 L580.0 1211.5 L563.0 1212.7 Z" fill="#151515"/>
<path d="M562.5 1214.3 L564.5 1206.0" stroke="#151515" stroke-width="1.5"/>
<text x="724.5" y="53.3" font-size="23.5" text-anchor="middle" fill="#555555" font-family="'Liberation Sans', sans-serif" >2</text>
<text x="724.5" y="1245.3" font-size="23.5" text-anchor="middle" fill="#555555" font-family="'Liberation Sans', sans-serif" >2</text>
<path d="M707.5 74.4 L724.5 72.9 L741.5 74.4 L724.5 75.6 Z" fill="#151515"/>
<path d="M724.0 71.6 L726.0 79.9" stroke="#151515" stroke-width="1.5"/>
<path d="M707.5 1211.5 L724.5 1210.0 L741.5 1211.5 L724.5 1212.7 Z" fill="#151515"/>
<path d="M724.0 1214.3 L726.0 1206.0" stroke="#151515" stroke-width="1.5"/>
<text x="887.0" y="53.3" font-size="23.5" text-anchor="middle" fill="#555555" font-family="'Liberation Sans', sans-serif" >2.5</text>
<text x="887.0" y="1245.3" font-size="23.5" text-anchor="middle" fill="#555555" font-family="'Liberation Sans', sans-serif" >2.5</text>
<path d="M870.0 74.4 L887.0 72.9 L904.0 74.4 L887.0 75.6 Z" fill="#151515"/>
<path d="M886.5 71.6 L888.5 79.9" stroke="#151515" stroke-width="1.5"/>
<path d="M870.0 1211.5 L887.0 1210.0 L904.0 1211.5 L887.0 1212.7 Z" fill="#151515"/>
<path d="M886.5 1214.3 L888.5 1206.0" stroke="#151515" stroke-width="1.5"/>
<text x="70.0" y="131.6" font-size="23.5" text-anchor="end" fill="#555555" font-family="'Liberation Sans', sans-serif" >1.6</text>
<text x="1053.0" y="131.6" font-size="23.5" text-anchor="start" fill="#555555" font-family="'Liberation Sans', sans-serif" >1.6</text>
<path d="M85.8 112.3 L87.4 125.3 L85.8 138.3 L84.6 125.3 Z" fill="#151515"/>
<path d="M82.3 123.3 L89.3 127.3" stroke="#151515" stroke-width="1.5"/>
<path d="M1035.5 124.3 L1040.5 122.8" stroke="#151515" stroke-width="1.5"/>
<text x="70.0" y="196.4" font-size="23.5" text-anchor="end" fill="#555555" font-family="'Liberation Sans', sans-serif" >1.4</text>
<text x="1053.0" y="196.4" font-size="23.5" text-anchor="start" fill="#555555" font-family="'Liberation Sans', sans-serif" >1.4</text>
<path d="M85.8 177.1 L87.4 190.1 L85.8 203.1 L84.6 190.1 Z" fill="#151515"/>
<path d="M82.3 188.1 L89.3 192.1" stroke="#151515" stroke-width="1.5"/>
<path d="M1035.5 189.1 L1040.5 187.6" stroke="#151515" stroke-width="1.5"/>
<text x="70.0" y="261.1" font-size="23.5" text-anchor="end" fill="#555555" font-family="'Liberation Sans', sans-serif" >1.2</text>
<text x="1053.0" y="261.1" font-size="23.5" text-anchor="start" fill="#555555" font-family="'Liberation Sans', sans-serif" >1.2</text>
<path d="M85.8 241.8 L87.4 254.8 L85.8 267.8 L84.6 254.8 Z" fill="#151515"/>
<path d="M82.3 252.8 L89.3 256.8" stroke="#151515" stroke-width="1.5"/>
<path d="M1035.5 253.8 L1040.5 252.3" stroke="#151515" stroke-width="1.5"/>
<text x="70.0" y="325.9" font-size="23.5" text-anchor="end" fill="#555555" font-family="'Liberation Sans', sans-serif" >1</text>
<text x="1053.0" y="325.9" font-size="23.5" text-anchor="start" fill="#555555" font-family="'Liberation Sans', sans-serif" >1</text>
<path d="M85.8 306.6 L87.4 319.6 L85.8 332.6 L84.6 319.6 Z" fill="#151515"/>
<path d="M82.3 317.6 L89.3 321.6" stroke="#151515" stroke-width="1.5"/>
<path d="M1035.5 318.6 L1040.5 317.1" stroke="#151515" stroke-width="1.5"/>
<text x="70.0" y="390.7" font-size="23.5" text-anchor="end" fill="#555555" font-family="'Liberation Sans', sans-serif" >0.8</text>
<text x="1053.0" y="390.7" font-size="23.5" text-anchor="start" fill="#555555" font-family="'Liberation Sans', sans-serif" >0.8</text>
<path d="M85.8 371.4 L87.4 384.4 L85.8 397.4 L84.6 384.4 Z" fill="#151515"/>
<path d="M82.3 382.4 L89.3 386.4" stroke="#151515" stroke-width="1.5"/>
<path d="M1035.5 383.4 L1040.5 381.9" stroke="#151515" stroke-width="1.5"/>
<text x="70.0" y="455.4" font-size="23.5" text-anchor="end" fill="#555555" font-family="'Liberation Sans', sans-serif" >0.6</text>
<text x="1053.0" y="455.4" font-size="23.5" text-anchor="start" fill="#555555" font-family="'Liberation Sans', sans-serif" >0.6</text>
<path d="M85.8 436.1 L87.4 449.1 L85.8 462.1 L84.6 449.1 Z" fill="#151515"/>
<path d="M82.3 447.1 L89.3 451.1" stroke="#151515" stroke-width="1.5"/>
<path d="M1035.5 448.1 L1040.5 446.6" stroke="#151515" stroke-width="1.5"/>
<text x="70.0" y="520.2" font-size="23.5" text-anchor="end" fill="#555555" font-family="'Liberation Sans', sans-serif" >0.4</text>
<text x="1053.0" y="520.2" font-size="23.5" text-anchor="start" fill="#555555" font-family="'Liberation Sans', sans-serif" >0.4</text>
<path d="M85.8 500.9 L87.4 513.9 L85.8 526.9 L84.6 513.9 Z" fill="#151515"/>
<path d="M82.3 511.9 L89.3 515.9" stroke="#151515" stroke-width="1.5"/>
<path d="M1035.5 512.9 L1040.5 511.4" stroke="#151515" stroke-width="1.5"/>
<text x="70.0" y="584.9" font-size="23.5" text-anchor="end" fill="#555555" font-family="'Liberation Sans', sans-serif" >0.2</text>
<text x="1053.0" y="584.9" font-size="23.5" text-anchor="start" fill="#555555" font-family="'Liberation Sans', sans-serif" >0.2</text>
<path d="M85.8 565.6 L87.4 578.6 L85.8 591.6 L84.6 578.6 Z" fill="#151515"/>
<path d="M82.3 576.6 L89.3 580.6" stroke="#151515" stroke-width="1.5"/>
<path d="M1035.5 577.6 L1040.5 576.1" stroke="#151515" stroke-width="1.5"/>
<text x="70.0" y="649.7" font-size="23.5" text-anchor="end" fill="#555555" font-family="'Liberation Sans', sans-serif" >0</text>
<text x="1053.0" y="649.7" font-size="23.5" text-anchor="start" fill="#555555" font-family="'Liberation Sans', sans-serif" >0</text>
<path d="M85.8 630.4 L87.4 643.4 L85.8 656.4 L84.6 643.4 Z" fill="#151515"/>
<path d="M82.3 641.4 L89.3 645.4" stroke="#151515" stroke-width="1.5"/>
<path d="M1035.5 642.4 L1040.5 640.9" stroke="#151515" stroke-width="1.5"/>
<text x="70.0" y="714.5" font-size="23.5" text-anchor="end" fill="#555555" font-family="'Liberation Sans', sans-serif" >-0.2</text>
<text x="1053.0" y="714.5" font-size="23.5" text-anchor="start" fill="#555555" font-family="'Liberation Sans', sans-serif" >-0.2</text>
<path d="M85.8 695.2 L87.4 708.2 L85.8 721.2 L84.6 708.2 Z" fill="#151515"/>
<path d="M82.3 706.2 L89.3 710.2" stroke="#151515" stroke-width="1.5"/>
<path d="M1035.5 707.2 L1040.5 705.7" stroke="#151515" stroke-width="1.5"/>
<text x="70.0" y="779.2" font-size="23.5" text-anchor="end" fill="#555555" font-family="'Liberation Sans', sans-serif" >-0.4</text>
<text x="1053.0" y="779.2" font-size="23.5" text-anchor="start" fill="#555555" font-family="'Liberation Sans', sans-serif" >-0.4</text>
<path d="M85.8 759.9 L87.4 772.9 L85.8 785.9 L84.6 772.9 Z" fill="#151515"/>
<path d="M82.3 770.9 L89.3 774.9" stroke="#151515" stroke-width="1.5"/>
<path d="M1035.5 771.9 L1040.5 770.4" stroke="#151515" stroke-width="1.5"/>
<text x="70.0" y="844.0" font-size="23.5" text-anchor="end" fill="#555555" font-family="'Liberation Sans', sans-serif" >-0.6</text>
<text x="1053.0" y="844.0" font-size="23.5" text-anchor="start" fill="#555555" font-family="'Liberation Sans', sans-serif" >-0.6</text>
<path d="M85.8 824.7 L87.4 837.7 L85.8 850.7 L84.6 837.7 Z" fill="#151515"/>
<path d="M82.3 835.7 L89.3 839.7" stroke="#151515" stroke-width="1.5"/>
<path d="M1035.5 836.7 L1040.5 835.2" stroke="#151515" stroke-width="1.5"/>
<text x="70.0" y="908.7" font-size="23.5" text-anchor="end" fill="#555555" font-family="'Liberation Sans', sans-serif" >-0.8</text>
<text x="1053.0" y="908.7" font-size="23.5" text-anchor="start" fill="#555555" font-family="'Liberation Sans', sans-serif" >-0.8</text>
<path d="M85.8 889.4 L87.4 902.4 L85.8 915.4 L84.6 902.4 Z" fill="#151515"/>
<path d="M82.3 900.4 L89.3 904.4" stroke="#151515" stroke-width="1.5"/>
<path d="M1035.5 901.4 L1040.5 899.9" stroke="#151515" stroke-width="1.5"/>
<text x="70.0" y="973.5" font-size="23.5" text-anchor="end" fill="#555555" font-family="'Liberation Sans', sans-serif" >-1</text>
<text x="1053.0" y="973.5" font-size="23.5" text-anchor="start" fill="#555555" font-family="'Liberation Sans', sans-serif" >-1</text>
<path d="M85.8 954.2 L87.4 967.2 L85.8 980.2 L84.6 967.2 Z" fill="#151515"/>
<path d="M82.3 965.2 L89.3 969.2" stroke="#151515" stroke-width="1.5"/>
<path d="M1035.5 966.2 L1040.5 964.7" stroke="#151515" stroke-width="1.5"/>
<text x="70.0" y="1038.3" font-size="23.5" text-anchor="end" fill="#555555" font-family="'Liberation Sans', sans-serif" >-1.2</text>
<text x="1053.0" y="1038.3" font-size="23.5" text-anchor="start" fill="#555555" font-family="'Liberation Sans', sans-serif" >-1.2</text>
<path d="M85.8 1019.0 L87.4 1032.0 L85.8 1045.0 L84.6 1032.0 Z" fill="#151515"/>
<path d="M82.3 1030.0 L89.3 1034.0" stroke="#151515" stroke-width="1.5"/>
<path d="M1035.5 1031.0 L1040.5 1029.5" stroke="#151515" stroke-width="1.5"/>
<text x="70.0" y="1103.0" font-size="23.5" text-anchor="end" fill="#555555" font-family="'Liberation Sans', sans-serif" >-1.4</text>
<text x="1053.0" y="1103.0" font-size="23.5" text-anchor="start" fill="#555555" font-family="'Liberation Sans', sans-serif" >-1.4</text>
<path d="M85.8 1083.7 L87.4 1096.7 L85.8 1109.7 L84.6 1096.7 Z" fill="#151515"/>
<path d="M82.3 1094.7 L89.3 1098.7" stroke="#151515" stroke-width="1.5"/>
<path d="M1035.5 1095.7 L1040.5 1094.2" stroke="#151515" stroke-width="1.5"/>
<text x="70.0" y="1167.8" font-size="23.5" text-anchor="end" fill="#555555" font-family="'Liberation Sans', sans-serif" >-1.6</text>
<text x="1053.0" y="1167.8" font-size="23.5" text-anchor="start" fill="#555555" font-family="'Liberation Sans', sans-serif" >-1.6</text>
<path d="M85.8 1148.5 L87.4 1161.5 L85.8 1174.5 L84.6 1161.5 Z" fill="#151515"/>
<path d="M82.3 1159.5 L89.3 1163.5" stroke="#151515" stroke-width="1.5"/>
<path d="M1035.5 1160.5 L1040.5 1159.0" stroke="#151515" stroke-width="1.5"/>
</g>
<g id="panel-h">
<g transform="translate(1119.82 -3.59) scale(1.0021 1.0045)">
<path d="M123.0 85.0 L350.0 83.0 L560.0 81.0 L610.0 80.5 L611.0 85.0 L720.0 85.0 L720.0 1200.0 L611.0 1200.0 L610.0 1205.0 L560.0 1204.5 L350.0 1202.0 L125.0 1200.0 L118.0 1050.0 L113.0 950.0 L111.0 900.0 L109.5 800.0 L109.0 640.0 L109.5 480.0 L110.5 390.0 L112.0 330.0 L117.0 200.0Z" fill="#8c001a" />
<path d="M700.0 85.0 L711.5 85.0 L711.5 110.4 L700.0 110.4Z" fill="#8c001a" />
<path d="M700.0 109.8 L711.0 109.8 L711.0 141.8 L700.0 141.8Z" fill="#8c001a" />
<path d="M700.0 141.2 L710.0 141.2 L710.0 173.1 L700.0 173.1Z" fill="#8c001a" />
<path d="M700.0 172.5 L709.0 172.5 L709.0 204.5 L700.0 204.5Z" fill="#8c001a" />
<path d="M700.0 203.9 L735.0 203.9 L735.0 235.9 L700.0 235.9Z" fill="#8c001a" />
<path d="M700.0 235.3 L735.0 235.3 L735.0 267.2 L700.0 267.2Z" fill="#8c001a" />
<path d="M700.0 266.6 L733.0 266.6 L733.0 298.6 L700.0 298.6Z" fill="#8c001a" />
<path d="M700.0 298.0 L732.0 298.0 L732.0 330.0 L700.0 330.0Z" fill="#8c001a" />
<path d="M700.0 329.4 L760.0 329.4 L760.0 361.3 L700.0 361.3Z" fill="#8c001a" />
<path d="M700.0 360.7 L759.0 360.7 L759.0 392.7 L700.0 392.7Z" fill="#8c001a" />
<path d="M700.0 392.1 L757.0 392.1 L757.0 424.1 L700.0 424.1Z" fill="#8c001a" />
<path d="M700.0 423.5 L755.0 423.5 L755.0 455.5 L700.0 455.5Z" fill="#8c001a" />
<path d="M700.0 454.9 L780.0 454.9 L780.0 486.8 L700.0 486.8Z" fill="#8c001a" />
<path d="M700.0 486.2 L780.0 486.2 L780.0 518.2 L700.0 518.2Z" fill="#8c001a" />
<path d="M700.0 517.6 L779.0 517.6 L779.0 549.6 L700.0 549.6Z" fill="#8c001a" />
<path d="M700.0 549.0 L777.0 549.0 L777.0 580.9 L700.0 580.9Z" fill="#8c001a" />
<path d="M700.0 580.3 L789.0 580.3 L789.0 612.3 L700.0 612.3Z" fill="#8c001a" />
<path d="M700.0 611.7 L789.0 611.7 L789.0 643.7 L700.0 643.7Z" fill="#8c001a" />
<path d="M700.0 643.1 L789.0 643.1 L789.0 675.0 L700.0 675.0Z" fill="#8c001a" />
<path d="M700.0 674.4 L789.0 674.4 L789.0 706.4 L700.0 706.4Z" fill="#8c001a" />
<path d="M700.0 705.8 L776.5 705.8 L776.5 737.8 L700.0 737.8Z" fill="#8c001a" />
<path d="M700.0 737.2 L778.0 737.2 L778.0 769.2 L700.0 769.2Z" fill="#8c001a" />
<path d="M700.0 768.6 L780.0 768.6 L780.0 800.5 L700.0 800.5Z" fill="#8c001a" />
<path d="M700.0 799.9 L781.0 799.9 L781.0 831.9 L700.0 831.9Z" fill="#8c001a" />
<path d="M700.0 831.3 L754.5 831.3 L754.5 863.3 L700.0 863.3Z" fill="#8c001a" />
<path d="M700.0 862.7 L756.0 862.7 L756.0 894.6 L700.0 894.6Z" fill="#8c001a" />
<path d="M700.0 894.0 L758.0 894.0 L758.0 926.0 L700.0 926.0Z" fill="#8c001a" />
<path d="M700.0 925.4 L760.0 925.4 L760.0 957.4 L700.0 957.4Z" fill="#8c001a" />
<path d="M700.0 956.8 L731.0 956.8 L731.0 988.7 L700.0 988.7Z" fill="#8c001a" />
<path d="M700.0 988.1 L733.0 988.1 L733.0 1020.1 L700.0 1020.1Z" fill="#8c001a" />
<path d="M700.0 1019.5 L735.0 1019.5 L735.0 1051.5 L700.0 1051.5Z" fill="#8c001a" />
<path d="M700.0 1050.9 L737.0 1050.9 L737.0 1082.9 L700.0 1082.9Z" fill="#8c001a" />
<path d="M700.0 1082.3 L709.0 1082.3 L709.0 1114.2 L700.0 1114.2Z" fill="#8c001a" />
<path d="M700.0 1113.6 L710.0 1113.6 L710.0 1145.6 L700.0 1145.6Z" fill="#8c001a" />
<path d="M700.0 1145.0 L712.0 1145.0 L712.0 1177.0 L700.0 1177.0Z" fill="#8c001a" />
<path d="M700.0 1176.4 L713.0 1176.4 L713.0 1200.0 L700.0 1200.0Z" fill="#8c001a" />
<path d="M103.0 85.0 L123.0 85.0 L117.0 200.0 L112.0 330.0 L110.5 390.0 L109.5 480.0 L109.0 640.0 L109.5 800.0 L111.0 900.0 L113.0 950.0 L118.0 1050.0 L125.0 1200.0 L109.5 1200.0 L106.5 1197.0 L105.0 1188.0 L104.0 1150.0 L102.5 1100.0 L99.0 1000.0 L96.5 900.0 L96.0 800.0 L96.0 640.0 L96.0 480.0 L97.0 400.0 L100.0 280.0 L102.0 150.0 L103.0 95.0Z" fill="#2d3a92" />
<path d="M701.0 102.7 L711.5 102.7 L711.5 117.6 L701.0 117.6Z" fill="#8c001a" />
<path d="M611 108.7 Q611.5 106.6 618 106.6 L709.5 104.1 L709.5 116.1 L618 116.1 Q611.5 115.0 611 112.9 Z" fill="#3a0009"/>
<path d="M717.5 97.7 L1037.0 97.7 L1037.0 116.1 L717.5 116.1Z" fill="#0e1038" />
<path d="M705.5 103.7 L1037.0 103.7 L1037.0 116.1 L705.5 116.1Z" fill="#0e1038" />
<path d="M712.3 103.7 L719.8 103.7 L713.0 116.1 L705.5 116.1Z" fill="#3a0009" />
<path d="M719.8 103.7 L727.3 103.7 L720.5 116.1 L713.0 116.1Z" fill="#3c2e30" />
<path d="M727.3 103.7 L734.8 103.7 L728.0 116.1 L720.5 116.1Z" fill="#3a0009" />
<path d="M734.8 103.7 L742.3 103.7 L735.5 116.1 L728.0 116.1Z" fill="#3c2e30" />
<path d="M742.3 103.7 L749.8 103.7 L743.0 116.1 L735.5 116.1Z" fill="#3a0009" />
<path d="M749.8 103.7 L757.3 103.7 L750.5 116.1 L743.0 116.1Z" fill="#3c2e30" />
<path d="M700.0 134.0 L711.0 134.0 L711.0 149.0 L700.0 149.0Z" fill="#8c001a" />
<path d="M611 140.5 Q611.5 138.5 618 138.5 L709.0 136.0 L709.0 147.5 L618 147.5 Q611.5 146.5 611 144.5 Z" fill="#3a0009"/>
<path d="M717.0 129.0 L1037.0 129.0 L1037.0 147.5 L717.0 147.5Z" fill="#0e1038" />
<path d="M705.0 135.0 L1037.0 135.0 L1037.0 147.5 L705.0 147.5Z" fill="#0e1038" />
<path d="M711.9 135.0 L719.4 135.0 L712.5 147.5 L705.0 147.5Z" fill="#3a0009" />
<path d="M719.4 135.0 L726.9 135.0 L720.0 147.5 L712.5 147.5Z" fill="#3c2e30" />
<path d="M726.9 135.0 L734.4 135.0 L727.5 147.5 L720.0 147.5Z" fill="#3a0009" />
<path d="M734.4 135.0 L741.9 135.0 L735.0 147.5 L727.5 147.5Z" fill="#3c2e30" />
<path d="M741.9 135.0 L749.4 135.0 L742.5 147.5 L735.0 147.5Z" fill="#3a0009" />
<path d="M749.4 135.0 L756.9 135.0 L750.0 147.5 L742.5 147.5Z" fill="#3c2e30" />
<path d="M699.0 165.3 L710.0 165.3 L710.0 180.4 L699.0 180.4Z" fill="#8c001a" />
<path d="M611 170.7 Q611.5 168.8 618 168.8 L708.0 166.4 L708.0 177.4 L618 177.4 Q611.5 176.5 611 174.6 Z" fill="#3a0009"/>
<path d="M716.0 160.3 L1037.0 160.3 L1037.0 177.4 L716.0 177.4Z" fill="#0e1038" />
<path d="M704.0 166.3 L1037.0 166.3 L1037.0 177.4 L704.0 177.4Z" fill="#0e1038" />
<path d="M704.0 176.9 L822.0 176.9 L822.0 179.4 L704.0 179.4Z" fill="#0e1038" />
<path d="M710.1 166.3 L717.6 166.3 L711.5 177.4 L704.0 177.4Z" fill="#3a0009" />
<path d="M717.6 166.3 L725.1 166.3 L719.0 177.4 L711.5 177.4Z" fill="#3c2e30" />
<path d="M725.1 166.3 L732.6 166.3 L726.5 177.4 L719.0 177.4Z" fill="#3a0009" />
<path d="M732.6 166.3 L740.1 166.3 L734.0 177.4 L726.5 177.4Z" fill="#3c2e30" />
<path d="M740.1 166.3 L747.6 166.3 L741.5 177.4 L734.0 177.4Z" fill="#3a0009" />
<path d="M747.6 166.3 L755.1 166.3 L749.0 177.4 L741.5 177.4Z" fill="#3c2e30" />
<path d="M802.0 178.2 Q802.0 177.6 808.0 177.6 C862.0 177.6 862.0 177.4 922.0 177.4 L1037.0 177.4 L1037.0 178.9 L922.0 178.9 C862.0 178.9 862.0 178.8 808.0 178.8 Q802.0 178.8 802.0 178.2 Z" fill="#fff"/>
<path d="M699.0 196.6 L735.0 196.6 L735.0 211.9 L699.0 211.9Z" fill="#8c001a" />
<path d="M611 202.0 Q611.5 200.2 618 200.2 L707.0 197.8 L707.0 208.4 L618 208.4 Q611.5 207.4 611 205.6 Z" fill="#3a0009"/>
<path d="M715.0 191.6 L1037.0 191.6 L1037.0 208.4 L715.0 208.4Z" fill="#0e1038" />
<path d="M703.0 197.6 L1037.0 197.6 L1037.0 208.4 L703.0 208.4Z" fill="#0e1038" />
<path d="M703.0 207.9 L896.0 207.9 L896.0 210.9 L703.0 210.9Z" fill="#0e1038" />
<path d="M708.9 197.6 L716.4 197.6 L710.5 208.4 L703.0 208.4Z" fill="#3a0009" />
<path d="M716.4 197.6 L723.9 197.6 L718.0 208.4 L710.5 208.4Z" fill="#3c2e30" />
<path d="M723.9 197.6 L731.4 197.6 L725.5 208.4 L718.0 208.4Z" fill="#3a0009" />
<path d="M731.4 197.6 L738.9 197.6 L733.0 208.4 L725.5 208.4Z" fill="#3c2e30" />
<path d="M738.9 197.6 L746.4 197.6 L740.5 208.4 L733.0 208.4Z" fill="#3a0009" />
<path d="M746.4 197.6 L753.9 197.6 L748.0 208.4 L740.5 208.4Z" fill="#3c2e30" />
<path d="M876.0 209.4 Q876.0 208.8 882.0 208.8 C936.0 208.8 936.0 208.4 996.0 208.4 L1037.0 208.4 L1037.0 210.4 L996.0 210.4 C936.0 210.4 936.0 210.0 882.0 210.0 Q876.0 210.0 876.0 209.4 Z" fill="#fff"/>
<path d="M725.0 227.9 L735.0 227.9 L735.0 243.3 L725.0 243.3Z" fill="#8c001a" />
<path d="M611 232.8 Q611.5 231.0 618 231.0 L733.0 228.7 L733.0 238.8 L618 238.8 Q611.5 237.9 611 236.2 Z" fill="#3a0009"/>
<path d="M741.0 222.9 L1037.0 222.9 L1037.0 238.8 L741.0 238.8Z" fill="#0e1038" />
<path d="M729.0 228.9 L1037.0 228.9 L1037.0 238.8 L729.0 238.8Z" fill="#0e1038" />
<path d="M734.4 228.9 L741.6 228.9 L736.2 238.8 L729.0 238.8Z" fill="#3a0009" />
<path d="M741.6 228.9 L748.8 228.9 L743.4 238.8 L736.2 238.8Z" fill="#3c2e30" />
<path d="M748.8 228.9 L756.0 228.9 L750.6 238.8 L743.4 238.8Z" fill="#3a0009" />
<path d="M756.0 228.9 L763.2 228.9 L757.8 238.8 L750.6 238.8Z" fill="#3c2e30" />
<path d="M763.2 228.9 L770.4 228.9 L765.0 238.8 L757.8 238.8Z" fill="#3a0009" />
<path d="M770.4 228.9 L777.6 228.9 L772.2 238.8 L765.0 238.8Z" fill="#3c2e30" />
<path d="M777.6 228.9 L784.8 228.9 L779.4 238.8 L772.2 238.8Z" fill="#3a0009" />
<path d="M784.8 228.9 L792.0 228.9 L786.6 238.8 L779.4 238.8Z" fill="#3c2e30" />
<path d="M792.0 228.9 L799.2 228.9 L793.8 238.8 L786.6 238.8Z" fill="#3a0009" />
<path d="M799.2 228.9 L806.4 228.9 L801.0 238.8 L793.8 238.8Z" fill="#3c2e30" />
<path d="M636.0 240.3 Q636.0 239.7 642.0 239.7 C696.0 239.7 696.0 238.8 756.0 238.8 L1037.0 238.8 L1037.0 241.8 L756.0 241.8 C696.0 241.8 696.0 240.9 642.0 240.9 Q636.0 240.9 636.0 240.3 Z" fill="#fff"/>
<path d="M723.0 259.2 L735.0 259.2 L735.0 274.7 L723.0 274.7Z" fill="#8c001a" />
<path d="M611 263.1 Q611.5 261.5 618 261.5 L733.0 259.2 L733.0 268.7 L618 268.7 Q611.5 267.9 611 266.3 Z" fill="#3a0009"/>
<path d="M741.0 254.2 L1037.0 254.2 L1037.0 268.7 L741.0 268.7Z" fill="#0e1038" />
<path d="M729.0 260.2 L1037.0 260.2 L1037.0 268.7 L729.0 268.7Z" fill="#0e1038" />
<path d="M733.7 260.2 L740.9 260.2 L736.2 268.7 L729.0 268.7Z" fill="#3a0009" />
<path d="M740.9 260.2 L748.1 260.2 L743.4 268.7 L736.2 268.7Z" fill="#3c2e30" />
<path d="M748.1 260.2 L755.3 260.2 L750.6 268.7 L743.4 268.7Z" fill="#3a0009" />
<path d="M755.3 260.2 L762.5 260.2 L757.8 268.7 L750.6 268.7Z" fill="#3c2e30" />
<path d="M762.5 260.2 L769.7 260.2 L765.0 268.7 L757.8 268.7Z" fill="#3a0009" />
<path d="M769.7 260.2 L776.9 260.2 L772.2 268.7 L765.0 268.7Z" fill="#3c2e30" />
<path d="M776.9 260.2 L784.1 260.2 L779.4 268.7 L772.2 268.7Z" fill="#3a0009" />
<path d="M784.1 260.2 L791.3 260.2 L786.6 268.7 L779.4 268.7Z" fill="#3c2e30" />
<path d="M791.3 260.2 L798.5 260.2 L793.8 268.7 L786.6 268.7Z" fill="#3a0009" />
<path d="M798.5 260.2 L805.7 260.2 L801.0 268.7 L793.8 268.7Z" fill="#3c2e30" />
<path d="M674.0 271.0 Q674.0 270.4 680.0 270.4 C734.0 270.4 734.0 269.2 794.0 268.7 L1037.0 268.7 L1037.0 273.2 L794.0 273.2 C734.0 272.7 734.0 271.6 680.0 271.6 Q674.0 271.6 674.0 271.0 Z" fill="#fff"/>
<path d="M722.0 290.5 L733.0 290.5 L733.0 306.1 L722.0 306.1Z" fill="#8c001a" />
<path d="M611 294.3 Q611.5 292.8 618 292.8 L731.0 290.5 L731.0 299.6 L618 299.6 Q611.5 298.9 611 297.4 Z" fill="#3a0009"/>
<path d="M739.0 285.5 L1037.0 285.5 L1037.0 299.6 L739.0 299.6Z" fill="#0e1038" />
<path d="M727.0 291.5 L1037.0 291.5 L1037.0 299.6 L727.0 299.6Z" fill="#0e1038" />
<path d="M731.5 291.5 L738.7 291.5 L734.2 299.6 L727.0 299.6Z" fill="#3a0009" />
<path d="M738.7 291.5 L745.9 291.5 L741.4 299.6 L734.2 299.6Z" fill="#3c2e30" />
<path d="M745.9 291.5 L753.1 291.5 L748.6 299.6 L741.4 299.6Z" fill="#3a0009" />
<path d="M753.1 291.5 L760.3 291.5 L755.8 299.6 L748.6 299.6Z" fill="#3c2e30" />
<path d="M760.3 291.5 L767.5 291.5 L763.0 299.6 L755.8 299.6Z" fill="#3a0009" />
<path d="M767.5 291.5 L774.7 291.5 L770.2 299.6 L763.0 299.6Z" fill="#3c2e30" />
<path d="M774.7 291.5 L781.9 291.5 L777.4 299.6 L770.2 299.6Z" fill="#3a0009" />
<path d="M781.9 291.5 L789.1 291.5 L784.6 299.6 L777.4 299.6Z" fill="#3c2e30" />
<path d="M789.1 291.5 L796.3 291.5 L791.8 299.6 L784.6 299.6Z" fill="#3a0009" />
<path d="M796.3 291.5 L803.5 291.5 L799.0 299.6 L791.8 299.6Z" fill="#3c2e30" />
<path d="M611.0 302.1 Q611.0 300.3 617.0 300.3 C671.0 300.3 672.0 300.1 732.0 299.6 L1037.0 299.6 L1037.0 304.6 L732.0 304.6 C672.0 304.1 671.0 304.0 617.0 304.0 Q611.0 304.0 611.0 302.1 Z" fill="#fff"/>
<path d="M722.0 321.8 L760.0 321.8 L760.0 337.6 L722.0 337.6Z" fill="#8c001a" />
<path d="M611 325.4 Q611.5 324.0 618 324.0 L730.0 321.8 L730.0 330.1 L618 330.1 Q611.5 329.4 611 328.0 Z" fill="#3a0009"/>
<path d="M738.0 316.8 L1037.0 316.8 L1037.0 330.1 L738.0 330.1Z" fill="#0e1038" />
<path d="M726.0 322.8 L1037.0 322.8 L1037.0 330.1 L726.0 330.1Z" fill="#0e1038" />
<path d="M730.0 322.8 L737.2 322.8 L733.2 330.1 L726.0 330.1Z" fill="#3a0009" />
<path d="M737.2 322.8 L744.4 322.8 L740.4 330.1 L733.2 330.1Z" fill="#3c2e30" />
<path d="M744.4 322.8 L751.6 322.8 L747.6 330.1 L740.4 330.1Z" fill="#3a0009" />
<path d="M751.6 322.8 L758.8 322.8 L754.8 330.1 L747.6 330.1Z" fill="#3c2e30" />
<path d="M758.8 322.8 L766.0 322.8 L762.0 330.1 L754.8 330.1Z" fill="#3a0009" />
<path d="M766.0 322.8 L773.2 322.8 L769.2 330.1 L762.0 330.1Z" fill="#3c2e30" />
<path d="M773.2 322.8 L780.4 322.8 L776.4 330.1 L769.2 330.1Z" fill="#3a0009" />
<path d="M780.4 322.8 L787.6 322.8 L783.6 330.1 L776.4 330.1Z" fill="#3c2e30" />
<path d="M787.6 322.8 L794.8 322.8 L790.8 330.1 L783.6 330.1Z" fill="#3a0009" />
<path d="M794.8 322.8 L802.0 322.8 L798.0 330.1 L790.8 330.1Z" fill="#3c2e30" />
<path d="M611.0 333.1 Q611.0 331.0 617.0 331.0 C671.0 331.0 672.0 330.6 732.0 330.1 L1037.0 330.1 L1037.0 336.1 L732.0 336.1 C672.0 335.6 671.0 335.2 617.0 335.2 Q611.0 335.2 611.0 333.1 Z" fill="#fff"/>
<path d="M749.0 353.2 L760.0 353.2 L760.0 369.0 L749.0 369.0Z" fill="#8c001a" />
<path d="M611 356.6 Q611.5 355.3 618 355.3 L758.0 353.2 L758.0 361.0 L618 361.0 Q611.5 360.4 611 359.1 Z" fill="#3a0009"/>
<path d="M766.0 348.2 L1037.0 348.2 L1037.0 361.0 L766.0 361.0Z" fill="#0e1038" />
<path d="M754.0 354.2 L1037.0 354.2 L1037.0 361.0 L754.0 361.0Z" fill="#0e1038" />
<path d="M757.8 354.2 L765.1 354.2 L761.3 361.0 L754.0 361.0Z" fill="#3a0009" />
<path d="M765.1 354.2 L772.4 354.2 L768.7 361.0 L761.3 361.0Z" fill="#3c2e30" />
<path d="M772.4 354.2 L779.8 354.2 L776.0 361.0 L768.7 361.0Z" fill="#3a0009" />
<path d="M779.8 354.2 L787.1 354.2 L783.3 361.0 L776.0 361.0Z" fill="#3c2e30" />
<path d="M787.1 354.2 L794.4 354.2 L790.7 361.0 L783.3 361.0Z" fill="#3a0009" />
<path d="M794.4 354.2 L801.8 354.2 L798.0 361.0 L790.7 361.0Z" fill="#3c2e30" />
<path d="M801.8 354.2 L809.1 354.2 L805.3 361.0 L798.0 361.0Z" fill="#3a0009" />
<path d="M809.1 354.2 L816.4 354.2 L812.7 361.0 L805.3 361.0Z" fill="#3c2e30" />
<path d="M816.4 354.2 L823.8 354.2 L820.0 361.0 L812.7 361.0Z" fill="#3a0009" />
<path d="M823.8 354.2 L831.1 354.2 L827.3 361.0 L820.0 361.0Z" fill="#3c2e30" />
<path d="M831.1 354.2 L838.4 354.2 L834.7 361.0 L827.3 361.0Z" fill="#3a0009" />
<path d="M838.4 354.2 L845.8 354.2 L842.0 361.0 L834.7 361.0Z" fill="#3c2e30" />
<path d="M611.0 364.2 Q611.0 362.0 617.0 362.0 C671.0 362.0 699.0 361.5 759.0 361.0 L1037.0 361.0 L1037.0 367.5 L759.0 367.5 C699.0 367.0 671.0 366.5 617.0 366.5 Q611.0 366.5 611.0 364.2 Z" fill="#fff"/>
<path d="M747.0 384.5 L759.0 384.5 L759.0 400.4 L747.0 400.4Z" fill="#8c001a" />
<path d="M611 387.6 Q611.5 386.5 618 386.5 L757.0 384.5 L757.0 391.4 L618 391.4 Q611.5 390.9 611 389.8 Z" fill="#3a0009"/>
<path d="M765.0 379.5 L1037.0 379.5 L1037.0 391.4 L765.0 391.4Z" fill="#0e1038" />
<path d="M753.0 385.5 L1037.0 385.5 L1037.0 391.4 L753.0 391.4Z" fill="#0e1038" />
<path d="M756.3 385.5 L763.6 385.5 L760.3 391.4 L753.0 391.4Z" fill="#3a0009" />
<path d="M763.6 385.5 L770.9 385.5 L767.7 391.4 L760.3 391.4Z" fill="#3c2e30" />
<path d="M770.9 385.5 L778.3 385.5 L775.0 391.4 L767.7 391.4Z" fill="#3a0009" />
<path d="M778.3 385.5 L785.6 385.5 L782.3 391.4 L775.0 391.4Z" fill="#3c2e30" />
<path d="M785.6 385.5 L792.9 385.5 L789.7 391.4 L782.3 391.4Z" fill="#3a0009" />
<path d="M792.9 385.5 L800.3 385.5 L797.0 391.4 L789.7 391.4Z" fill="#3c2e30" />
<path d="M800.3 385.5 L807.6 385.5 L804.3 391.4 L797.0 391.4Z" fill="#3a0009" />
<path d="M807.6 385.5 L814.9 385.5 L811.7 391.4 L804.3 391.4Z" fill="#3c2e30" />
<path d="M814.9 385.5 L822.3 385.5 L819.0 391.4 L811.7 391.4Z" fill="#3a0009" />
<path d="M822.3 385.5 L829.6 385.5 L826.3 391.4 L819.0 391.4Z" fill="#3c2e30" />
<path d="M829.6 385.5 L836.9 385.5 L833.7 391.4 L826.3 391.4Z" fill="#3a0009" />
<path d="M836.9 385.5 L844.3 385.5 L841.0 391.4 L833.7 391.4Z" fill="#3c2e30" />
<path d="M611.0 395.2 Q611.0 392.7 617.0 392.7 C671.0 392.7 697.0 391.9 757.0 391.4 L1037.0 391.4 L1037.0 398.9 L757.0 398.9 C697.0 398.4 671.0 397.6 617.0 397.6 Q611.0 397.6 611.0 395.2 Z" fill="#fff"/>
<path d="M745.0 415.8 L757.0 415.8 L757.0 431.8 L745.0 431.8Z" fill="#8c001a" />
<path d="M611 418.8 Q611.5 417.8 618 417.8 L755.0 415.8 L755.0 422.3 L618 422.3 Q611.5 421.8 611 420.8 Z" fill="#3a0009"/>
<path d="M763.0 410.8 L1037.0 410.8 L1037.0 422.3 L763.0 422.3Z" fill="#0e1038" />
<path d="M751.0 416.8 L1037.0 416.8 L1037.0 422.3 L751.0 422.3Z" fill="#0e1038" />
<path d="M754.1 416.8 L761.4 416.8 L758.3 422.3 L751.0 422.3Z" fill="#3a0009" />
<path d="M761.4 416.8 L768.7 416.8 L765.7 422.3 L758.3 422.3Z" fill="#3c2e30" />
<path d="M768.7 416.8 L776.1 416.8 L773.0 422.3 L765.7 422.3Z" fill="#3a0009" />
<path d="M776.1 416.8 L783.4 416.8 L780.3 422.3 L773.0 422.3Z" fill="#3c2e30" />
<path d="M783.4 416.8 L790.7 416.8 L787.7 422.3 L780.3 422.3Z" fill="#3a0009" />
<path d="M790.7 416.8 L798.1 416.8 L795.0 422.3 L787.7 422.3Z" fill="#3c2e30" />
<path d="M798.1 416.8 L805.4 416.8 L802.3 422.3 L795.0 422.3Z" fill="#3a0009" />
<path d="M805.4 416.8 L812.7 416.8 L809.7 422.3 L802.3 422.3Z" fill="#3c2e30" />
<path d="M812.7 416.8 L820.1 416.8 L817.0 422.3 L809.7 422.3Z" fill="#3a0009" />
<path d="M820.1 416.8 L827.4 416.8 L824.3 422.3 L817.0 422.3Z" fill="#3c2e30" />
<path d="M827.4 416.8 L834.7 416.8 L831.7 422.3 L824.3 422.3Z" fill="#3a0009" />
<path d="M834.7 416.8 L842.1 416.8 L839.0 422.3 L831.7 422.3Z" fill="#3c2e30" />
<path d="M611.0 426.3 Q611.0 423.7 617.0 423.7 C671.0 423.7 695.0 422.8 755.0 422.3 L1037.0 422.3 L1037.0 430.3 L755.0 430.3 C695.0 429.8 671.0 428.9 617.0 428.9 Q611.0 428.9 611.0 426.3 Z" fill="#fff"/>
<path d="M745.0 447.1 L780.0 447.1 L780.0 463.3 L745.0 463.3Z" fill="#8c001a" />
<path d="M611 449.8 Q611.5 449.0 618 449.0 L753.0 447.1 L753.0 452.8 L618 452.8 Q611.5 452.4 611 451.5 Z" fill="#3a0009"/>
<path d="M761.0 442.1 L1037.0 442.1 L1037.0 452.8 L761.0 452.8Z" fill="#0e1038" />
<path d="M749.0 448.1 L1037.0 448.1 L1037.0 452.8 L749.0 452.8Z" fill="#0e1038" />
<path d="M751.6 448.1 L758.9 448.1 L756.3 452.8 L749.0 452.8Z" fill="#3a0009" />
<path d="M758.9 448.1 L766.2 448.1 L763.7 452.8 L756.3 452.8Z" fill="#3c2e30" />
<path d="M766.2 448.1 L773.6 448.1 L771.0 452.8 L763.7 452.8Z" fill="#3a0009" />
<path d="M773.6 448.1 L780.9 448.1 L778.3 452.8 L771.0 452.8Z" fill="#3c2e30" />
<path d="M780.9 448.1 L788.2 448.1 L785.7 452.8 L778.3 452.8Z" fill="#3a0009" />
<path d="M788.2 448.1 L795.6 448.1 L793.0 452.8 L785.7 452.8Z" fill="#3c2e30" />
<path d="M795.6 448.1 L802.9 448.1 L800.3 452.8 L793.0 452.8Z" fill="#3a0009" />
<path d="M802.9 448.1 L810.2 448.1 L807.7 452.8 L800.3 452.8Z" fill="#3c2e30" />
<path d="M810.2 448.1 L817.6 448.1 L815.0 452.8 L807.7 452.8Z" fill="#3a0009" />
<path d="M817.6 448.1 L824.9 448.1 L822.3 452.8 L815.0 452.8Z" fill="#3c2e30" />
<path d="M824.9 448.1 L832.2 448.1 L829.7 452.8 L822.3 452.8Z" fill="#3a0009" />
<path d="M832.2 448.1 L839.6 448.1 L837.0 452.8 L829.7 452.8Z" fill="#3c2e30" />
<path d="M611.0 457.3 Q611.0 454.4 617.0 454.4 C671.0 454.4 695.0 453.3 755.0 452.8 L1037.0 452.8 L1037.0 461.8 L755.0 461.8 C695.0 461.3 671.0 460.1 617.0 460.1 Q611.0 460.1 611.0 457.3 Z" fill="#fff"/>
<path d="M770.0 478.4 L780.0 478.4 L780.0 494.7 L770.0 494.7Z" fill="#8c001a" />
<path d="M611 480.9 Q611.5 480.2 618 480.2 L778.0 478.4 L778.0 483.2 L618 483.2 Q611.5 482.9 611 482.2 Z" fill="#3a0009"/>
<path d="M786.0 473.4 L1037.0 473.4 L1037.0 483.2 L786.0 483.2Z" fill="#0e1038" />
<path d="M774.0 479.4 L1037.0 479.4 L1037.0 483.2 L774.0 483.2Z" fill="#0e1038" />
<path d="M776.1 479.4 L783.9 479.4 L781.8 483.2 L774.0 483.2Z" fill="#3a0009" />
<path d="M783.9 479.4 L791.7 479.4 L789.6 483.2 L781.8 483.2Z" fill="#3c2e30" />
<path d="M791.7 479.4 L799.5 479.4 L797.4 483.2 L789.6 483.2Z" fill="#3a0009" />
<path d="M799.5 479.4 L807.3 479.4 L805.2 483.2 L797.4 483.2Z" fill="#3c2e30" />
<path d="M807.3 479.4 L815.1 479.4 L813.0 483.2 L805.2 483.2Z" fill="#3a0009" />
<path d="M815.1 479.4 L822.9 479.4 L820.8 483.2 L813.0 483.2Z" fill="#3c2e30" />
<path d="M822.9 479.4 L830.7 479.4 L828.6 483.2 L820.8 483.2Z" fill="#3a0009" />
<path d="M830.7 479.4 L838.5 479.4 L836.4 483.2 L828.6 483.2Z" fill="#3c2e30" />
<path d="M838.5 479.4 L846.3 479.4 L844.2 483.2 L836.4 483.2Z" fill="#3a0009" />
<path d="M846.3 479.4 L854.1 479.4 L852.0 483.2 L844.2 483.2Z" fill="#3c2e30" />
<path d="M611.0 488.2 Q611.0 485.1 617.0 485.1 C671.0 485.1 720.0 483.7 780.0 483.2 L1037.0 483.2 L1037.0 493.2 L780.0 493.2 C720.0 492.7 671.0 491.3 617.0 491.3 Q611.0 491.3 611.0 488.2 Z" fill="#fff"/>
<path d="M769.0 509.7 L780.0 509.7 L780.0 526.1 L769.0 526.1Z" fill="#8c001a" />
<path d="M611 513.5 Q611.5 513.3 618 513.3 L778.0 511.7 L778.0 514.1 L618 514.1 Q611.5 514.0 611 513.9 Z" fill="#3a0009"/>
<path d="M786.0 504.7 L1037.0 504.7 L1037.0 514.1 L786.0 514.1Z" fill="#0e1038" />
<path d="M774.0 510.7 L1037.0 510.7 L1037.0 514.1 L774.0 514.1Z" fill="#0e1038" />
<path d="M611.0 519.4 Q611.0 516.2 617.0 516.2 C671.0 516.2 719.0 514.6 779.0 514.1 L1037.0 514.1 L1037.0 524.6 L779.0 524.6 C719.0 524.1 671.0 522.6 617.0 522.6 Q611.0 522.6 611.0 519.4 Z" fill="#fff"/>
<path d="M767.0 541.0 L779.0 541.0 L779.0 557.6 L767.0 557.6Z" fill="#8c001a" />
<path d="M611 544.8 Q611.5 544.6 618 544.6 L777.0 543.0 L777.0 545.6 L618 545.6 Q611.5 545.5 611 545.2 Z" fill="#3a0009"/>
<path d="M785.0 536.0 L1037.0 536.0 L1037.0 545.6 L785.0 545.6Z" fill="#0e1038" />
<path d="M773.0 542.0 L1037.0 542.0 L1037.0 545.6 L773.0 545.6Z" fill="#0e1038" />
<path d="M774.9 542.0 L782.7 542.0 L780.8 545.6 L773.0 545.6Z" fill="#3a0009" />
<path d="M782.7 542.0 L790.5 542.0 L788.6 545.6 L780.8 545.6Z" fill="#3c2e30" />
<path d="M790.5 542.0 L798.3 542.0 L796.4 545.6 L788.6 545.6Z" fill="#3a0009" />
<path d="M798.3 542.0 L806.1 542.0 L804.2 545.6 L796.4 545.6Z" fill="#3c2e30" />
<path d="M806.1 542.0 L813.9 542.0 L812.0 545.6 L804.2 545.6Z" fill="#3a0009" />
<path d="M813.9 542.0 L821.7 542.0 L819.8 545.6 L812.0 545.6Z" fill="#3c2e30" />
<path d="M821.7 542.0 L829.5 542.0 L827.6 545.6 L819.8 545.6Z" fill="#3a0009" />
<path d="M829.5 542.0 L837.3 542.0 L835.4 545.6 L827.6 545.6Z" fill="#3c2e30" />
<path d="M837.3 542.0 L845.1 542.0 L843.2 545.6 L835.4 545.6Z" fill="#3a0009" />
<path d="M845.1 542.0 L852.9 542.0 L851.0 545.6 L843.2 545.6Z" fill="#3c2e30" />
<path d="M611.0 550.8 Q611.0 547.6 617.0 547.6 C671.0 547.6 717.0 546.1 777.0 545.6 L1037.0 545.6 L1037.0 556.1 L777.0 556.1 C717.0 555.6 671.0 554.0 617.0 554.0 Q611.0 554.0 611.0 550.8 Z" fill="#fff"/>
<path d="M767.0 572.3 L789.0 572.3 L789.0 589.0 L767.0 589.0Z" fill="#8c001a" />
<path d="M611 576.0 Q611.5 575.9 618 575.9 L775.0 574.3 L775.0 576.5 L618 576.5 Q611.5 576.4 611 576.3 Z" fill="#3a0009"/>
<path d="M783.0 567.3 L1037.0 567.3 L1037.0 576.5 L783.0 576.5Z" fill="#0e1038" />
<path d="M771.0 573.3 L1037.0 573.3 L1037.0 576.5 L771.0 576.5Z" fill="#0e1038" />
<path d="M611.0 582.0 Q611.0 578.6 617.0 578.6 C671.0 578.6 717.0 577.0 777.0 576.5 L1037.0 576.5 L1037.0 587.5 L777.0 587.5 C717.0 587.0 671.0 585.3 617.0 585.3 Q611.0 585.3 611.0 582.0 Z" fill="#fff"/>
<path d="M779.0 603.7 L789.0 603.7 L789.0 620.4 L779.0 620.4Z" fill="#8c001a" />
<path d="M795.0 598.7 L1037.0 598.7 L1037.0 607.4 L795.0 607.4Z" fill="#0e1038" />
<path d="M783.0 604.7 L1037.0 604.7 L1037.0 607.4 L783.0 607.4Z" fill="#0e1038" />
<path d="M611.0 613.2 Q611.0 609.7 617.0 609.7 C671.0 609.7 721.0 607.9 781.0 607.4 L1037.0 607.4 L1037.0 618.9 L781.0 618.9 C721.0 618.4 671.0 616.6 617.0 616.6 Q611.0 616.6 611.0 613.2 Z" fill="#fff"/>
<path d="M779.0 635.0 L789.0 635.0 L789.0 651.8 L779.0 651.8Z" fill="#8c001a" />
<path d="M795.0 649.0 L1037.0 649.0 L1037.0 656.8 L795.0 656.8Z" fill="#222a6e" />
<path d="M783.0 649.0 L1037.0 649.0 L1037.0 650.8 L783.0 650.8Z" fill="#222a6e" />
<path d="M611.0 642.7 Q611.0 639.0 617.0 639.0 C671.0 639.0 721.0 637.0 781.0 636.5 L1037.0 636.5 L1037.0 649.0 L781.0 649.0 C721.0 648.5 671.0 646.4 617.0 646.4 Q611.0 646.4 611.0 642.7 Z" fill="#fff"/>
<path d="M779.0 666.3 L789.0 666.3 L789.0 683.1 L779.0 683.1Z" fill="#8c001a" />
<path d="M795.0 679.3 L1037.0 679.3 L1037.0 688.1 L795.0 688.1Z" fill="#222a6e" />
<path d="M783.0 679.3 L1037.0 679.3 L1037.0 682.1 L783.0 682.1Z" fill="#222a6e" />
<path d="M611.0 673.6 Q611.0 670.1 617.0 670.1 C671.0 670.1 721.0 668.3 781.0 667.8 L1037.0 667.8 L1037.0 679.3 L781.0 679.3 C721.0 678.8 671.0 677.1 617.0 677.1 Q611.0 677.1 611.0 673.6 Z" fill="#fff"/>
<path d="M766.5 697.8 L789.0 697.8 L789.0 714.4 L766.5 714.4Z" fill="#8c001a" />
<path d="M782.5 711.3 L1037.0 711.3 L1037.0 719.4 L782.5 719.4Z" fill="#222a6e" />
<path d="M770.5 711.3 L1037.0 711.3 L1037.0 713.4 L770.5 713.4Z" fill="#222a6e" />
<path d="M611.0 705.3 Q611.0 701.7 617.0 701.7 C671.0 701.7 716.5 699.8 776.5 699.3 L1037.0 699.3 L1037.0 711.3 L776.5 711.3 C716.5 710.8 671.0 708.9 617.0 708.9 Q611.0 708.9 611.0 705.3 Z" fill="#fff"/>
<path d="M766.5 729.2 L778.0 729.2 L778.0 745.7 L766.5 745.7Z" fill="#8c001a" />
<path d="M784.0 741.7 L1037.0 741.7 L1037.0 750.7 L784.0 750.7Z" fill="#222a6e" />
<path d="M772.0 741.7 L1037.0 741.7 L1037.0 744.7 L772.0 744.7Z" fill="#222a6e" />
<path d="M611.0 736.2 Q611.0 732.8 617.0 732.8 C671.0 732.8 716.5 731.2 776.5 730.7 L1037.0 730.7 L1037.0 741.7 L776.5 741.7 C716.5 741.2 671.0 739.5 617.0 739.5 Q611.0 739.5 611.0 736.2 Z" fill="#fff"/>
<path d="M768.0 760.6 L780.0 760.6 L780.0 777.0 L768.0 777.0Z" fill="#8c001a" />
<path d="M611 772.5 Q611.5 772.3 618 772.1 L778.0 772.1 L778.0 775.0 L618 773.4 Q611.5 773.4 611 773.1 Z" fill="#6d0012"/>
<path d="M786.0 772.1 L1037.0 772.1 L1037.0 782.0 L786.0 782.0Z" fill="#222a6e" />
<path d="M774.0 772.1 L1037.0 772.1 L1037.0 776.0 L774.0 776.0Z" fill="#222a6e" />
<path d="M771.8 772.1 L779.6 772.1 L781.8 776.0 L774.0 776.0Z" fill="#6d0012" />
<path d="M779.6 772.1 L787.4 772.1 L789.6 776.0 L781.8 776.0Z" fill="#b39480" />
<path d="M787.4 772.1 L795.2 772.1 L797.4 776.0 L789.6 776.0Z" fill="#6d0012" />
<path d="M795.2 772.1 L803.0 772.1 L805.2 776.0 L797.4 776.0Z" fill="#b39480" />
<path d="M803.0 772.1 L810.8 772.1 L813.0 776.0 L805.2 776.0Z" fill="#6d0012" />
<path d="M810.8 772.1 L818.6 772.1 L820.8 776.0 L813.0 776.0Z" fill="#b39480" />
<path d="M818.6 772.1 L826.4 772.1 L828.6 776.0 L820.8 776.0Z" fill="#6d0012" />
<path d="M826.4 772.1 L834.2 772.1 L836.4 776.0 L828.6 776.0Z" fill="#b39480" />
<path d="M834.2 772.1 L842.0 772.1 L844.2 776.0 L836.4 776.0Z" fill="#6d0012" />
<path d="M842.0 772.1 L849.8 772.1 L852.0 776.0 L844.2 776.0Z" fill="#b39480" />
<path d="M611.0 767.1 Q611.0 764.0 617.0 764.0 C671.0 764.0 718.0 762.6 778.0 762.1 L1037.0 762.1 L1037.0 772.1 L778.0 772.1 C718.0 771.6 671.0 770.2 617.0 770.2 Q611.0 770.2 611.0 767.1 Z" fill="#fff"/>
<path d="M770.0 792.0 L781.0 792.0 L781.0 808.3 L770.0 808.3Z" fill="#8c001a" />
<path d="M611 804.5 Q611.5 803.9 618 803.5 L779.0 803.5 L779.0 808.3 L618 806.5 Q611.5 806.5 611 805.9 Z" fill="#6d0012"/>
<path d="M787.0 803.5 L1037.0 803.5 L1037.0 813.3 L787.0 813.3Z" fill="#222a6e" />
<path d="M775.0 803.5 L1037.0 803.5 L1037.0 807.3 L775.0 807.3Z" fill="#222a6e" />
<path d="M772.9 803.5 L780.7 803.5 L782.8 807.3 L775.0 807.3Z" fill="#6d0012" />
<path d="M780.7 803.5 L788.5 803.5 L790.6 807.3 L782.8 807.3Z" fill="#b39480" />
<path d="M788.5 803.5 L796.3 803.5 L798.4 807.3 L790.6 807.3Z" fill="#6d0012" />
<path d="M796.3 803.5 L804.1 803.5 L806.2 807.3 L798.4 807.3Z" fill="#b39480" />
<path d="M804.1 803.5 L811.9 803.5 L814.0 807.3 L806.2 807.3Z" fill="#6d0012" />
<path d="M811.9 803.5 L819.7 803.5 L821.8 807.3 L814.0 807.3Z" fill="#b39480" />
<path d="M819.7 803.5 L827.5 803.5 L829.6 807.3 L821.8 807.3Z" fill="#6d0012" />
<path d="M827.5 803.5 L835.3 803.5 L837.4 807.3 L829.6 807.3Z" fill="#b39480" />
<path d="M835.3 803.5 L843.1 803.5 L845.2 807.3 L837.4 807.3Z" fill="#6d0012" />
<path d="M843.1 803.5 L850.9 803.5 L853.0 807.3 L845.2 807.3Z" fill="#b39480" />
<path d="M611.0 798.5 Q611.0 795.4 617.0 795.4 C671.0 795.4 720.0 794.0 780.0 793.5 L1037.0 793.5 L1037.0 803.5 L780.0 803.5 C720.0 803.0 671.0 801.6 617.0 801.6 Q611.0 801.6 611.0 798.5 Z" fill="#fff"/>
<path d="M744.5 823.5 L781.0 823.5 L781.0 839.7 L744.5 839.7Z" fill="#8c001a" />
<path d="M611 835.2 Q611.5 834.4 618 834.0 L752.5 834.0 L752.5 839.7 L618 837.7 Q611.5 837.7 611 836.9 Z" fill="#6d0012"/>
<path d="M760.5 834.0 L1037.0 834.0 L1037.0 844.7 L760.5 844.7Z" fill="#222a6e" />
<path d="M748.5 834.0 L1037.0 834.0 L1037.0 838.7 L748.5 838.7Z" fill="#222a6e" />
<path d="M745.9 834.0 L753.3 834.0 L755.8 838.7 L748.5 838.7Z" fill="#6d0012" />
<path d="M753.3 834.0 L760.6 834.0 L763.2 838.7 L755.8 838.7Z" fill="#b39480" />
<path d="M760.6 834.0 L767.9 834.0 L770.5 838.7 L763.2 838.7Z" fill="#6d0012" />
<path d="M767.9 834.0 L775.3 834.0 L777.8 838.7 L770.5 838.7Z" fill="#b39480" />
<path d="M775.3 834.0 L782.6 834.0 L785.2 838.7 L777.8 838.7Z" fill="#6d0012" />
<path d="M782.6 834.0 L789.9 834.0 L792.5 838.7 L785.2 838.7Z" fill="#b39480" />
<path d="M789.9 834.0 L797.3 834.0 L799.8 838.7 L792.5 838.7Z" fill="#6d0012" />
<path d="M797.3 834.0 L804.6 834.0 L807.2 838.7 L799.8 838.7Z" fill="#b39480" />
<path d="M804.6 834.0 L811.9 834.0 L814.5 838.7 L807.2 838.7Z" fill="#6d0012" />
<path d="M811.9 834.0 L819.3 834.0 L821.8 838.7 L814.5 838.7Z" fill="#b39480" />
<path d="M819.3 834.0 L826.6 834.0 L829.2 838.7 L821.8 838.7Z" fill="#6d0012" />
<path d="M826.6 834.0 L833.9 834.0 L836.5 838.7 L829.2 838.7Z" fill="#b39480" />
<path d="M611.0 829.5 Q611.0 826.6 617.0 826.6 C671.0 826.6 694.5 825.5 754.5 825.0 L1037.0 825.0 L1037.0 834.0 L754.5 834.0 C694.5 833.5 671.0 832.3 617.0 832.3 Q611.0 832.3 611.0 829.5 Z" fill="#fff"/>
<path d="M744.5 854.9 L756.0 854.9 L756.0 871.0 L744.5 871.0Z" fill="#8c001a" />
<path d="M611 865.9 Q611.5 864.9 618 864.4 L754.0 864.4 L754.0 871.0 L618 869.0 Q611.5 869.0 611 868.0 Z" fill="#6d0012"/>
<path d="M762.0 864.4 L1037.0 864.4 L1037.0 876.0 L762.0 876.0Z" fill="#222a6e" />
<path d="M750.0 864.4 L1037.0 864.4 L1037.0 870.0 L750.0 870.0Z" fill="#222a6e" />
<path d="M746.9 864.4 L754.3 864.4 L757.3 870.0 L750.0 870.0Z" fill="#6d0012" />
<path d="M754.3 864.4 L761.6 864.4 L764.7 870.0 L757.3 870.0Z" fill="#b39480" />
<path d="M761.6 864.4 L768.9 864.4 L772.0 870.0 L764.7 870.0Z" fill="#6d0012" />
<path d="M768.9 864.4 L776.3 864.4 L779.3 870.0 L772.0 870.0Z" fill="#b39480" />
<path d="M776.3 864.4 L783.6 864.4 L786.7 870.0 L779.3 870.0Z" fill="#6d0012" />
<path d="M783.6 864.4 L790.9 864.4 L794.0 870.0 L786.7 870.0Z" fill="#b39480" />
<path d="M790.9 864.4 L798.3 864.4 L801.3 870.0 L794.0 870.0Z" fill="#6d0012" />
<path d="M798.3 864.4 L805.6 864.4 L808.7 870.0 L801.3 870.0Z" fill="#b39480" />
<path d="M805.6 864.4 L812.9 864.4 L816.0 870.0 L808.7 870.0Z" fill="#6d0012" />
<path d="M812.9 864.4 L820.3 864.4 L823.3 870.0 L816.0 870.0Z" fill="#b39480" />
<path d="M820.3 864.4 L827.6 864.4 L830.7 870.0 L823.3 870.0Z" fill="#6d0012" />
<path d="M827.6 864.4 L834.9 864.4 L838.0 870.0 L830.7 870.0Z" fill="#b39480" />
<path d="M611.0 860.4 Q611.0 857.8 617.0 857.8 C671.0 857.8 694.5 856.9 754.5 856.4 L1037.0 856.4 L1037.0 864.4 L754.5 864.4 C694.5 863.9 671.0 863.0 617.0 863.0 Q611.0 863.0 611.0 860.4 Z" fill="#fff"/>
<path d="M746.0 886.3 L758.0 886.3 L758.0 902.3 L746.0 902.3Z" fill="#8c001a" />
<path d="M611 896.6 Q611.5 895.4 618 894.8 L756.0 894.8 L756.0 902.3 L618 900.2 Q611.5 900.2 611 899.0 Z" fill="#6d0012"/>
<path d="M764.0 894.8 L1037.0 894.8 L1037.0 907.3 L764.0 907.3Z" fill="#222a6e" />
<path d="M752.0 894.8 L1037.0 894.8 L1037.0 901.3 L752.0 901.3Z" fill="#222a6e" />
<path d="M748.4 894.8 L755.8 894.8 L759.3 901.3 L752.0 901.3Z" fill="#6d0012" />
<path d="M755.8 894.8 L763.1 894.8 L766.7 901.3 L759.3 901.3Z" fill="#b39480" />
<path d="M763.1 894.8 L770.4 894.8 L774.0 901.3 L766.7 901.3Z" fill="#6d0012" />
<path d="M770.4 894.8 L777.8 894.8 L781.3 901.3 L774.0 901.3Z" fill="#b39480" />
<path d="M777.8 894.8 L785.1 894.8 L788.7 901.3 L781.3 901.3Z" fill="#6d0012" />
<path d="M785.1 894.8 L792.4 894.8 L796.0 901.3 L788.7 901.3Z" fill="#b39480" />
<path d="M792.4 894.8 L799.8 894.8 L803.3 901.3 L796.0 901.3Z" fill="#6d0012" />
<path d="M799.8 894.8 L807.1 894.8 L810.7 901.3 L803.3 901.3Z" fill="#b39480" />
<path d="M807.1 894.8 L814.4 894.8 L818.0 901.3 L810.7 901.3Z" fill="#6d0012" />
<path d="M814.4 894.8 L821.8 894.8 L825.3 901.3 L818.0 901.3Z" fill="#b39480" />
<path d="M821.8 894.8 L829.1 894.8 L832.7 901.3 L825.3 901.3Z" fill="#6d0012" />
<path d="M829.1 894.8 L836.4 894.8 L840.0 901.3 L832.7 901.3Z" fill="#b39480" />
<path d="M611.0 891.3 Q611.0 889.0 617.0 889.0 C671.0 889.0 696.0 888.3 756.0 887.8 L1037.0 887.8 L1037.0 894.8 L756.0 894.8 C696.0 894.3 671.0 893.7 617.0 893.7 Q611.0 893.7 611.0 891.3 Z" fill="#fff"/>
<path d="M748.0 917.8 L760.0 917.8 L760.0 933.6 L748.0 933.6Z" fill="#8c001a" />
<path d="M611 926.8 Q611.5 925.4 618 924.8 L758.0 924.8 L758.0 933.0 L618 930.8 Q611.5 930.8 611 929.5 Z" fill="#6d0012"/>
<path d="M766.0 924.8 L1037.0 924.8 L1037.0 938.6 L766.0 938.6Z" fill="#222a6e" />
<path d="M754.0 924.8 L1037.0 924.8 L1037.0 932.6 L754.0 932.6Z" fill="#222a6e" />
<path d="M749.7 924.8 L757.0 924.8 L761.3 932.6 L754.0 932.6Z" fill="#6d0012" />
<path d="M757.0 924.8 L764.4 924.8 L768.7 932.6 L761.3 932.6Z" fill="#b39480" />
<path d="M764.4 924.8 L771.7 924.8 L776.0 932.6 L768.7 932.6Z" fill="#6d0012" />
<path d="M771.7 924.8 L779.0 924.8 L783.3 932.6 L776.0 932.6Z" fill="#b39480" />
<path d="M779.0 924.8 L786.4 924.8 L790.7 932.6 L783.3 932.6Z" fill="#6d0012" />
<path d="M786.4 924.8 L793.7 924.8 L798.0 932.6 L790.7 932.6Z" fill="#b39480" />
<path d="M793.7 924.8 L801.0 924.8 L805.3 932.6 L798.0 932.6Z" fill="#6d0012" />
<path d="M801.0 924.8 L808.4 924.8 L812.7 932.6 L805.3 932.6Z" fill="#b39480" />
<path d="M808.4 924.8 L815.7 924.8 L820.0 932.6 L812.7 932.6Z" fill="#6d0012" />
<path d="M815.7 924.8 L823.0 924.8 L827.3 932.6 L820.0 932.6Z" fill="#b39480" />
<path d="M823.0 924.8 L830.4 924.8 L834.7 932.6 L827.3 932.6Z" fill="#6d0012" />
<path d="M830.4 924.8 L837.7 924.8 L842.0 932.6 L834.7 932.6Z" fill="#b39480" />
<path d="M611.0 922.0 Q611.0 920.0 617.0 920.0 C671.0 920.0 698.0 919.8 758.0 919.3 L1037.0 919.3 L1037.0 924.8 L758.0 924.8 C698.0 924.3 671.0 924.0 617.0 924.0 Q611.0 924.0 611.0 922.0 Z" fill="#fff"/>
<path d="M721.0 949.2 L760.0 949.2 L760.0 964.9 L721.0 964.9Z" fill="#8c001a" />
<path d="M611 956.8 Q611.5 955.4 618 954.7 L729.0 954.7 L729.0 963.4 L618 961.2 Q611.5 961.2 611 959.7 Z" fill="#6d0012"/>
<path d="M737.0 954.7 L1037.0 954.7 L1037.0 969.9 L737.0 969.9Z" fill="#222a6e" />
<path d="M725.0 954.7 L1037.0 954.7 L1037.0 963.9 L725.0 963.9Z" fill="#222a6e" />
<path d="M719.9 954.7 L727.1 954.7 L732.2 963.9 L725.0 963.9Z" fill="#6d0012" />
<path d="M727.1 954.7 L734.3 954.7 L739.4 963.9 L732.2 963.9Z" fill="#b39480" />
<path d="M734.3 954.7 L741.5 954.7 L746.6 963.9 L739.4 963.9Z" fill="#6d0012" />
<path d="M741.5 954.7 L748.7 954.7 L753.8 963.9 L746.6 963.9Z" fill="#b39480" />
<path d="M748.7 954.7 L755.9 954.7 L761.0 963.9 L753.8 963.9Z" fill="#6d0012" />
<path d="M755.9 954.7 L763.1 954.7 L768.2 963.9 L761.0 963.9Z" fill="#b39480" />
<path d="M763.1 954.7 L770.3 954.7 L775.4 963.9 L768.2 963.9Z" fill="#6d0012" />
<path d="M770.3 954.7 L777.5 954.7 L782.6 963.9 L775.4 963.9Z" fill="#b39480" />
<path d="M777.5 954.7 L784.7 954.7 L789.8 963.9 L782.6 963.9Z" fill="#6d0012" />
<path d="M784.7 954.7 L791.9 954.7 L797.0 963.9 L789.8 963.9Z" fill="#b39480" />
<path d="M660.0 952.7 Q660.0 952.1 666.0 952.1 C720.0 952.1 720.0 950.7 780.0 950.7 L1037.0 950.7 L1037.0 954.7 L780.0 954.7 C720.0 954.7 720.0 953.3 666.0 953.3 Q660.0 953.3 660.0 952.7 Z" fill="#fff"/>
<path d="M721.0 980.6 L733.0 980.6 L733.0 996.2 L721.0 996.2Z" fill="#8c001a" />
<path d="M611 986.9 Q611.5 985.4 618 984.6 L731.0 984.6 L731.0 993.8 L618 991.5 Q611.5 991.5 611 990.0 Z" fill="#6d0012"/>
<path d="M739.0 984.6 L1037.0 984.6 L1037.0 1001.2 L739.0 1001.2Z" fill="#222a6e" />
<path d="M727.0 984.6 L1037.0 984.6 L1037.0 995.2 L727.0 995.2Z" fill="#222a6e" />
<path d="M721.2 984.6 L728.4 984.6 L734.2 995.2 L727.0 995.2Z" fill="#6d0012" />
<path d="M728.4 984.6 L735.6 984.6 L741.4 995.2 L734.2 995.2Z" fill="#b39480" />
<path d="M735.6 984.6 L742.8 984.6 L748.6 995.2 L741.4 995.2Z" fill="#6d0012" />
<path d="M742.8 984.6 L750.0 984.6 L755.8 995.2 L748.6 995.2Z" fill="#b39480" />
<path d="M750.0 984.6 L757.2 984.6 L763.0 995.2 L755.8 995.2Z" fill="#6d0012" />
<path d="M757.2 984.6 L764.4 984.6 L770.2 995.2 L763.0 995.2Z" fill="#b39480" />
<path d="M764.4 984.6 L771.6 984.6 L777.4 995.2 L770.2 995.2Z" fill="#6d0012" />
<path d="M771.6 984.6 L778.8 984.6 L784.6 995.2 L777.4 995.2Z" fill="#b39480" />
<path d="M778.8 984.6 L786.0 984.6 L791.8 995.2 L784.6 995.2Z" fill="#6d0012" />
<path d="M786.0 984.6 L793.2 984.6 L799.0 995.2 L791.8 995.2Z" fill="#b39480" />
<path d="M679.0 983.4 Q679.0 982.8 685.0 982.8 C739.0 982.8 739.0 982.1 799.0 982.1 L1037.0 982.1 L1037.0 984.6 L799.0 984.6 C739.0 984.6 739.0 984.0 685.0 984.0 Q679.0 984.0 679.0 983.4 Z" fill="#fff"/>
<path d="M723.0 1012.0 L735.0 1012.0 L735.0 1027.5 L723.0 1027.5Z" fill="#8c001a" />
<path d="M611 1018.5 Q611.5 1016.9 618 1016.0 L733.0 1016.0 L733.0 1025.7 L618 1023.4 Q611.5 1023.4 611 1021.7 Z" fill="#6d0012"/>
<path d="M741.0 1016.0 L1037.0 1016.0 L1037.0 1032.5 L741.0 1032.5Z" fill="#222a6e" />
<path d="M729.0 1016.0 L1037.0 1016.0 L1037.0 1026.5 L729.0 1026.5Z" fill="#222a6e" />
<path d="M723.2 1016.0 L730.4 1016.0 L736.2 1026.5 L729.0 1026.5Z" fill="#6d0012" />
<path d="M730.4 1016.0 L737.6 1016.0 L743.4 1026.5 L736.2 1026.5Z" fill="#b39480" />
<path d="M737.6 1016.0 L744.8 1016.0 L750.6 1026.5 L743.4 1026.5Z" fill="#6d0012" />
<path d="M744.8 1016.0 L752.0 1016.0 L757.8 1026.5 L750.6 1026.5Z" fill="#b39480" />
<path d="M752.0 1016.0 L759.2 1016.0 L765.0 1026.5 L757.8 1026.5Z" fill="#6d0012" />
<path d="M759.2 1016.0 L766.4 1016.0 L772.2 1026.5 L765.0 1026.5Z" fill="#b39480" />
<path d="M766.4 1016.0 L773.6 1016.0 L779.4 1026.5 L772.2 1026.5Z" fill="#6d0012" />
<path d="M773.6 1016.0 L780.8 1016.0 L786.6 1026.5 L779.4 1026.5Z" fill="#b39480" />
<path d="M780.8 1016.0 L788.0 1016.0 L793.8 1026.5 L786.6 1026.5Z" fill="#6d0012" />
<path d="M788.0 1016.0 L795.2 1016.0 L801.0 1026.5 L793.8 1026.5Z" fill="#b39480" />
<path d="M654.0 1014.8 Q654.0 1014.2 660.0 1014.2 C714.0 1014.2 714.0 1013.5 774.0 1013.5 L1037.0 1013.5 L1037.0 1016.0 L774.0 1016.0 C714.0 1016.0 714.0 1015.4 660.0 1015.4 Q654.0 1015.4 654.0 1014.8 Z" fill="#fff"/>
<path d="M725.0 1043.5 L737.0 1043.5 L737.0 1058.8 L725.0 1058.8Z" fill="#8c001a" />
<path d="M611 1049.5 Q611.5 1047.8 618 1047.0 L735.0 1047.0 L735.0 1057.1 L618 1054.7 Q611.5 1054.7 611 1053.0 Z" fill="#6d0012"/>
<path d="M743.0 1047.0 L1037.0 1047.0 L1037.0 1063.8 L743.0 1063.8Z" fill="#222a6e" />
<path d="M731.0 1047.0 L1037.0 1047.0 L1037.0 1057.8 L731.0 1057.8Z" fill="#222a6e" />
<path d="M731.0 1044.5 L881.0 1044.5 L881.0 1047.5 L731.0 1047.5Z" fill="#222a6e" />
<path d="M725.0 1047.0 L732.2 1047.0 L738.2 1057.8 L731.0 1057.8Z" fill="#6d0012" />
<path d="M732.2 1047.0 L739.4 1047.0 L745.4 1057.8 L738.2 1057.8Z" fill="#b39480" />
<path d="M739.4 1047.0 L746.6 1047.0 L752.6 1057.8 L745.4 1057.8Z" fill="#6d0012" />
<path d="M746.6 1047.0 L753.8 1047.0 L759.8 1057.8 L752.6 1057.8Z" fill="#b39480" />
<path d="M753.8 1047.0 L761.0 1047.0 L767.0 1057.8 L759.8 1057.8Z" fill="#6d0012" />
<path d="M761.0 1047.0 L768.2 1047.0 L774.2 1057.8 L767.0 1057.8Z" fill="#b39480" />
<path d="M768.2 1047.0 L775.4 1047.0 L781.4 1057.8 L774.2 1057.8Z" fill="#6d0012" />
<path d="M775.4 1047.0 L782.6 1047.0 L788.6 1057.8 L781.4 1057.8Z" fill="#b39480" />
<path d="M782.6 1047.0 L789.8 1047.0 L795.8 1057.8 L788.6 1057.8Z" fill="#6d0012" />
<path d="M789.8 1047.0 L797.0 1047.0 L803.0 1057.8 L795.8 1057.8Z" fill="#b39480" />
<path d="M861.0 1046.0 Q861.0 1045.4 867.0 1045.4 C921.0 1045.4 921.0 1045.0 981.0 1045.0 L1037.0 1045.0 L1037.0 1047.0 L981.0 1047.0 C921.0 1047.0 921.0 1046.6 867.0 1046.6 Q861.0 1046.6 861.0 1046.0 Z" fill="#fff"/>
<path d="M699.0 1074.9 L737.0 1074.9 L737.0 1090.2 L699.0 1090.2Z" fill="#8c001a" />
<path d="M611 1080.6 Q611.5 1078.8 618 1077.9 L707.0 1077.9 L707.0 1088.5 L618 1086.1 Q611.5 1086.1 611 1084.3 Z" fill="#6d0012"/>
<path d="M715.0 1077.9 L1037.0 1077.9 L1037.0 1095.2 L715.0 1095.2Z" fill="#222a6e" />
<path d="M703.0 1077.9 L1037.0 1077.9 L1037.0 1089.2 L703.0 1089.2Z" fill="#222a6e" />
<path d="M703.0 1075.9 L1001.0 1075.9 L1001.0 1078.4 L703.0 1078.4Z" fill="#222a6e" />
<path d="M696.8 1077.9 L704.3 1077.9 L710.5 1089.2 L703.0 1089.2Z" fill="#6d0012" />
<path d="M704.3 1077.9 L711.8 1077.9 L718.0 1089.2 L710.5 1089.2Z" fill="#b39480" />
<path d="M711.8 1077.9 L719.3 1077.9 L725.5 1089.2 L718.0 1089.2Z" fill="#6d0012" />
<path d="M719.3 1077.9 L726.8 1077.9 L733.0 1089.2 L725.5 1089.2Z" fill="#b39480" />
<path d="M726.8 1077.9 L734.3 1077.9 L740.5 1089.2 L733.0 1089.2Z" fill="#6d0012" />
<path d="M734.3 1077.9 L741.8 1077.9 L748.0 1089.2 L740.5 1089.2Z" fill="#b39480" />
<path d="M981.0 1077.1 Q981.0 1076.5 987.0 1076.5 C1041.0 1076.5 1041.0 1076.4 1101.0 1076.4 L1037.0 1076.4 L1037.0 1077.9 L1101.0 1077.9 C1041.0 1077.9 1041.0 1077.7 987.0 1077.7 Q981.0 1077.7 981.0 1077.1 Z" fill="#fff"/>
<path d="M699.0 1106.3 L710.0 1106.3 L710.0 1121.5 L699.0 1121.5Z" fill="#8c001a" />
<path d="M611 1112.2 Q611.5 1110.3 618 1109.3 L708.0 1109.3 L708.0 1120.4 L618 1117.9 Q611.5 1117.9 611 1116.0 Z" fill="#6d0012"/>
<path d="M716.0 1109.3 L1037.0 1109.3 L1037.0 1126.5 L716.0 1126.5Z" fill="#222a6e" />
<path d="M704.0 1109.3 L1037.0 1109.3 L1037.0 1120.5 L704.0 1120.5Z" fill="#222a6e" />
<path d="M704.0 1107.3 L986.0 1107.3 L986.0 1109.8 L704.0 1109.8Z" fill="#222a6e" />
<path d="M697.9 1109.3 L705.4 1109.3 L711.5 1120.5 L704.0 1120.5Z" fill="#6d0012" />
<path d="M705.4 1109.3 L712.9 1109.3 L719.0 1120.5 L711.5 1120.5Z" fill="#b39480" />
<path d="M712.9 1109.3 L720.4 1109.3 L726.5 1120.5 L719.0 1120.5Z" fill="#6d0012" />
<path d="M720.4 1109.3 L727.9 1109.3 L734.0 1120.5 L726.5 1120.5Z" fill="#b39480" />
<path d="M727.9 1109.3 L735.4 1109.3 L741.5 1120.5 L734.0 1120.5Z" fill="#6d0012" />
<path d="M735.4 1109.3 L742.9 1109.3 L749.0 1120.5 L741.5 1120.5Z" fill="#b39480" />
<path d="M966.0 1108.6 Q966.0 1108.0 972.0 1108.0 C1026.0 1108.0 1026.0 1107.8 1086.0 1107.8 L1037.0 1107.8 L1037.0 1109.3 L1086.0 1109.3 C1026.0 1109.3 1026.0 1109.2 972.0 1109.2 Q966.0 1109.2 966.0 1108.6 Z" fill="#fff"/>
<path d="M700.0 1137.7 L712.0 1137.7 L712.0 1152.8 L700.0 1152.8Z" fill="#8c001a" />
<path d="M611 1142.3 Q611.5 1140.2 618 1139.2 L710.0 1139.2 L710.0 1150.8 L618 1148.3 Q611.5 1148.3 611 1146.3 Z" fill="#6d0012"/>
<path d="M718.0 1139.2 L1037.0 1139.2 L1037.0 1157.8 L718.0 1157.8Z" fill="#222a6e" />
<path d="M706.0 1139.2 L1037.0 1139.2 L1037.0 1151.8 L706.0 1151.8Z" fill="#222a6e" />
<path d="M699.1 1139.2 L706.6 1139.2 L713.5 1151.8 L706.0 1151.8Z" fill="#6d0012" />
<path d="M706.6 1139.2 L714.1 1139.2 L721.0 1151.8 L713.5 1151.8Z" fill="#b39480" />
<path d="M714.1 1139.2 L721.6 1139.2 L728.5 1151.8 L721.0 1151.8Z" fill="#6d0012" />
<path d="M721.6 1139.2 L729.1 1139.2 L736.0 1151.8 L728.5 1151.8Z" fill="#b39480" />
<path d="M729.1 1139.2 L736.6 1139.2 L743.5 1151.8 L736.0 1151.8Z" fill="#6d0012" />
<path d="M736.6 1139.2 L744.1 1139.2 L751.0 1151.8 L743.5 1151.8Z" fill="#b39480" />
<path d="M702.0 1169.2 L713.0 1169.2 L713.0 1184.1 L702.0 1184.1Z" fill="#8c001a" />
<path d="M611 1173.8 Q611.5 1171.7 618 1170.7 L711.0 1170.7 L711.0 1182.7 L618 1180.1 Q611.5 1180.1 611 1178.0 Z" fill="#6d0012"/>
<path d="M719.0 1170.7 L1037.0 1170.7 L1037.0 1189.1 L719.0 1189.1Z" fill="#222a6e" />
<path d="M707.0 1170.7 L1037.0 1170.7 L1037.0 1183.1 L707.0 1183.1Z" fill="#222a6e" />
<path d="M700.2 1170.7 L707.7 1170.7 L714.5 1183.1 L707.0 1183.1Z" fill="#6d0012" />
<path d="M707.7 1170.7 L715.2 1170.7 L722.0 1183.1 L714.5 1183.1Z" fill="#b39480" />
<path d="M715.2 1170.7 L722.7 1170.7 L729.5 1183.1 L722.0 1183.1Z" fill="#6d0012" />
<path d="M722.7 1170.7 L730.2 1170.7 L737.0 1183.1 L729.5 1183.1Z" fill="#b39480" />
<path d="M730.2 1170.7 L737.7 1170.7 L744.5 1183.1 L737.0 1183.1Z" fill="#6d0012" />
<path d="M737.7 1170.7 L745.2 1170.7 L752.0 1183.1 L744.5 1183.1Z" fill="#b39480" />
<path d="M711.8 84.2 Q909.2 84.2 1037.0 84.2 L1037.0 100.1 Q909.2 101.2 711.8 104.7 A10.2 10.2 0 0 1 711.8 84.2 Z" fill="#2d3a92"/>
<path d="M711.2 115.6 Q909.0 115.9 1037.0 115.6 L1037.0 131.6 Q909.0 132.4 711.2 136.0 A10.2 10.2 0 0 1 711.2 115.6 Z" fill="#2d3a92"/>
<path d="M710.1 147.0 Q908.5 147.5 1037.0 147.1 L1037.0 163.1 Q908.5 163.7 710.1 167.3 A10.1 10.1 0 0 1 710.1 147.0 Z" fill="#2d3a92"/>
<path d="M709.1 178.4 Q908.0 179.1 1037.0 178.5 L1037.0 194.7 Q908.0 195.0 709.1 198.6 A10.1 10.1 0 0 1 709.1 178.4 Z" fill="#2d3a92"/>
<path d="M735.0 209.9 Q921.0 210.7 1037.0 210.0 L1037.0 226.2 Q921.0 226.4 735.0 229.9 A10.0 10.0 0 0 1 735.0 209.9 Z" fill="#2d3a92"/>
<path d="M735.0 241.3 Q921.0 242.3 1037.0 241.4 L1037.0 257.8 Q921.0 257.8 735.0 261.2 A10.0 10.0 0 0 1 735.0 241.3 Z" fill="#2d3a92"/>
<path d="M732.9 272.7 Q920.0 273.8 1037.0 272.9 L1037.0 289.3 Q920.0 289.1 732.9 292.5 A9.9 9.9 0 0 1 732.9 272.7 Z" fill="#2d3a92"/>
<path d="M731.9 304.1 Q919.5 305.4 1037.0 304.3 L1037.0 320.9 Q919.5 320.5 731.9 323.8 A9.8 9.8 0 0 1 731.9 304.1 Z" fill="#2d3a92"/>
<path d="M759.8 335.6 Q933.5 337.0 1037.0 335.8 L1037.0 352.4 Q933.5 351.9 759.8 355.2 A9.8 9.8 0 0 1 759.8 335.6 Z" fill="#2d3a92"/>
<path d="M758.7 367.0 Q933.0 368.5 1037.0 367.2 L1037.0 384.0 Q933.0 383.3 758.7 386.5 A9.7 9.7 0 0 1 758.7 367.0 Z" fill="#2d3a92"/>
<path d="M756.7 398.4 Q932.0 400.0 1037.0 398.7 L1037.0 415.6 Q932.0 414.7 756.7 417.8 A9.7 9.7 0 0 1 756.7 398.4 Z" fill="#2d3a92"/>
<path d="M754.6 429.8 Q931.0 431.6 1037.0 430.1 L1037.0 447.1 Q931.0 446.1 754.6 449.1 A9.6 9.6 0 0 1 754.6 429.8 Z" fill="#2d3a92"/>
<path d="M779.6 461.3 Q943.5 463.1 1037.0 461.6 L1037.0 478.7 Q943.5 477.5 779.6 480.4 A9.6 9.6 0 0 1 779.6 461.3 Z" fill="#2d3a92"/>
<path d="M779.5 492.7 Q943.5 494.7 1037.0 493.0 L1037.0 510.2 Q943.5 508.9 779.5 511.7 A9.5 9.5 0 0 1 779.5 492.7 Z" fill="#2d3a92"/>
<path d="M778.5 524.1 Q943.0 526.2 1037.0 524.4 L1037.0 541.8 Q943.0 540.3 778.5 543.0 A9.4 9.4 0 0 1 778.5 524.1 Z" fill="#2d3a92"/>
<path d="M776.4 555.6 Q942.0 557.7 1037.0 555.9 L1037.0 573.4 Q942.0 571.7 776.4 574.3 A9.4 9.4 0 0 1 776.4 555.6 Z" fill="#2d3a92"/>
<path d="M788.3 587.0 Q948.0 589.2 1037.0 587.3 L1037.0 604.9 Q948.0 603.1 788.3 605.7 A9.3 9.3 0 0 1 788.3 587.0 Z" fill="#2d3a92"/>
<path d="M788.3 618.4 Q948.0 620.8 1037.0 618.8 L1037.0 636.5 Q948.0 634.5 788.3 637.0 A9.3 9.3 0 0 1 788.3 618.4 Z" fill="#2d3a92"/>
<path d="M788.3 649.8 Q948.0 652.2 1037.0 650.3 L1037.0 668.0 Q948.0 666.0 788.3 668.3 A9.3 9.3 0 0 1 788.3 649.8 Z" fill="#2d3a92"/>
<path d="M788.3 681.1 Q948.0 683.6 1037.0 681.8 L1037.0 699.4 Q948.0 697.5 788.3 699.8 A9.3 9.3 0 0 1 788.3 681.1 Z" fill="#2d3a92"/>
<path d="M775.9 712.4 Q941.8 715.1 1037.0 713.4 L1037.0 730.9 Q941.8 729.0 775.9 731.2 A9.4 9.4 0 0 1 775.9 712.4 Z" fill="#2d3a92"/>
<path d="M777.5 743.7 Q942.5 746.5 1037.0 744.9 L1037.0 762.3 Q942.5 760.6 777.5 762.6 A9.4 9.4 0 0 1 777.5 743.7 Z" fill="#2d3a92"/>
<path d="M779.5 775.0 Q943.5 777.9 1037.0 776.5 L1037.0 793.8 Q943.5 792.1 779.5 794.0 A9.5 9.5 0 0 1 779.5 775.0 Z" fill="#2d3a92"/>
<path d="M780.6 806.3 Q944.0 809.3 1037.0 808.1 L1037.0 825.2 Q944.0 823.6 780.6 825.5 A9.6 9.6 0 0 1 780.6 806.3 Z" fill="#2d3a92"/>
<path d="M754.1 837.7 Q930.8 840.7 1037.0 839.6 L1037.0 856.6 Q930.8 855.2 754.1 856.9 A9.6 9.6 0 0 1 754.1 837.7 Z" fill="#2d3a92"/>
<path d="M755.7 869.0 Q931.5 872.1 1037.0 871.2 L1037.0 888.1 Q931.5 886.7 755.7 888.3 A9.7 9.7 0 0 1 755.7 869.0 Z" fill="#2d3a92"/>
<path d="M757.7 900.3 Q932.5 903.5 1037.0 902.7 L1037.0 919.5 Q932.5 918.2 757.7 919.8 A9.7 9.7 0 0 1 757.7 900.3 Z" fill="#2d3a92"/>
<path d="M759.8 931.6 Q933.5 934.9 1037.0 934.3 L1037.0 951.0 Q933.5 949.8 759.8 951.2 A9.8 9.8 0 0 1 759.8 931.6 Z" fill="#2d3a92"/>
<path d="M730.9 962.9 Q919.0 966.2 1037.0 965.9 L1037.0 982.4 Q919.0 981.3 730.9 982.6 A9.8 9.8 0 0 1 730.9 962.9 Z" fill="#2d3a92"/>
<path d="M732.9 994.2 Q920.0 997.6 1037.0 997.4 L1037.0 1013.9 Q920.0 1012.9 732.9 1014.0 A9.9 9.9 0 0 1 732.9 994.2 Z" fill="#2d3a92"/>
<path d="M735.0 1025.5 Q921.0 1029.0 1037.0 1029.0 L1037.0 1045.3 Q921.0 1044.5 735.0 1045.5 A10.0 10.0 0 0 1 735.0 1025.5 Z" fill="#2d3a92"/>
<path d="M737.0 1056.8 Q922.0 1060.4 1037.0 1060.5 L1037.0 1076.8 Q922.0 1076.0 737.0 1076.9 A10.0 10.0 0 0 1 737.0 1056.8 Z" fill="#2d3a92"/>
<path d="M709.1 1088.2 Q908.0 1091.7 1037.0 1092.1 L1037.0 1108.2 Q908.0 1107.6 709.1 1108.3 A10.1 10.1 0 0 1 709.1 1088.2 Z" fill="#2d3a92"/>
<path d="M710.1 1119.5 Q908.5 1123.1 1037.0 1123.6 L1037.0 1139.7 Q908.5 1139.2 710.1 1139.7 A10.1 10.1 0 0 1 710.1 1119.5 Z" fill="#2d3a92"/>
<path d="M712.2 1150.8 Q909.5 1154.4 1037.0 1155.2 L1037.0 1171.1 Q909.5 1170.8 712.2 1171.2 A10.2 10.2 0 0 1 712.2 1150.8 Z" fill="#2d3a92"/>
<path d="M713.2 1182.1 Q910.0 1185.6 1037.0 1186.7 L1037.0 1202.6 Q910.0 1202.6 713.2 1202.6 A10.2 10.2 0 0 1 713.2 1182.1 Z" fill="#2d3a92"/>
<path d="M1020.0 116.1 L1037.5 116.1 L1037.5 103.2Z" fill="#fff" />
<path d="M1020.0 147.5 L1037.5 147.5 L1037.5 134.5Z" fill="#fff" />
<path d="M1020.0 178.9 L1037.5 178.9 L1037.5 165.8Z" fill="#fff" />
<path d="M1020.0 210.4 L1037.5 210.4 L1037.5 197.1Z" fill="#fff" />
<path d="M1020.0 241.8 L1037.5 241.8 L1037.5 228.4Z" fill="#fff" />
<path d="M1020.5 239.3 L1020.5 241.3" stroke="#222" stroke-width="1.6"/>
<path d="M1020.0 273.2 L1037.5 273.2 L1037.5 259.7Z" fill="#fff" />
<path d="M1020.5 269.2 L1020.5 272.7" stroke="#222" stroke-width="1.6"/>
<path d="M1020.0 304.6 L1037.5 304.6 L1037.5 291.0Z" fill="#fff" />
<path d="M1020.5 300.1 L1020.5 304.1" stroke="#222" stroke-width="1.6"/>
<path d="M1020.0 336.1 L1037.5 336.1 L1037.5 322.3Z" fill="#fff" />
<path d="M1020.5 330.6 L1020.5 335.6" stroke="#222" stroke-width="1.6"/>
<path d="M1020.0 367.5 L1037.5 367.5 L1037.5 353.7Z" fill="#fff" />
<path d="M1020.5 361.5 L1020.5 367.0" stroke="#222" stroke-width="1.6"/>
<path d="M1020.0 398.9 L1037.5 398.9 L1037.5 385.0Z" fill="#fff" />
<path d="M1020.5 391.9 L1020.5 398.4" stroke="#222" stroke-width="1.6"/>
<path d="M1020.0 430.3 L1037.5 430.3 L1037.5 416.3Z" fill="#fff" />
<path d="M1020.5 422.8 L1020.5 429.8" stroke="#222" stroke-width="1.6"/>
<path d="M1020.0 461.8 L1037.5 461.8 L1037.5 447.6Z" fill="#fff" />
<path d="M1020.5 453.3 L1020.5 461.3" stroke="#222" stroke-width="1.6"/>
<path d="M1020.0 493.2 L1037.5 493.2 L1037.5 478.9Z" fill="#fff" />
<path d="M1020.5 483.7 L1020.5 492.7" stroke="#222" stroke-width="1.6"/>
<path d="M1020.0 524.6 L1037.5 524.6 L1037.5 510.2Z" fill="#fff" />
<path d="M1020.5 514.6 L1020.5 524.1" stroke="#222" stroke-width="1.6"/>
<path d="M1020.0 556.1 L1037.5 556.1 L1037.5 541.5Z" fill="#fff" />
<path d="M1020.5 546.1 L1020.5 555.6" stroke="#222" stroke-width="1.6"/>
<path d="M1020.0 587.5 L1037.5 587.5 L1037.5 572.8Z" fill="#fff" />
<path d="M1020.5 577.0 L1020.5 587.0" stroke="#222" stroke-width="1.6"/>
<path d="M1020.0 618.9 L1037.5 618.9 L1037.5 604.2Z" fill="#fff" />
<path d="M1020.5 607.9 L1020.5 618.4" stroke="#222" stroke-width="1.6"/>
<path d="M1020.0 636.5 L1037.5 636.5 L1037.5 651.3Z" fill="#fff" />
<path d="M1020.5 637.0 L1020.5 648.5" stroke="#222" stroke-width="1.6"/>
<path d="M1020.0 667.8 L1037.5 667.8 L1037.5 682.6Z" fill="#fff" />
<path d="M1020.5 668.3 L1020.5 678.8" stroke="#222" stroke-width="1.6"/>
<path d="M1020.0 699.3 L1037.5 699.3 L1037.5 713.9Z" fill="#fff" />
<path d="M1020.5 699.8 L1020.5 710.8" stroke="#222" stroke-width="1.6"/>
<path d="M1020.0 730.7 L1037.5 730.7 L1037.5 745.2Z" fill="#fff" />
<path d="M1020.5 731.2 L1020.5 741.2" stroke="#222" stroke-width="1.6"/>
<path d="M1020.0 762.1 L1037.5 762.1 L1037.5 776.5Z" fill="#fff" />
<path d="M1020.5 762.6 L1020.5 771.6" stroke="#222" stroke-width="1.6"/>
<path d="M1020.0 793.5 L1037.5 793.5 L1037.5 807.8Z" fill="#fff" />
<path d="M1020.5 794.0 L1020.5 803.0" stroke="#222" stroke-width="1.6"/>
<path d="M1020.0 825.0 L1037.5 825.0 L1037.5 839.2Z" fill="#fff" />
<path d="M1020.5 825.5 L1020.5 833.5" stroke="#222" stroke-width="1.6"/>
<path d="M1020.0 856.4 L1037.5 856.4 L1037.5 870.5Z" fill="#fff" />
<path d="M1020.5 856.9 L1020.5 863.9" stroke="#222" stroke-width="1.6"/>
<path d="M1020.0 887.8 L1037.5 887.8 L1037.5 901.8Z" fill="#fff" />
<path d="M1020.5 888.3 L1020.5 894.3" stroke="#222" stroke-width="1.6"/>
<path d="M1020.0 919.3 L1037.5 919.3 L1037.5 933.1Z" fill="#fff" />
<path d="M1020.5 919.8 L1020.5 924.3" stroke="#222" stroke-width="1.6"/>
<path d="M1020.0 950.7 L1037.5 950.7 L1037.5 964.4Z" fill="#fff" />
<path d="M1020.5 951.2 L1020.5 954.2" stroke="#222" stroke-width="1.6"/>
<path d="M1020.0 982.1 L1037.5 982.1 L1037.5 995.7Z" fill="#fff" />
<path d="M1020.5 982.6 L1020.5 984.1" stroke="#222" stroke-width="1.6"/>
<path d="M1020.0 1013.5 L1037.5 1013.5 L1037.5 1027.0Z" fill="#fff" />
<path d="M1020.5 1014.0 L1020.5 1015.5" stroke="#222" stroke-width="1.6"/>
<path d="M1020.0 1045.0 L1037.5 1045.0 L1037.5 1058.3Z" fill="#fff" />
<path d="M1020.0 1076.4 L1037.5 1076.4 L1037.5 1089.7Z" fill="#fff" />
<path d="M1020.0 1107.8 L1037.5 1107.8 L1037.5 1121.0Z" fill="#fff" />
<path d="M1020.0 1139.2 L1037.5 1139.2 L1037.5 1152.3Z" fill="#fff" />
<path d="M1020.0 1170.7 L1037.5 1170.7 L1037.5 1183.6Z" fill="#fff" />
</g>
<path d="M1725.0 80.8 L1724.0 84.2 L1726.0 91.2 L1724.0 98.2 L1720.0 100.5 L1716.0 104.0 L1716.0 110.0 L1720.0 113.5 L1724.0 115.7 L1726.0 122.7 L1724.0 129.7 L1720.0 132.0 L1716.0 135.5 L1716.0 141.5 L1720.0 145.0 L1724.0 147.3 L1726.0 154.3 L1724.0 161.3 L1720.0 163.5 L1716.0 167.0 L1716.0 173.0 L1720.0 176.5 L1724.0 178.8 L1726.0 185.8 L1724.0 192.8 L1720.0 195.0 L1716.0 198.5 L1716.0 204.5 L1720.0 208.0 L1719.0 210.3 L1721.0 217.3 L1719.0 224.3 L1716.0 226.5 L1712.0 230.0 L1712.0 236.0 L1716.0 239.5 L1719.0 241.8 L1721.0 248.8 L1719.0 255.8 L1716.0 258.0 L1712.0 261.5 L1712.0 267.5 L1716.0 271.0 L1719.0 273.3 L1721.0 280.3 L1719.0 287.3 L1716.0 289.6 L1712.0 293.1 L1712.0 299.1 L1716.0 302.6 L1719.0 304.8 L1721.0 311.8 L1719.0 318.8 L1716.0 321.1 L1712.0 324.6 L1712.0 330.6 L1716.0 334.1 L1719.0 336.3 L1721.0 343.3 L1719.0 350.3 L1713.0 352.6 L1709.0 356.1 L1709.0 362.1 L1713.0 365.6 L1719.0 367.8 L1721.0 374.8 L1719.0 381.8 L1713.0 384.1 L1709.0 387.6 L1709.0 393.6 L1713.0 397.1 L1719.0 399.3 L1721.0 406.3 L1719.0 413.3 L1713.0 415.6 L1709.0 419.1 L1709.0 425.1 L1713.0 428.6 L1719.0 430.9 L1721.0 437.9 L1719.0 444.9 L1713.0 447.1 L1709.0 450.6 L1709.0 456.6 L1713.0 460.1 L1719.5 462.4 L1721.5 469.4 L1719.5 476.4 L1711.0 478.6 L1707.0 482.1 L1707.0 488.1 L1711.0 491.6 L1719.5 493.9 L1721.5 500.9 L1719.5 507.9 L1711.0 510.1 L1707.0 513.6 L1707.0 519.6 L1711.0 523.1 L1719.5 525.4 L1721.5 532.4 L1719.5 539.4 L1711.0 541.6 L1707.0 545.1 L1707.0 551.1 L1711.0 554.6 L1719.5 556.9 L1721.5 563.9 L1719.5 570.9 L1711.0 573.2 L1707.0 576.7 L1707.0 582.7 L1711.0 586.2 L1719.5 588.4 L1721.5 595.4 L1719.5 602.4 L1710.0 604.7 L1706.0 608.2 L1706.0 614.2 L1710.0 617.7 L1719.5 619.9 L1721.5 626.9 L1719.5 633.9 L1710.0 636.2 L1706.0 639.7 L1706.0 645.7 L1710.0 649.2 L1719.5 651.4 L1721.5 658.4 L1719.5 665.4 L1710.0 667.7 L1706.0 671.2 L1706.0 677.2 L1710.0 680.7 L1719.5 682.9 L1721.5 689.9 L1719.5 696.9 L1711.0 699.2 L1707.0 702.7 L1707.0 708.7 L1711.0 712.2 L1719.5 714.5 L1721.5 721.5 L1719.5 728.5 L1711.0 730.7 L1707.0 734.2 L1707.0 740.2 L1711.0 743.7 L1719.5 746.0 L1721.5 753.0 L1719.5 760.0 L1711.0 762.2 L1707.0 765.7 L1707.0 771.7 L1711.0 775.2 L1719.5 777.5 L1721.5 784.5 L1719.5 791.5 L1711.0 793.7 L1707.0 797.2 L1707.0 803.2 L1711.0 806.7 L1719.5 809.0 L1721.5 816.0 L1719.5 823.0 L1713.0 825.2 L1709.0 828.7 L1709.0 834.7 L1713.0 838.2 L1719.0 840.5 L1721.0 847.5 L1719.0 854.5 L1713.0 856.8 L1709.0 860.3 L1709.0 866.3 L1713.0 869.8 L1719.0 872.0 L1721.0 879.0 L1719.0 886.0 L1713.0 888.3 L1709.0 891.8 L1709.0 897.8 L1713.0 901.3 L1719.0 903.5 L1721.0 910.5 L1719.0 917.5 L1713.0 919.8 L1709.0 923.3 L1709.0 929.3 L1713.0 932.8 L1719.0 935.0 L1721.0 942.0 L1719.0 949.0 L1716.0 951.3 L1712.0 954.8 L1712.0 960.8 L1716.0 964.3 L1719.0 966.5 L1721.0 973.5 L1719.0 980.5 L1716.0 982.8 L1712.0 986.3 L1712.0 992.3 L1716.0 995.8 L1719.0 998.1 L1721.0 1005.1 L1719.0 1012.1 L1716.0 1014.3 L1712.0 1017.8 L1712.0 1023.8 L1716.0 1027.3 L1719.0 1029.6 L1721.0 1036.6 L1719.0 1043.6 L1716.0 1045.8 L1712.0 1049.3 L1712.0 1055.3 L1716.0 1058.8 L1719.0 1061.1 L1721.0 1068.1 L1719.0 1075.1 L1720.0 1077.3 L1716.0 1080.8 L1716.0 1086.8 L1720.0 1090.3 L1724.0 1092.6 L1726.0 1099.6 L1724.0 1106.6 L1720.0 1108.8 L1716.0 1112.3 L1716.0 1118.3 L1720.0 1121.8 L1724.0 1124.1 L1726.0 1131.1 L1724.0 1138.1 L1720.0 1140.4 L1716.0 1143.9 L1716.0 1149.9 L1720.0 1153.4 L1724.0 1155.6 L1726.0 1162.6 L1724.0 1169.6 L1720.0 1171.9 L1716.0 1175.4 L1716.0 1181.4 L1720.0 1184.9 L1724.0 1187.1 L1726.0 1194.1 L1724.0 1201.1 L1725.0 1202.8 L1830.0 1202.8 L1830.0 1209.9 L1830.0 1204.9 L1830.0 1183.4 L1838.0 1178.4 L1838.0 1178.4 L1830.0 1173.4 L1830.0 1151.9 L1838.0 1146.9 L1838.0 1146.9 L1830.0 1141.9 L1830.0 1120.3 L1838.0 1115.3 L1838.0 1115.3 L1830.0 1110.3 L1830.0 1088.8 L1838.0 1083.8 L1855.0 1083.8 L1855.0 1078.8 L1855.0 1057.3 L1855.0 1052.3 L1855.0 1052.3 L1855.0 1047.3 L1855.0 1025.8 L1855.0 1020.8 L1855.0 1020.8 L1855.0 1015.8 L1855.0 994.3 L1855.0 989.3 L1855.0 989.3 L1855.0 984.3 L1855.0 962.8 L1855.0 957.8 L1876.5 957.8 L1876.5 952.8 L1876.5 931.3 L1876.5 926.3 L1876.5 926.3 L1876.5 921.3 L1876.5 899.8 L1876.5 894.8 L1876.5 894.8 L1876.5 889.8 L1876.5 868.3 L1876.5 863.3 L1876.5 863.3 L1876.5 858.3 L1876.5 836.7 L1876.5 831.7 L1901.5 831.7 L1901.5 826.7 L1901.5 805.2 L1901.5 800.2 L1901.5 800.2 L1901.5 795.2 L1901.5 773.7 L1901.5 768.7 L1901.5 768.7 L1901.5 763.7 L1901.5 742.2 L1901.5 737.2 L1901.5 737.2 L1901.5 732.2 L1901.5 710.7 L1901.5 705.7 L1913.0 705.7 L1913.0 700.7 L1913.0 679.2 L1913.0 674.2 L1913.0 674.2 L1913.0 669.2 L1913.0 647.7 L1913.0 642.7 L1913.0 642.7 L1913.0 637.7 L1913.0 616.2 L1913.0 611.2 L1913.0 611.2 L1913.0 606.2 L1913.0 584.7 L1913.0 579.7 L1901.5 579.7 L1901.5 574.7 L1901.5 553.1 L1901.5 548.1 L1901.5 548.1 L1901.5 543.1 L1901.5 521.6 L1901.5 516.6 L1901.5 516.6 L1901.5 511.6 L1901.5 490.1 L1901.5 485.1 L1901.5 485.1 L1901.5 480.1 L1901.5 458.6 L1901.5 453.6 L1876.5 453.6 L1876.5 448.6 L1876.5 427.1 L1876.5 422.1 L1876.5 422.1 L1876.5 417.1 L1876.5 395.6 L1876.5 390.6 L1876.5 390.6 L1876.5 385.6 L1876.5 364.1 L1876.5 359.1 L1876.5 359.1 L1876.5 354.1 L1876.5 332.6 L1876.5 327.6 L1855.0 327.6 L1855.0 322.6 L1855.0 301.1 L1855.0 296.1 L1855.0 296.1 L1855.0 291.1 L1855.0 269.5 L1855.0 264.5 L1855.0 264.5 L1855.0 259.5 L1855.0 238.0 L1855.0 233.0 L1855.0 233.0 L1855.0 228.0 L1855.0 206.5 L1855.0 201.5 L1838.0 201.5 L1830.0 196.5 L1830.0 175.0 L1838.0 170.0 L1838.0 170.0 L1830.0 165.0 L1830.0 143.5 L1838.0 138.5 L1838.0 138.5 L1830.0 133.5 L1830.0 112.0 L1838.0 107.0 L1838.0 107.0 L1830.0 102.0 L1830.0 80.5 L1830.0 80.8Z" fill="#a6c2f8" />
<path d="M1734.0 82.7 L1827.0 82.7 Q1834.0 91.2 1827.0 99.7 L1734.0 99.7 Z" fill="#8fb0f5" opacity="0.55"/>
<path d="M1739.0 91.2 C1758.6 89.9 1781.0 86.4 1793.0 86.8 Q1796.5 91.2 1793.0 95.6 C1781.0 96.1 1758.6 92.6 1739.0 91.2 Z" fill="#8c001a"/>
<path d="M1816.0 84.7 Q1829.5 84.2 1827.5 91.2 Q1828.5 97.7 1818.5 97.7 L1819.5 95.7 Q1823.5 95.2 1822.5 91.2 Q1822.5 87.2 1816.0 84.7 Z" fill="#8c001a"/>
<path d="M1734.0 114.2 L1827.0 114.2 Q1834.0 122.7 1827.0 131.2 L1734.0 131.2 Z" fill="#8fb0f5" opacity="0.55"/>
<path d="M1739.0 122.7 C1758.6 121.4 1781.0 117.9 1793.0 118.3 Q1796.5 122.7 1793.0 127.1 C1781.0 127.6 1758.6 124.1 1739.0 122.7 Z" fill="#8c001a"/>
<path d="M1816.0 116.2 Q1829.5 115.7 1827.5 122.7 Q1828.5 129.2 1818.5 129.2 L1819.5 127.2 Q1823.5 126.7 1822.5 122.7 Q1822.5 118.7 1816.0 116.2 Z" fill="#8c001a"/>
<path d="M1734.0 145.8 L1827.0 145.8 Q1834.0 154.3 1827.0 162.8 L1734.0 162.8 Z" fill="#8fb0f5" opacity="0.55"/>
<path d="M1739.0 154.3 C1758.6 152.9 1781.0 149.4 1793.0 149.9 Q1796.5 154.3 1793.0 158.7 C1781.0 159.1 1758.6 155.6 1739.0 154.3 Z" fill="#8c001a"/>
<path d="M1816.0 147.8 Q1829.5 147.3 1827.5 154.3 Q1828.5 160.8 1818.5 160.8 L1819.5 158.8 Q1823.5 158.3 1822.5 154.3 Q1822.5 150.3 1816.0 147.8 Z" fill="#8c001a"/>
<path d="M1734.0 177.3 L1827.0 177.3 Q1834.0 185.8 1827.0 194.3 L1734.0 194.3 Z" fill="#8fb0f5" opacity="0.55"/>
<path d="M1739.0 185.8 C1758.6 184.4 1781.0 180.9 1793.0 181.4 Q1796.5 185.8 1793.0 190.2 C1781.0 190.6 1758.6 187.1 1739.0 185.8 Z" fill="#8c001a"/>
<path d="M1816.0 179.3 Q1829.5 178.8 1827.5 185.8 Q1828.5 192.3 1818.5 192.3 L1819.5 190.3 Q1823.5 189.8 1822.5 185.8 Q1822.5 181.8 1816.0 179.3 Z" fill="#8c001a"/>
<path d="M1729.0 208.8 L1852.0 208.8 Q1859.0 217.3 1852.0 225.8 L1729.0 225.8 Z" fill="#8fb0f5" opacity="0.55"/>
<path d="M1725.0 217.3 C1746.0 216.0 1770.0 212.4 1783.0 212.9 Q1786.5 217.3 1783.0 221.7 C1770.0 222.1 1746.0 218.6 1725.0 217.3 Z" fill="#8c001a"/>
<path d="M1800.0 217.3 C1817.8 216.0 1838.2 212.4 1849.0 212.9 Q1852.5 217.3 1849.0 221.7 C1838.2 222.1 1817.8 218.6 1800.0 217.3 Z" fill="#8c001a"/>
<path d="M1729.0 240.3 L1852.0 240.3 Q1859.0 248.8 1852.0 257.3 L1729.0 257.3 Z" fill="#8fb0f5" opacity="0.55"/>
<path d="M1725.0 248.8 C1746.0 247.5 1770.0 243.9 1783.0 244.4 Q1786.5 248.8 1783.0 253.2 C1770.0 253.6 1746.0 250.1 1725.0 248.8 Z" fill="#8c001a"/>
<path d="M1800.0 248.8 C1817.8 247.5 1838.2 243.9 1849.0 244.4 Q1852.5 248.8 1849.0 253.2 C1838.2 253.6 1817.8 250.1 1800.0 248.8 Z" fill="#8c001a"/>
<path d="M1729.0 271.8 L1852.0 271.8 Q1859.0 280.3 1852.0 288.8 L1729.0 288.8 Z" fill="#8fb0f5" opacity="0.55"/>
<path d="M1725.0 280.3 C1746.0 279.0 1770.0 275.5 1783.0 275.9 Q1786.5 280.3 1783.0 284.7 C1770.0 285.1 1746.0 281.6 1725.0 280.3 Z" fill="#8c001a"/>
<path d="M1800.0 280.3 C1817.8 279.0 1838.2 275.5 1849.0 275.9 Q1852.5 280.3 1849.0 284.7 C1838.2 285.1 1817.8 281.6 1800.0 280.3 Z" fill="#8c001a"/>
<path d="M1729.0 303.3 L1852.0 303.3 Q1859.0 311.8 1852.0 320.3 L1729.0 320.3 Z" fill="#8fb0f5" opacity="0.55"/>
<path d="M1725.0 311.8 C1746.0 310.5 1770.0 307.0 1783.0 307.4 Q1786.5 311.8 1783.0 316.2 C1770.0 316.7 1746.0 313.1 1725.0 311.8 Z" fill="#8c001a"/>
<path d="M1800.0 311.8 C1817.8 310.5 1838.2 307.0 1849.0 307.4 Q1852.5 311.8 1849.0 316.2 C1838.2 316.7 1817.8 313.1 1800.0 311.8 Z" fill="#8c001a"/>
<ellipse cx="1876.5" cy="343.3" rx="6" ry="12.3" fill="#a6c2f8"/>
<path d="M1729.0 334.8 L1873.5 334.8 Q1880.5 343.3 1873.5 351.8 L1729.0 351.8 Z" fill="#8fb0f5" opacity="0.55"/>
<path d="M1729.5 343.3 C1748.0 342.0 1769.2 338.5 1780.5 338.9 Q1784.0 343.3 1780.5 347.7 C1769.2 348.2 1748.0 344.6 1729.5 343.3 Z" fill="#8c001a"/>
<path d="M1797.0 343.3 C1813.5 342.0 1832.2 338.5 1842.0 338.9 Q1845.5 343.3 1842.0 347.7 C1832.2 348.2 1813.5 344.6 1797.0 343.3 Z" fill="#8c001a"/>
<path d="M1868.0 340.3 L1871.0 339.8 L1871.0 346.8 L1868.0 346.3Z" fill="#8c001a" />
<ellipse cx="1876.5" cy="374.8" rx="6" ry="12.3" fill="#a6c2f8"/>
<path d="M1729.0 366.3 L1873.5 366.3 Q1880.5 374.8 1873.5 383.3 L1729.0 383.3 Z" fill="#8fb0f5" opacity="0.55"/>
<path d="M1729.5 374.8 C1748.0 373.5 1769.2 370.0 1780.5 370.4 Q1784.0 374.8 1780.5 379.2 C1769.2 379.7 1748.0 376.2 1729.5 374.8 Z" fill="#8c001a"/>
<path d="M1797.0 374.8 C1813.5 373.5 1832.2 370.0 1842.0 370.4 Q1845.5 374.8 1842.0 379.2 C1832.2 379.7 1813.5 376.2 1797.0 374.8 Z" fill="#8c001a"/>
<path d="M1868.0 371.8 L1871.0 371.3 L1871.0 378.3 L1868.0 377.8Z" fill="#8c001a" />
<ellipse cx="1876.5" cy="406.3" rx="6" ry="12.3" fill="#a6c2f8"/>
<path d="M1729.0 397.8 L1873.5 397.8 Q1880.5 406.3 1873.5 414.8 L1729.0 414.8 Z" fill="#8fb0f5" opacity="0.55"/>
<path d="M1729.5 406.3 C1748.0 405.0 1769.2 401.5 1780.5 401.9 Q1784.0 406.3 1780.5 410.7 C1769.2 411.2 1748.0 407.7 1729.5 406.3 Z" fill="#8c001a"/>
<path d="M1797.0 406.3 C1813.5 405.0 1832.2 401.5 1842.0 401.9 Q1845.5 406.3 1842.0 410.7 C1832.2 411.2 1813.5 407.7 1797.0 406.3 Z" fill="#8c001a"/>
<path d="M1868.0 403.3 L1871.0 402.8 L1871.0 409.8 L1868.0 409.3Z" fill="#8c001a" />
<ellipse cx="1876.5" cy="437.9" rx="6" ry="12.3" fill="#a6c2f8"/>
<path d="M1729.0 429.4 L1873.5 429.4 Q1880.5 437.9 1873.5 446.4 L1729.0 446.4 Z" fill="#8fb0f5" opacity="0.55"/>
<path d="M1729.5 437.9 C1748.0 436.5 1769.2 433.0 1780.5 433.5 Q1784.0 437.9 1780.5 442.3 C1769.2 442.7 1748.0 439.2 1729.5 437.9 Z" fill="#8c001a"/>
<path d="M1797.0 437.9 C1813.5 436.5 1832.2 433.0 1842.0 433.5 Q1845.5 437.9 1842.0 442.3 C1832.2 442.7 1813.5 439.2 1797.0 437.9 Z" fill="#8c001a"/>
<path d="M1868.0 434.9 L1871.0 434.4 L1871.0 441.4 L1868.0 440.9Z" fill="#8c001a" />
<ellipse cx="1901.5" cy="469.4" rx="6" ry="12.3" fill="#a6c2f8"/>
<path d="M1729.5 460.9 L1898.5 460.9 Q1905.5 469.4 1898.5 477.9 L1729.5 477.9 Z" fill="#8fb0f5" opacity="0.55"/>
<path d="M1729.5 469.4 C1748.9 468.0 1771.1 464.5 1783.0 465.0 Q1786.5 469.4 1783.0 473.8 C1771.1 474.2 1748.9 470.7 1729.5 469.4 Z" fill="#8c001a"/>
<path d="M1801.0 469.4 C1817.1 468.0 1835.5 464.5 1845.0 465.0 Q1848.5 469.4 1845.0 473.8 C1835.5 474.2 1817.1 470.7 1801.0 469.4 Z" fill="#8c001a"/>
<path d="M1863.0 469.4 C1873.2 468.3 1884.8 465.4 1890.0 465.8 Q1893.5 469.4 1890.0 473.0 C1884.8 473.3 1873.2 470.4 1863.0 469.4 Z" fill="#8c001a"/>
<ellipse cx="1901.5" cy="500.9" rx="6" ry="12.3" fill="#a6c2f8"/>
<path d="M1729.5 492.4 L1898.5 492.4 Q1905.5 500.9 1898.5 509.4 L1729.5 509.4 Z" fill="#8fb0f5" opacity="0.55"/>
<path d="M1729.5 500.9 C1748.9 499.6 1771.1 496.0 1783.0 496.5 Q1786.5 500.9 1783.0 505.3 C1771.1 505.7 1748.9 502.2 1729.5 500.9 Z" fill="#8c001a"/>
<path d="M1801.0 500.9 C1817.1 499.6 1835.5 496.0 1845.0 496.5 Q1848.5 500.9 1845.0 505.3 C1835.5 505.7 1817.1 502.2 1801.0 500.9 Z" fill="#8c001a"/>
<path d="M1863.0 500.9 C1873.2 499.8 1884.8 496.9 1890.0 497.3 Q1893.5 500.9 1890.0 504.5 C1884.8 504.8 1873.2 502.0 1863.0 500.9 Z" fill="#8c001a"/>
<ellipse cx="1901.5" cy="532.4" rx="6" ry="12.3" fill="#a6c2f8"/>
<path d="M1729.5 523.9 L1898.5 523.9 Q1905.5 532.4 1898.5 540.9 L1729.5 540.9 Z" fill="#8fb0f5" opacity="0.55"/>
<path d="M1729.5 532.4 C1748.9 531.1 1771.1 527.5 1783.0 528.0 Q1786.5 532.4 1783.0 536.8 C1771.1 537.2 1748.9 533.7 1729.5 532.4 Z" fill="#8c001a"/>
<path d="M1801.0 532.4 C1817.1 531.1 1835.5 527.5 1845.0 528.0 Q1848.5 532.4 1845.0 536.8 C1835.5 537.2 1817.1 533.7 1801.0 532.4 Z" fill="#8c001a"/>
<path d="M1863.0 532.4 C1873.2 531.3 1884.8 528.4 1890.0 528.8 Q1893.5 532.4 1890.0 536.0 C1884.8 536.3 1873.2 533.5 1863.0 532.4 Z" fill="#8c001a"/>
<ellipse cx="1901.5" cy="563.9" rx="6" ry="12.3" fill="#a6c2f8"/>
<path d="M1729.5 555.4 L1898.5 555.4 Q1905.5 563.9 1898.5 572.4 L1729.5 572.4 Z" fill="#8fb0f5" opacity="0.55"/>
<path d="M1729.5 563.9 C1748.9 562.6 1771.1 559.1 1783.0 559.5 Q1786.5 563.9 1783.0 568.3 C1771.1 568.7 1748.9 565.2 1729.5 563.9 Z" fill="#8c001a"/>
<path d="M1801.0 563.9 C1817.1 562.6 1835.5 559.1 1845.0 559.5 Q1848.5 563.9 1845.0 568.3 C1835.5 568.7 1817.1 565.2 1801.0 563.9 Z" fill="#8c001a"/>
<path d="M1863.0 563.9 C1873.2 562.8 1884.8 559.9 1890.0 560.3 Q1893.5 563.9 1890.0 567.5 C1884.8 567.9 1873.2 565.0 1863.0 563.9 Z" fill="#8c001a"/>
<ellipse cx="1913.0" cy="595.4" rx="6" ry="12.3" fill="#a6c2f8"/>
<path d="M1729.5 586.9 L1910.0 586.9 Q1917.0 595.4 1910.0 603.9 L1729.5 603.9 Z" fill="#8fb0f5" opacity="0.55"/>
<path d="M1735.0 595.4 C1753.4 594.1 1774.4 590.6 1785.5 591.0 Q1789.0 595.4 1785.5 599.8 C1774.4 600.3 1753.4 596.7 1735.0 595.4 Z" fill="#8c001a"/>
<path d="M1800.0 595.4 C1817.5 594.1 1837.5 590.6 1848.0 591.0 Q1851.5 595.4 1848.0 599.8 C1837.5 600.3 1817.5 596.7 1800.0 595.4 Z" fill="#8c001a"/>
<path d="M1862.5 595.4 C1877.4 594.3 1894.4 591.5 1903.0 591.8 Q1906.5 595.4 1903.0 599.0 C1894.4 599.4 1877.4 596.5 1862.5 595.4 Z" fill="#8c001a"/>
<ellipse cx="1913.0" cy="626.9" rx="6" ry="12.3" fill="#a6c2f8"/>
<path d="M1729.5 618.4 L1910.0 618.4 Q1917.0 626.9 1910.0 635.4 L1729.5 635.4 Z" fill="#8fb0f5" opacity="0.55"/>
<path d="M1735.0 626.9 C1753.4 625.6 1774.4 622.1 1785.5 622.5 Q1789.0 626.9 1785.5 631.3 C1774.4 631.8 1753.4 628.2 1735.0 626.9 Z" fill="#8c001a"/>
<path d="M1800.0 626.9 C1817.5 625.6 1837.5 622.1 1848.0 622.5 Q1851.5 626.9 1848.0 631.3 C1837.5 631.8 1817.5 628.2 1800.0 626.9 Z" fill="#8c001a"/>
<path d="M1862.5 626.9 C1877.4 625.8 1894.4 623.0 1903.0 623.3 Q1906.5 626.9 1903.0 630.5 C1894.4 630.9 1877.4 628.0 1862.5 626.9 Z" fill="#8c001a"/>
<ellipse cx="1913.0" cy="658.4" rx="6" ry="12.3" fill="#a6c2f8"/>
<path d="M1729.5 649.9 L1910.0 649.9 Q1917.0 658.4 1910.0 666.9 L1729.5 666.9 Z" fill="#8fb0f5" opacity="0.55"/>
<path d="M1735.0 658.4 C1753.4 657.1 1774.4 653.6 1785.5 654.0 Q1789.0 658.4 1785.5 662.8 C1774.4 663.3 1753.4 659.8 1735.0 658.4 Z" fill="#8c001a"/>
<path d="M1800.0 658.4 C1817.5 657.1 1837.5 653.6 1848.0 654.0 Q1851.5 658.4 1848.0 662.8 C1837.5 663.3 1817.5 659.8 1800.0 658.4 Z" fill="#8c001a"/>
<path d="M1862.5 658.4 C1877.4 657.4 1894.4 654.5 1903.0 654.8 Q1906.5 658.4 1903.0 662.0 C1894.4 662.4 1877.4 659.5 1862.5 658.4 Z" fill="#8c001a"/>
<ellipse cx="1913.0" cy="689.9" rx="6" ry="12.3" fill="#a6c2f8"/>
<path d="M1729.5 681.4 L1910.0 681.4 Q1917.0 689.9 1910.0 698.4 L1729.5 698.4 Z" fill="#8fb0f5" opacity="0.55"/>
<path d="M1735.0 689.9 C1753.4 688.6 1774.4 685.1 1785.5 685.5 Q1789.0 689.9 1785.5 694.3 C1774.4 694.8 1753.4 691.3 1735.0 689.9 Z" fill="#8c001a"/>
<path d="M1800.0 689.9 C1817.5 688.6 1837.5 685.1 1848.0 685.5 Q1851.5 689.9 1848.0 694.3 C1837.5 694.8 1817.5 691.3 1800.0 689.9 Z" fill="#8c001a"/>
<path d="M1862.5 689.9 C1877.4 688.9 1894.4 686.0 1903.0 686.3 Q1906.5 689.9 1903.0 693.5 C1894.4 693.9 1877.4 691.0 1862.5 689.9 Z" fill="#8c001a"/>
<ellipse cx="1901.5" cy="721.5" rx="6" ry="12.3" fill="#a6c2f8"/>
<path d="M1729.5 713.0 L1898.5 713.0 Q1905.5 721.5 1898.5 730.0 L1729.5 730.0 Z" fill="#8fb0f5" opacity="0.55"/>
<path d="M1729.5 721.5 C1748.9 720.1 1771.1 716.6 1783.0 717.1 Q1786.5 721.5 1783.0 725.9 C1771.1 726.3 1748.9 722.8 1729.5 721.5 Z" fill="#8c001a"/>
<path d="M1801.0 721.5 C1817.1 720.1 1835.5 716.6 1845.0 717.1 Q1848.5 721.5 1845.0 725.9 C1835.5 726.3 1817.1 722.8 1801.0 721.5 Z" fill="#8c001a"/>
<path d="M1863.0 721.5 C1873.2 720.4 1884.8 717.5 1890.0 717.9 Q1893.5 721.5 1890.0 725.1 C1884.8 725.4 1873.2 722.5 1863.0 721.5 Z" fill="#8c001a"/>
<ellipse cx="1901.5" cy="753.0" rx="6" ry="12.3" fill="#a6c2f8"/>
<path d="M1729.5 744.5 L1898.5 744.5 Q1905.5 753.0 1898.5 761.5 L1729.5 761.5 Z" fill="#8fb0f5" opacity="0.55"/>
<path d="M1729.5 753.0 C1748.9 751.6 1771.1 748.1 1783.0 748.6 Q1786.5 753.0 1783.0 757.4 C1771.1 757.8 1748.9 754.3 1729.5 753.0 Z" fill="#8c001a"/>
<path d="M1801.0 753.0 C1817.1 751.6 1835.5 748.1 1845.0 748.6 Q1848.5 753.0 1845.0 757.4 C1835.5 757.8 1817.1 754.3 1801.0 753.0 Z" fill="#8c001a"/>
<path d="M1863.0 753.0 C1873.2 751.9 1884.8 749.0 1890.0 749.4 Q1893.5 753.0 1890.0 756.6 C1884.8 756.9 1873.2 754.0 1863.0 753.0 Z" fill="#8c001a"/>
<ellipse cx="1901.5" cy="784.5" rx="6" ry="12.3" fill="#a6c2f8"/>
<path d="M1729.5 776.0 L1898.5 776.0 Q1905.5 784.5 1898.5 793.0 L1729.5 793.0 Z" fill="#8fb0f5" opacity="0.55"/>
<path d="M1729.5 784.5 C1748.9 783.2 1771.1 779.6 1783.0 780.1 Q1786.5 784.5 1783.0 788.9 C1771.1 789.3 1748.9 785.8 1729.5 784.5 Z" fill="#8c001a"/>
<path d="M1801.0 784.5 C1817.1 783.2 1835.5 779.6 1845.0 780.1 Q1848.5 784.5 1845.0 788.9 C1835.5 789.3 1817.1 785.8 1801.0 784.5 Z" fill="#8c001a"/>
<path d="M1863.0 784.5 C1873.2 783.4 1884.8 780.5 1890.0 780.9 Q1893.5 784.5 1890.0 788.1 C1884.8 788.4 1873.2 785.6 1863.0 784.5 Z" fill="#8c001a"/>
<ellipse cx="1901.5" cy="816.0" rx="6" ry="12.3" fill="#a6c2f8"/>
<path d="M1729.5 807.5 L1898.5 807.5 Q1905.5 816.0 1898.5 824.5 L1729.5 824.5 Z" fill="#8fb0f5" opacity="0.55"/>
<path d="M1729.5 816.0 C1748.9 814.7 1771.1 811.2 1783.0 811.6 Q1786.5 816.0 1783.0 820.4 C1771.1 820.8 1748.9 817.3 1729.5 816.0 Z" fill="#8c001a"/>
<path d="M1801.0 816.0 C1817.1 814.7 1835.5 811.2 1845.0 811.6 Q1848.5 816.0 1845.0 820.4 C1835.5 820.8 1817.1 817.3 1801.0 816.0 Z" fill="#8c001a"/>
<path d="M1863.0 816.0 C1873.2 814.9 1884.8 812.0 1890.0 812.4 Q1893.5 816.0 1890.0 819.6 C1884.8 820.0 1873.2 817.1 1863.0 816.0 Z" fill="#8c001a"/>
<ellipse cx="1876.5" cy="847.5" rx="6" ry="12.3" fill="#a6c2f8"/>
<path d="M1729.0 839.0 L1873.5 839.0 Q1880.5 847.5 1873.5 856.0 L1729.0 856.0 Z" fill="#8fb0f5" opacity="0.55"/>
<path d="M1729.5 847.5 C1748.0 846.2 1769.2 842.7 1780.5 843.1 Q1784.0 847.5 1780.5 851.9 C1769.2 852.3 1748.0 848.8 1729.5 847.5 Z" fill="#8c001a"/>
<path d="M1797.0 847.5 C1813.5 846.2 1832.2 842.7 1842.0 843.1 Q1845.5 847.5 1842.0 851.9 C1832.2 852.3 1813.5 848.8 1797.0 847.5 Z" fill="#8c001a"/>
<path d="M1868.0 844.5 L1871.0 844.0 L1871.0 851.0 L1868.0 850.5Z" fill="#8c001a" />
<ellipse cx="1876.5" cy="879.0" rx="6" ry="12.3" fill="#a6c2f8"/>
<path d="M1729.0 870.5 L1873.5 870.5 Q1880.5 879.0 1873.5 887.5 L1729.0 887.5 Z" fill="#8fb0f5" opacity="0.55"/>
<path d="M1729.5 879.0 C1748.0 877.7 1769.2 874.2 1780.5 874.6 Q1784.0 879.0 1780.5 883.4 C1769.2 883.9 1748.0 880.3 1729.5 879.0 Z" fill="#8c001a"/>
<path d="M1797.0 879.0 C1813.5 877.7 1832.2 874.2 1842.0 874.6 Q1845.5 879.0 1842.0 883.4 C1832.2 883.9 1813.5 880.3 1797.0 879.0 Z" fill="#8c001a"/>
<path d="M1868.0 876.0 L1871.0 875.5 L1871.0 882.5 L1868.0 882.0Z" fill="#8c001a" />
<ellipse cx="1876.5" cy="910.5" rx="6" ry="12.3" fill="#a6c2f8"/>
<path d="M1729.0 902.0 L1873.5 902.0 Q1880.5 910.5 1873.5 919.0 L1729.0 919.0 Z" fill="#8fb0f5" opacity="0.55"/>
<path d="M1729.5 910.5 C1748.0 909.2 1769.2 905.7 1780.5 906.1 Q1784.0 910.5 1780.5 914.9 C1769.2 915.4 1748.0 911.8 1729.5 910.5 Z" fill="#8c001a"/>
<path d="M1797.0 910.5 C1813.5 909.2 1832.2 905.7 1842.0 906.1 Q1845.5 910.5 1842.0 914.9 C1832.2 915.4 1813.5 911.8 1797.0 910.5 Z" fill="#8c001a"/>
<path d="M1868.0 907.5 L1871.0 907.0 L1871.0 914.0 L1868.0 913.5Z" fill="#8c001a" />
<ellipse cx="1876.5" cy="942.0" rx="6" ry="12.3" fill="#a6c2f8"/>
<path d="M1729.0 933.5 L1873.5 933.5 Q1880.5 942.0 1873.5 950.5 L1729.0 950.5 Z" fill="#8fb0f5" opacity="0.55"/>
<path d="M1729.5 942.0 C1748.0 940.7 1769.2 937.2 1780.5 937.6 Q1784.0 942.0 1780.5 946.4 C1769.2 946.9 1748.0 943.4 1729.5 942.0 Z" fill="#8c001a"/>
<path d="M1797.0 942.0 C1813.5 940.7 1832.2 937.2 1842.0 937.6 Q1845.5 942.0 1842.0 946.4 C1832.2 946.9 1813.5 943.4 1797.0 942.0 Z" fill="#8c001a"/>
<path d="M1868.0 939.0 L1871.0 938.5 L1871.0 945.5 L1868.0 945.0Z" fill="#8c001a" />
<path d="M1729.0 965.0 L1852.0 965.0 Q1859.0 973.5 1852.0 982.0 L1729.0 982.0 Z" fill="#8fb0f5" opacity="0.55"/>
<path d="M1725.0 973.5 C1746.0 972.2 1770.0 968.7 1783.0 969.1 Q1786.5 973.5 1783.0 977.9 C1770.0 978.4 1746.0 974.9 1725.0 973.5 Z" fill="#8c001a"/>
<path d="M1800.0 973.5 C1817.8 972.2 1838.2 968.7 1849.0 969.1 Q1852.5 973.5 1849.0 977.9 C1838.2 978.4 1817.8 974.9 1800.0 973.5 Z" fill="#8c001a"/>
<path d="M1729.0 996.6 L1852.0 996.6 Q1859.0 1005.1 1852.0 1013.6 L1729.0 1013.6 Z" fill="#8fb0f5" opacity="0.55"/>
<path d="M1725.0 1005.1 C1746.0 1003.7 1770.0 1000.2 1783.0 1000.7 Q1786.5 1005.1 1783.0 1009.5 C1770.0 1009.9 1746.0 1006.4 1725.0 1005.1 Z" fill="#8c001a"/>
<path d="M1800.0 1005.1 C1817.8 1003.7 1838.2 1000.2 1849.0 1000.7 Q1852.5 1005.1 1849.0 1009.5 C1838.2 1009.9 1817.8 1006.4 1800.0 1005.1 Z" fill="#8c001a"/>
<path d="M1729.0 1028.1 L1852.0 1028.1 Q1859.0 1036.6 1852.0 1045.1 L1729.0 1045.1 Z" fill="#8fb0f5" opacity="0.55"/>
<path d="M1725.0 1036.6 C1746.0 1035.2 1770.0 1031.7 1783.0 1032.2 Q1786.5 1036.6 1783.0 1041.0 C1770.0 1041.4 1746.0 1037.9 1725.0 1036.6 Z" fill="#8c001a"/>
<path d="M1800.0 1036.6 C1817.8 1035.2 1838.2 1031.7 1849.0 1032.2 Q1852.5 1036.6 1849.0 1041.0 C1838.2 1041.4 1817.8 1037.9 1800.0 1036.6 Z" fill="#8c001a"/>
<path d="M1729.0 1059.6 L1852.0 1059.6 Q1859.0 1068.1 1852.0 1076.6 L1729.0 1076.6 Z" fill="#8fb0f5" opacity="0.55"/>
<path d="M1725.0 1068.1 C1746.0 1066.8 1770.0 1063.2 1783.0 1063.7 Q1786.5 1068.1 1783.0 1072.5 C1770.0 1072.9 1746.0 1069.4 1725.0 1068.1 Z" fill="#8c001a"/>
<path d="M1800.0 1068.1 C1817.8 1066.8 1838.2 1063.2 1849.0 1063.7 Q1852.5 1068.1 1849.0 1072.5 C1838.2 1072.9 1817.8 1069.4 1800.0 1068.1 Z" fill="#8c001a"/>
<path d="M1734.0 1091.1 L1827.0 1091.1 Q1834.0 1099.6 1827.0 1108.1 L1734.0 1108.1 Z" fill="#8fb0f5" opacity="0.55"/>
<path d="M1739.0 1099.6 C1758.6 1098.3 1781.0 1094.8 1793.0 1095.2 Q1796.5 1099.6 1793.0 1104.0 C1781.0 1104.4 1758.6 1100.9 1739.0 1099.6 Z" fill="#8c001a"/>
<path d="M1816.0 1093.1 Q1829.5 1092.6 1827.5 1099.6 Q1828.5 1106.1 1818.5 1106.1 L1819.5 1104.1 Q1823.5 1103.6 1822.5 1099.6 Q1822.5 1095.6 1816.0 1093.1 Z" fill="#8c001a"/>
<path d="M1734.0 1122.6 L1827.0 1122.6 Q1834.0 1131.1 1827.0 1139.6 L1734.0 1139.6 Z" fill="#8fb0f5" opacity="0.55"/>
<path d="M1739.0 1131.1 C1758.6 1129.8 1781.0 1126.3 1793.0 1126.7 Q1796.5 1131.1 1793.0 1135.5 C1781.0 1135.9 1758.6 1132.4 1739.0 1131.1 Z" fill="#8c001a"/>
<path d="M1816.0 1124.6 Q1829.5 1124.1 1827.5 1131.1 Q1828.5 1137.6 1818.5 1137.6 L1819.5 1135.6 Q1823.5 1135.1 1822.5 1131.1 Q1822.5 1127.1 1816.0 1124.6 Z" fill="#8c001a"/>
<path d="M1734.0 1154.1 L1827.0 1154.1 Q1834.0 1162.6 1827.0 1171.1 L1734.0 1171.1 Z" fill="#8fb0f5" opacity="0.55"/>
<path d="M1739.0 1162.6 C1758.6 1161.3 1781.0 1157.8 1793.0 1158.2 Q1796.5 1162.6 1793.0 1167.0 C1781.0 1167.5 1758.6 1163.9 1739.0 1162.6 Z" fill="#8c001a"/>
<path d="M1816.0 1156.1 Q1829.5 1155.6 1827.5 1162.6 Q1828.5 1169.1 1818.5 1169.1 L1819.5 1167.1 Q1823.5 1166.6 1822.5 1162.6 Q1822.5 1158.6 1816.0 1156.1 Z" fill="#8c001a"/>
<path d="M1734.0 1185.6 L1827.0 1185.6 Q1834.0 1194.1 1827.0 1202.6 L1734.0 1202.6 Z" fill="#8fb0f5" opacity="0.55"/>
<path d="M1739.0 1194.1 C1758.6 1192.8 1781.0 1189.3 1793.0 1189.7 Q1796.5 1194.1 1793.0 1198.5 C1781.0 1199.0 1758.6 1195.4 1739.0 1194.1 Z" fill="#8c001a"/>
<path d="M1816.0 1187.6 Q1829.5 1187.1 1827.5 1194.1 Q1828.5 1200.6 1818.5 1200.6 L1819.5 1198.6 Q1823.5 1198.1 1822.5 1194.1 Q1822.5 1190.1 1816.0 1187.6 Z" fill="#8c001a"/>
<ellipse cx="1839.0" cy="107.0" rx="7" ry="8.3" fill="#a6c2f8"/>
<path d="M1728.0 102.5 L1828.0 102.5 L1828.0 111.5 L1728.0 111.5 Z" fill="#c3d5fb" opacity="0.7"/>
<path d="M1757.0 107.5 C1744.4 106.4 1730.0 103.5 1723.0 103.9 Q1719.5 107.5 1723.0 111.1 C1730.0 111.5 1744.4 108.6 1757.0 107.5 Z" fill="#33000a"/>
<ellipse cx="1726.0" cy="107.5" rx="4" ry="3.1" fill="#7a0a18"/>
<path d="M1787.5 107.5 Q1787.5 103.9 1792.5 103.7 L1832.0 103.2 Q1836.0 103.2 1836.0 107.5 Q1836.0 111.7 1832.0 111.7 L1792.5 111.3 Q1787.5 111.1 1787.5 107.5 Z" fill="#33000a"/>
<path d="M1744.0 99.5 Q1714.0 99.5 1717.0 107.0 Q1714.0 114.5 1744.0 114.5" fill="none" stroke="#bcd0fa" stroke-width="3"/>
<ellipse cx="1839.0" cy="138.5" rx="7" ry="8.3" fill="#a6c2f8"/>
<path d="M1728.0 134.0 L1828.0 134.0 L1828.0 143.0 L1728.0 143.0 Z" fill="#c3d5fb" opacity="0.7"/>
<path d="M1757.0 139.0 C1744.4 138.0 1730.0 135.2 1723.0 135.5 Q1719.5 139.0 1723.0 142.5 C1730.0 142.8 1744.4 140.0 1757.0 139.0 Z" fill="#33000a"/>
<ellipse cx="1726.0" cy="139.0" rx="4" ry="3.0" fill="#7a0a18"/>
<path d="M1787.5 139.0 Q1787.5 135.6 1792.5 135.3 L1832.0 134.9 Q1836.0 134.9 1836.0 139.0 Q1836.0 143.1 1832.0 143.1 L1792.5 142.7 Q1787.5 142.4 1787.5 139.0 Z" fill="#33000a"/>
<path d="M1744.0 131.0 Q1714.0 131.0 1717.0 138.5 Q1714.0 146.0 1744.0 146.0" fill="none" stroke="#bcd0fa" stroke-width="3"/>
<ellipse cx="1839.0" cy="170.0" rx="7" ry="8.3" fill="#a6c2f8"/>
<path d="M1728.0 165.5 L1828.0 165.5 L1828.0 174.5 L1728.0 174.5 Z" fill="#c3d5fb" opacity="0.7"/>
<path d="M1757.0 170.5 C1744.4 169.5 1730.0 166.8 1723.0 167.1 Q1719.5 170.5 1723.0 173.9 C1730.0 174.2 1744.4 171.5 1757.0 170.5 Z" fill="#33000a"/>
<ellipse cx="1726.0" cy="170.5" rx="4" ry="2.8" fill="#7a0a18"/>
<path d="M1787.5 170.5 Q1787.5 167.2 1792.5 166.9 L1832.0 166.6 Q1836.0 166.6 1836.0 170.5 Q1836.0 174.5 1832.0 174.5 L1792.5 174.1 Q1787.5 173.8 1787.5 170.5 Z" fill="#33000a"/>
<path d="M1744.0 162.5 Q1714.0 162.5 1717.0 170.0 Q1714.0 177.5 1744.0 177.5" fill="none" stroke="#bcd0fa" stroke-width="3"/>
<ellipse cx="1839.0" cy="201.5" rx="7" ry="8.3" fill="#a6c2f8"/>
<path d="M1728.0 197.0 L1828.0 197.0 L1828.0 206.0 L1728.0 206.0 Z" fill="#c3d5fb" opacity="0.7"/>
<path d="M1757.0 202.0 C1744.4 201.1 1730.0 198.5 1723.0 198.8 Q1719.5 202.0 1723.0 205.3 C1730.0 205.6 1744.4 203.0 1757.0 202.0 Z" fill="#33000a"/>
<ellipse cx="1726.0" cy="202.0" rx="4" ry="2.7" fill="#7a0a18"/>
<path d="M1787.5 202.0 Q1787.5 198.8 1792.5 198.6 L1832.0 198.2 Q1836.0 198.2 1836.0 202.0 Q1836.0 205.8 1832.0 205.8 L1792.5 205.5 Q1787.5 205.2 1787.5 202.0 Z" fill="#33000a"/>
<path d="M1744.0 194.0 Q1714.0 194.0 1717.0 201.5 Q1714.0 209.0 1744.0 209.0" fill="none" stroke="#bcd0fa" stroke-width="3"/>
<ellipse cx="1839.0" cy="233.0" rx="7" ry="8.3" fill="#a6c2f8"/>
<path d="M1724.0 228.5 L1828.0 228.5 L1828.0 237.5 L1724.0 237.5 Z" fill="#c3d5fb" opacity="0.7"/>
<path d="M1756.0 233.5 C1743.8 232.6 1729.8 230.1 1723.0 230.4 Q1719.5 233.5 1723.0 236.7 C1729.8 237.0 1743.8 234.5 1756.0 233.5 Z" fill="#33000a"/>
<ellipse cx="1726.0" cy="233.5" rx="4" ry="2.6" fill="#7a0a18"/>
<path d="M1787.5 233.5 Q1787.5 230.5 1792.5 230.2 L1810.0 229.9 Q1814.0 229.9 1814.0 233.5 Q1814.0 237.2 1810.0 237.2 L1792.5 236.8 Q1787.5 236.6 1787.5 233.5 Z" fill="#33000a"/>
<path d="M1846.0 236.8 L1925.0 236.8 L1925.0 238.3 L1846.0 238.3 Z" fill="#fff"/>
<path d="M1740.0 225.5 Q1710.0 225.5 1713.0 233.0 Q1710.0 240.5 1740.0 240.5" fill="none" stroke="#bcd0fa" stroke-width="3"/>
<ellipse cx="1839.0" cy="264.5" rx="7" ry="8.3" fill="#a6c2f8"/>
<path d="M1724.0 260.0 L1828.0 260.0 L1828.0 269.0 L1724.0 269.0 Z" fill="#c3d5fb" opacity="0.7"/>
<path d="M1756.0 265.0 C1743.8 264.1 1729.8 261.8 1723.0 262.1 Q1719.5 265.0 1723.0 268.0 C1729.8 268.3 1743.8 265.9 1756.0 265.0 Z" fill="#33000a"/>
<ellipse cx="1726.0" cy="265.0" rx="4" ry="2.5" fill="#7a0a18"/>
<path d="M1787.5 265.0 Q1787.5 262.1 1792.5 261.9 L1810.0 261.5 Q1814.0 261.5 1814.0 265.0 Q1814.0 268.6 1810.0 268.6 L1792.5 268.2 Q1787.5 268.0 1787.5 265.0 Z" fill="#33000a"/>
<path d="M1846.0 267.9 L1925.0 267.9 L1925.0 270.2 L1846.0 270.2 Z" fill="#fff"/>
<path d="M1740.0 257.0 Q1710.0 257.0 1713.0 264.5 Q1710.0 272.0 1740.0 272.0" fill="none" stroke="#bcd0fa" stroke-width="3"/>
<ellipse cx="1839.0" cy="296.1" rx="7" ry="8.3" fill="#a6c2f8"/>
<path d="M1724.0 291.6 L1828.0 291.6 L1828.0 300.6 L1724.0 300.6 Z" fill="#c3d5fb" opacity="0.7"/>
<path d="M1756.0 296.6 C1743.8 295.7 1729.8 293.4 1723.0 293.7 Q1719.5 296.6 1723.0 299.4 C1729.8 299.7 1743.8 297.4 1756.0 296.6 Z" fill="#33000a"/>
<ellipse cx="1726.0" cy="296.6" rx="4" ry="2.4" fill="#7a0a18"/>
<path d="M1787.5 296.6 Q1787.5 293.7 1792.5 293.5 L1810.0 293.2 Q1814.0 293.2 1814.0 296.6 Q1814.0 299.9 1810.0 299.9 L1792.5 299.6 Q1787.5 299.4 1787.5 296.6 Z" fill="#33000a"/>
<path d="M1846.0 299.3 L1925.0 299.3 L1925.0 301.8 L1846.0 301.8 Z" fill="#fff"/>
<path d="M1740.0 288.6 Q1710.0 288.6 1713.0 296.1 Q1710.0 303.6 1740.0 303.6" fill="none" stroke="#bcd0fa" stroke-width="3"/>
<ellipse cx="1839.0" cy="327.6" rx="7" ry="8.3" fill="#a6c2f8"/>
<path d="M1724.0 323.1 L1828.0 323.1 L1828.0 332.1 L1724.0 332.1 Z" fill="#c3d5fb" opacity="0.7"/>
<path d="M1756.0 328.1 C1743.8 327.2 1729.8 325.0 1723.0 325.3 Q1719.5 328.1 1723.0 330.8 C1729.8 331.1 1743.8 328.9 1756.0 328.1 Z" fill="#33000a"/>
<ellipse cx="1726.0" cy="328.1" rx="4" ry="2.3" fill="#7a0a18"/>
<path d="M1787.5 328.1 Q1787.5 325.4 1792.5 325.2 L1810.0 324.8 Q1814.0 324.8 1814.0 328.1 Q1814.0 331.3 1810.0 331.3 L1792.5 331.0 Q1787.5 330.8 1787.5 328.1 Z" fill="#33000a"/>
<path d="M1846.0 330.6 L1925.0 330.6 L1925.0 333.6 L1846.0 333.6 Z" fill="#fff"/>
<path d="M1740.0 320.1 Q1710.0 320.1 1713.0 327.6 Q1710.0 335.1 1740.0 335.1" fill="none" stroke="#bcd0fa" stroke-width="3"/>
<ellipse cx="1871.0" cy="359.1" rx="7" ry="8.3" fill="#a6c2f8"/>
<path d="M1721.0 354.6 L1860.0 354.6 L1860.0 363.6 L1721.0 363.6 Z" fill="#c3d5fb" opacity="0.7"/>
<path d="M1755.0 359.6 C1742.8 358.8 1728.8 356.7 1722.0 357.0 Q1718.5 359.6 1722.0 362.2 C1728.8 362.5 1742.8 360.4 1755.0 359.6 Z" fill="#33000a"/>
<ellipse cx="1725.0" cy="359.6" rx="4" ry="2.2" fill="#7a0a18"/>
<path d="M1788.0 359.6 Q1788.0 357.0 1793.0 356.8 L1807.0 356.5 Q1811.0 356.5 1811.0 359.6 Q1811.0 362.7 1807.0 362.7 L1793.0 362.4 Q1788.0 362.2 1788.0 359.6 Z" fill="#33000a"/>
<path d="M1844.5 359.6 Q1844.5 357.8 1849.5 357.6 L1860.5 357.4 Q1864.5 357.4 1864.5 359.6 Q1864.5 361.7 1860.5 361.7 L1849.5 361.5 Q1844.5 361.4 1844.5 359.6 Z" fill="#33000a"/>
<path d="M1877.0 359.6 Q1877.0 357.8 1882.0 357.6 L1882.0 357.4 Q1886.0 357.4 1886.0 359.6 Q1886.0 361.7 1882.0 361.7 L1882.0 361.5 Q1877.0 361.4 1877.0 359.6 Z" fill="#33000a"/>
<path d="M1786.0 362.0 L1925.0 362.0 L1925.0 365.2 L1786.0 365.2 Z" fill="#fff"/>
<path d="M1737.0 351.6 Q1707.0 351.6 1710.0 359.1 Q1707.0 366.6 1737.0 366.6" fill="none" stroke="#bcd0fa" stroke-width="3"/>
<ellipse cx="1871.0" cy="390.6" rx="7" ry="8.3" fill="#a6c2f8"/>
<path d="M1721.0 386.1 L1860.0 386.1 L1860.0 395.1 L1721.0 395.1 Z" fill="#c3d5fb" opacity="0.7"/>
<path d="M1755.0 391.1 C1742.8 390.3 1728.8 388.3 1722.0 388.6 Q1718.5 391.1 1722.0 393.6 C1728.8 393.8 1742.8 391.8 1755.0 391.1 Z" fill="#33000a"/>
<ellipse cx="1725.0" cy="391.1" rx="4" ry="2.1" fill="#7a0a18"/>
<path d="M1788.0 391.1 Q1788.0 388.6 1793.0 388.4 L1807.0 388.2 Q1811.0 388.2 1811.0 391.1 Q1811.0 394.0 1807.0 394.0 L1793.0 393.7 Q1788.0 393.6 1788.0 391.1 Z" fill="#33000a"/>
<path d="M1844.5 391.1 Q1844.5 389.4 1849.5 389.2 L1860.5 389.0 Q1864.5 389.0 1864.5 391.1 Q1864.5 393.1 1860.5 393.1 L1849.5 392.9 Q1844.5 392.8 1844.5 391.1 Z" fill="#33000a"/>
<path d="M1877.0 391.1 Q1877.0 389.4 1882.0 389.2 L1882.0 389.0 Q1886.0 389.0 1886.0 391.1 Q1886.0 393.1 1882.0 393.1 L1882.0 392.9 Q1877.0 392.8 1877.0 391.1 Z" fill="#33000a"/>
<path d="M1786.0 393.2 L1925.0 393.2 L1925.0 397.0 L1786.0 397.0 Z" fill="#fff"/>
<path d="M1737.0 383.1 Q1707.0 383.1 1710.0 390.6 Q1707.0 398.1 1737.0 398.1" fill="none" stroke="#bcd0fa" stroke-width="3"/>
<ellipse cx="1871.0" cy="422.1" rx="7" ry="8.3" fill="#a6c2f8"/>
<path d="M1721.0 417.6 L1860.0 417.6 L1860.0 426.6 L1721.0 426.6 Z" fill="#c3d5fb" opacity="0.7"/>
<path d="M1755.0 422.6 C1742.8 421.9 1728.8 420.0 1722.0 420.2 Q1718.5 422.6 1722.0 425.0 C1728.8 425.2 1742.8 423.3 1755.0 422.6 Z" fill="#33000a"/>
<ellipse cx="1725.0" cy="422.6" rx="4" ry="2.0" fill="#7a0a18"/>
<path d="M1788.0 422.6 Q1788.0 420.3 1793.0 420.1 L1807.0 419.8 Q1811.0 419.8 1811.0 422.6 Q1811.0 425.4 1807.0 425.4 L1793.0 425.1 Q1788.0 424.9 1788.0 422.6 Z" fill="#33000a"/>
<path d="M1844.5 422.6 Q1844.5 421.0 1849.5 420.8 L1860.5 420.6 Q1864.5 420.6 1864.5 422.6 Q1864.5 424.6 1860.5 424.6 L1849.5 424.4 Q1844.5 424.2 1844.5 422.6 Z" fill="#33000a"/>
<path d="M1877.0 422.6 Q1877.0 421.0 1882.0 420.8 L1882.0 420.6 Q1886.0 420.6 1886.0 422.6 Q1886.0 424.6 1882.0 424.6 L1882.0 424.4 Q1877.0 424.2 1877.0 422.6 Z" fill="#33000a"/>
<path d="M1786.0 424.6 L1925.0 424.6 L1925.0 428.6 L1786.0 428.6 Z" fill="#fff"/>
<path d="M1737.0 414.6 Q1707.0 414.6 1710.0 422.1 Q1707.0 429.6 1737.0 429.6" fill="none" stroke="#bcd0fa" stroke-width="3"/>
<ellipse cx="1871.0" cy="453.6" rx="7" ry="8.3" fill="#a6c2f8"/>
<path d="M1721.0 449.1 L1860.0 449.1 L1860.0 458.1 L1721.0 458.1 Z" fill="#c3d5fb" opacity="0.7"/>
<path d="M1755.0 454.1 C1742.8 453.4 1728.8 451.6 1722.0 451.9 Q1718.5 454.1 1722.0 456.4 C1728.8 456.6 1742.8 454.8 1755.0 454.1 Z" fill="#33000a"/>
<ellipse cx="1725.0" cy="454.1" rx="4" ry="1.9" fill="#7a0a18"/>
<path d="M1788.0 454.1 Q1788.0 451.9 1793.0 451.7 L1807.0 451.5 Q1811.0 451.5 1811.0 454.1 Q1811.0 456.8 1807.0 456.8 L1793.0 456.5 Q1788.0 456.3 1788.0 454.1 Z" fill="#33000a"/>
<path d="M1844.5 454.1 Q1844.5 452.6 1849.5 452.4 L1860.5 452.3 Q1864.5 452.3 1864.5 454.1 Q1864.5 456.0 1860.5 456.0 L1849.5 455.8 Q1844.5 455.7 1844.5 454.1 Z" fill="#33000a"/>
<path d="M1877.0 454.1 Q1877.0 452.6 1882.0 452.4 L1882.0 452.3 Q1886.0 452.3 1886.0 454.1 Q1886.0 456.0 1882.0 456.0 L1882.0 455.8 Q1877.0 455.7 1877.0 454.1 Z" fill="#33000a"/>
<path d="M1786.0 455.9 L1925.0 455.9 L1925.0 460.4 L1786.0 460.4 Z" fill="#fff"/>
<path d="M1737.0 446.1 Q1707.0 446.1 1710.0 453.6 Q1707.0 461.1 1737.0 461.1" fill="none" stroke="#bcd0fa" stroke-width="3"/>
<path d="M1733.0 485.1 Q1735.0 481.9 1760.0 481.9 L1925.0 480.1 L1925.0 490.2 L1760.0 488.4 Q1735.0 488.4 1733.0 485.1 Z" fill="#fff"/>
<path d="M1712.5 485.1 L1722.0 482.3 L1732.0 480.9 L1732.0 489.3 L1722.0 487.9Z" fill="#8c001a" />
<path d="M1735.0 477.6 Q1705.0 477.6 1708.0 485.1 Q1705.0 492.6 1735.0 492.6" fill="none" stroke="#bcd0fa" stroke-width="3"/>
<path d="M1733.0 516.6 Q1735.0 513.4 1760.0 513.4 L1925.0 511.6 L1925.0 521.7 L1760.0 519.9 Q1735.0 519.9 1733.0 516.6 Z" fill="#fff"/>
<path d="M1712.5 516.6 L1722.0 513.8 L1732.0 512.4 L1732.0 520.8 L1722.0 519.4Z" fill="#8c001a" />
<path d="M1735.0 509.1 Q1705.0 509.1 1708.0 516.6 Q1705.0 524.1 1735.0 524.1" fill="none" stroke="#bcd0fa" stroke-width="3"/>
<path d="M1733.0 548.1 Q1735.0 544.9 1760.0 544.9 L1925.0 543.1 L1925.0 553.2 L1760.0 551.4 Q1735.0 551.4 1733.0 548.1 Z" fill="#fff"/>
<path d="M1712.5 548.1 L1722.0 545.3 L1732.0 543.9 L1732.0 552.3 L1722.0 550.9Z" fill="#8c001a" />
<path d="M1735.0 540.6 Q1705.0 540.6 1708.0 548.1 Q1705.0 555.6 1735.0 555.6" fill="none" stroke="#bcd0fa" stroke-width="3"/>
<path d="M1733.0 579.7 Q1735.0 576.4 1760.0 576.4 L1925.0 574.6 L1925.0 584.7 L1760.0 582.9 Q1735.0 582.9 1733.0 579.7 Z" fill="#fff"/>
<path d="M1712.5 579.7 L1722.0 576.9 L1732.0 575.5 L1732.0 583.9 L1722.0 582.5Z" fill="#8c001a" />
<path d="M1735.0 572.2 Q1705.0 572.2 1708.0 579.7 Q1705.0 587.2 1735.0 587.2" fill="none" stroke="#bcd0fa" stroke-width="3"/>
<path d="M1733.0 611.2 Q1735.0 607.9 1760.0 607.9 L1925.0 606.1 L1925.0 616.2 L1760.0 614.4 Q1735.0 614.4 1733.0 611.2 Z" fill="#fff"/>
<path d="M1712.5 611.2 L1722.0 608.4 L1732.0 607.0 L1732.0 615.4 L1722.0 614.0Z" fill="#8c001a" />
<path d="M1734.0 603.7 Q1704.0 603.7 1707.0 611.2 Q1704.0 618.7 1734.0 618.7" fill="none" stroke="#bcd0fa" stroke-width="3"/>
<path d="M1733.0 642.7 Q1735.0 639.4 1760.0 639.4 L1925.0 637.6 L1925.0 647.7 L1760.0 645.9 Q1735.0 645.9 1733.0 642.7 Z" fill="#fff"/>
<path d="M1712.5 642.7 L1722.0 639.9 L1732.0 638.5 L1732.0 646.9 L1722.0 645.5Z" fill="#8c001a" />
<path d="M1734.0 635.2 Q1704.0 635.2 1707.0 642.7 Q1704.0 650.2 1734.0 650.2" fill="none" stroke="#bcd0fa" stroke-width="3"/>
<path d="M1733.0 674.2 Q1735.0 670.9 1760.0 670.9 L1925.0 669.1 L1925.0 679.2 L1760.0 677.4 Q1735.0 677.4 1733.0 674.2 Z" fill="#fff"/>
<path d="M1712.5 674.2 L1722.0 671.4 L1732.0 670.0 L1732.0 678.4 L1722.0 677.0Z" fill="#8c001a" />
<path d="M1734.0 666.7 Q1704.0 666.7 1707.0 674.2 Q1704.0 681.7 1734.0 681.7" fill="none" stroke="#bcd0fa" stroke-width="3"/>
<path d="M1733.0 705.7 Q1735.0 702.5 1760.0 702.5 L1925.0 700.7 L1925.0 710.8 L1760.0 709.0 Q1735.0 709.0 1733.0 705.7 Z" fill="#fff"/>
<path d="M1712.5 705.7 L1722.0 702.9 L1732.0 701.5 L1732.0 709.9 L1722.0 708.5Z" fill="#8c001a" />
<path d="M1735.0 698.2 Q1705.0 698.2 1708.0 705.7 Q1705.0 713.2 1735.0 713.2" fill="none" stroke="#bcd0fa" stroke-width="3"/>
<path d="M1733.0 737.2 Q1735.0 734.0 1760.0 734.0 L1925.0 732.2 L1925.0 742.3 L1760.0 740.5 Q1735.0 740.5 1733.0 737.2 Z" fill="#fff"/>
<path d="M1712.5 737.2 L1722.0 734.4 L1732.0 733.0 L1732.0 741.4 L1722.0 740.0Z" fill="#8c001a" />
<path d="M1735.0 729.7 Q1705.0 729.7 1708.0 737.2 Q1705.0 744.7 1735.0 744.7" fill="none" stroke="#bcd0fa" stroke-width="3"/>
<path d="M1733.0 768.7 Q1735.0 765.5 1760.0 765.5 L1925.0 763.7 L1925.0 773.8 L1760.0 772.0 Q1735.0 772.0 1733.0 768.7 Z" fill="#fff"/>
<path d="M1712.5 768.7 L1722.0 765.9 L1732.0 764.5 L1732.0 772.9 L1722.0 771.5Z" fill="#8c001a" />
<path d="M1735.0 761.2 Q1705.0 761.2 1708.0 768.7 Q1705.0 776.2 1735.0 776.2" fill="none" stroke="#bcd0fa" stroke-width="3"/>
<path d="M1733.0 800.2 Q1735.0 797.0 1760.0 797.0 L1925.0 795.2 L1925.0 805.3 L1760.0 803.5 Q1735.0 803.5 1733.0 800.2 Z" fill="#fff"/>
<path d="M1712.5 800.2 L1722.0 797.4 L1732.0 796.0 L1732.0 804.4 L1722.0 803.0Z" fill="#8c001a" />
<path d="M1735.0 792.7 Q1705.0 792.7 1708.0 800.2 Q1705.0 807.7 1735.0 807.7" fill="none" stroke="#bcd0fa" stroke-width="3"/>
<ellipse cx="1871.0" cy="831.7" rx="7" ry="8.3" fill="#a6c2f8"/>
<path d="M1721.0 827.2 L1860.0 827.2 L1860.0 836.2 L1721.0 836.2 Z" fill="#c3d5fb" opacity="0.7"/>
<path d="M1755.0 831.2 C1742.8 830.6 1728.8 828.8 1722.0 829.0 Q1718.5 831.2 1722.0 833.5 C1728.8 833.7 1742.8 831.9 1755.0 831.2 Z" fill="#8a0f20"/>
<ellipse cx="1725.0" cy="831.2" rx="4" ry="1.9" fill="#8c001a"/>
<path d="M1788.0 831.2 Q1788.0 829.0 1793.0 828.9 L1807.0 828.6 Q1811.0 828.6 1811.0 831.2 Q1811.0 833.9 1807.0 833.9 L1793.0 833.6 Q1788.0 833.5 1788.0 831.2 Z" fill="#8a0f20"/>
<path d="M1844.5 831.2 Q1844.5 829.7 1849.5 829.6 L1860.5 829.4 Q1864.5 829.4 1864.5 831.2 Q1864.5 833.1 1860.5 833.1 L1849.5 832.9 Q1844.5 832.8 1844.5 831.2 Z" fill="#8a0f20"/>
<path d="M1877.0 831.2 Q1877.0 829.7 1882.0 829.6 L1882.0 829.4 Q1886.0 829.4 1886.0 831.2 Q1886.0 833.1 1882.0 833.1 L1882.0 832.9 Q1877.0 832.8 1877.0 831.2 Z" fill="#8a0f20"/>
<path d="M1786.0 825.0 L1925.0 825.0 L1925.0 829.5 L1786.0 829.5 Z" fill="#fff"/>
<path d="M1737.0 824.2 Q1707.0 824.2 1710.0 831.7 Q1707.0 839.2 1737.0 839.2" fill="none" stroke="#bcd0fa" stroke-width="3"/>
<ellipse cx="1871.0" cy="863.3" rx="7" ry="8.3" fill="#a6c2f8"/>
<path d="M1721.0 858.8 L1860.0 858.8 L1860.0 867.8 L1721.0 867.8 Z" fill="#c3d5fb" opacity="0.7"/>
<path d="M1755.0 862.8 C1742.8 862.0 1728.8 860.1 1722.0 860.4 Q1718.5 862.8 1722.0 865.1 C1728.8 865.4 1742.8 863.5 1755.0 862.8 Z" fill="#8a0f20"/>
<ellipse cx="1725.0" cy="862.8" rx="4" ry="2.0" fill="#8c001a"/>
<path d="M1788.0 862.8 Q1788.0 860.4 1793.0 860.2 L1807.0 860.0 Q1811.0 860.0 1811.0 862.8 Q1811.0 865.5 1807.0 865.5 L1793.0 865.3 Q1788.0 865.1 1788.0 862.8 Z" fill="#8a0f20"/>
<path d="M1844.5 862.8 Q1844.5 861.1 1849.5 861.0 L1860.5 860.8 Q1864.5 860.8 1864.5 862.8 Q1864.5 864.7 1860.5 864.7 L1849.5 864.5 Q1844.5 864.4 1844.5 862.8 Z" fill="#8a0f20"/>
<path d="M1877.0 862.8 Q1877.0 861.1 1882.0 861.0 L1882.0 860.8 Q1886.0 860.8 1886.0 862.8 Q1886.0 864.7 1882.0 864.7 L1882.0 864.5 Q1877.0 864.4 1877.0 862.8 Z" fill="#8a0f20"/>
<path d="M1786.0 856.8 L1925.0 856.8 L1925.0 860.8 L1786.0 860.8 Z" fill="#fff"/>
<path d="M1737.0 855.8 Q1707.0 855.8 1710.0 863.3 Q1707.0 870.8 1737.0 870.8" fill="none" stroke="#bcd0fa" stroke-width="3"/>
<ellipse cx="1871.0" cy="894.8" rx="7" ry="8.3" fill="#a6c2f8"/>
<path d="M1721.0 890.3 L1860.0 890.3 L1860.0 899.3 L1721.0 899.3 Z" fill="#c3d5fb" opacity="0.7"/>
<path d="M1755.0 894.3 C1742.8 893.5 1728.8 891.5 1722.0 891.8 Q1718.5 894.3 1722.0 896.8 C1728.8 897.0 1742.8 895.0 1755.0 894.3 Z" fill="#8a0f20"/>
<ellipse cx="1725.0" cy="894.3" rx="4" ry="2.1" fill="#8c001a"/>
<path d="M1788.0 894.3 Q1788.0 891.8 1793.0 891.6 L1807.0 891.3 Q1811.0 891.3 1811.0 894.3 Q1811.0 897.2 1807.0 897.2 L1793.0 896.9 Q1788.0 896.7 1788.0 894.3 Z" fill="#8a0f20"/>
<path d="M1844.5 894.3 Q1844.5 892.5 1849.5 892.4 L1860.5 892.2 Q1864.5 892.2 1864.5 894.3 Q1864.5 896.3 1860.5 896.3 L1849.5 896.1 Q1844.5 896.0 1844.5 894.3 Z" fill="#8a0f20"/>
<path d="M1877.0 894.3 Q1877.0 892.5 1882.0 892.4 L1882.0 892.2 Q1886.0 892.2 1886.0 894.3 Q1886.0 896.3 1882.0 896.3 L1882.0 896.1 Q1877.0 896.0 1877.0 894.3 Z" fill="#8a0f20"/>
<path d="M1786.0 888.5 L1925.0 888.5 L1925.0 892.0 L1786.0 892.0 Z" fill="#fff"/>
<path d="M1737.0 887.3 Q1707.0 887.3 1710.0 894.8 Q1707.0 902.3 1737.0 902.3" fill="none" stroke="#bcd0fa" stroke-width="3"/>
<ellipse cx="1871.0" cy="926.3" rx="7" ry="8.3" fill="#a6c2f8"/>
<path d="M1721.0 921.8 L1860.0 921.8 L1860.0 930.8 L1721.0 930.8 Z" fill="#c3d5fb" opacity="0.7"/>
<path d="M1755.0 925.8 C1742.8 925.0 1728.8 922.9 1722.0 923.2 Q1718.5 925.8 1722.0 928.4 C1728.8 928.7 1742.8 926.6 1755.0 925.8 Z" fill="#8a0f20"/>
<ellipse cx="1725.0" cy="925.8" rx="4" ry="2.2" fill="#8c001a"/>
<path d="M1788.0 925.8 Q1788.0 923.2 1793.0 923.0 L1807.0 922.7 Q1811.0 922.7 1811.0 925.8 Q1811.0 928.9 1807.0 928.9 L1793.0 928.6 Q1788.0 928.4 1788.0 925.8 Z" fill="#8a0f20"/>
<path d="M1844.5 925.8 Q1844.5 924.0 1849.5 923.8 L1860.5 923.6 Q1864.5 923.6 1864.5 925.8 Q1864.5 927.9 1860.5 927.9 L1849.5 927.7 Q1844.5 927.6 1844.5 925.8 Z" fill="#8a0f20"/>
<path d="M1877.0 925.8 Q1877.0 924.0 1882.0 923.8 L1882.0 923.6 Q1886.0 923.6 1886.0 925.8 Q1886.0 927.9 1882.0 927.9 L1882.0 927.7 Q1877.0 927.6 1877.0 925.8 Z" fill="#8a0f20"/>
<path d="M1786.0 920.4 L1925.0 920.4 L1925.0 923.2 L1786.0 923.2 Z" fill="#fff"/>
<path d="M1737.0 918.8 Q1707.0 918.8 1710.0 926.3 Q1707.0 933.8 1737.0 933.8" fill="none" stroke="#bcd0fa" stroke-width="3"/>
<ellipse cx="1839.0" cy="957.8" rx="7" ry="8.3" fill="#a6c2f8"/>
<path d="M1724.0 953.3 L1828.0 953.3 L1828.0 962.3 L1724.0 962.3 Z" fill="#c3d5fb" opacity="0.7"/>
<path d="M1756.0 957.3 C1743.8 956.5 1729.8 954.3 1723.0 954.5 Q1719.5 957.3 1723.0 960.0 C1729.8 960.3 1743.8 958.1 1756.0 957.3 Z" fill="#8a0f20"/>
<ellipse cx="1726.0" cy="957.3" rx="4" ry="2.3" fill="#8c001a"/>
<path d="M1787.5 957.3 Q1787.5 954.6 1792.5 954.4 L1810.0 954.1 Q1814.0 954.1 1814.0 957.3 Q1814.0 960.5 1810.0 960.5 L1792.5 960.2 Q1787.5 960.0 1787.5 957.3 Z" fill="#8a0f20"/>
<path d="M1846.0 952.3 L1925.0 952.3 L1925.0 954.3 L1846.0 954.3 Z" fill="#fff"/>
<path d="M1740.0 950.3 Q1710.0 950.3 1713.0 957.8 Q1710.0 965.3 1740.0 965.3" fill="none" stroke="#bcd0fa" stroke-width="3"/>
<ellipse cx="1839.0" cy="989.3" rx="7" ry="8.3" fill="#a6c2f8"/>
<path d="M1724.0 984.8 L1828.0 984.8 L1828.0 993.8 L1724.0 993.8 Z" fill="#c3d5fb" opacity="0.7"/>
<path d="M1756.0 988.8 C1743.8 987.9 1729.8 985.6 1723.0 985.9 Q1719.5 988.8 1723.0 991.7 C1729.8 992.0 1743.8 989.7 1756.0 988.8 Z" fill="#8a0f20"/>
<ellipse cx="1726.0" cy="988.8" rx="4" ry="2.4" fill="#8c001a"/>
<path d="M1787.5 988.8 Q1787.5 986.0 1792.5 985.8 L1810.0 985.4 Q1814.0 985.4 1814.0 988.8 Q1814.0 992.2 1810.0 992.2 L1792.5 991.8 Q1787.5 991.6 1787.5 988.8 Z" fill="#8a0f20"/>
<path d="M1846.0 984.1 L1925.0 984.1 L1925.0 985.6 L1846.0 985.6 Z" fill="#fff"/>
<path d="M1740.0 981.8 Q1710.0 981.8 1713.0 989.3 Q1710.0 996.8 1740.0 996.8" fill="none" stroke="#bcd0fa" stroke-width="3"/>
<ellipse cx="1839.0" cy="1020.8" rx="7" ry="8.3" fill="#a6c2f8"/>
<path d="M1724.0 1016.3 L1828.0 1016.3 L1828.0 1025.3 L1724.0 1025.3 Z" fill="#c3d5fb" opacity="0.7"/>
<path d="M1756.0 1020.3 C1743.8 1019.4 1729.8 1017.0 1723.0 1017.3 Q1719.5 1020.3 1723.0 1023.3 C1729.8 1023.6 1743.8 1021.2 1756.0 1020.3 Z" fill="#8a0f20"/>
<ellipse cx="1726.0" cy="1020.3" rx="4" ry="2.5" fill="#8c001a"/>
<path d="M1787.5 1020.3 Q1787.5 1017.4 1792.5 1017.1 L1810.0 1016.8 Q1814.0 1016.8 1814.0 1020.3 Q1814.0 1023.8 1810.0 1023.8 L1792.5 1023.5 Q1787.5 1023.3 1787.5 1020.3 Z" fill="#8a0f20"/>
<path d="M1846.0 1015.6 L1925.0 1015.6 L1925.0 1017.1 L1846.0 1017.1 Z" fill="#fff"/>
<path d="M1740.0 1013.3 Q1710.0 1013.3 1713.0 1020.8 Q1710.0 1028.3 1740.0 1028.3" fill="none" stroke="#bcd0fa" stroke-width="3"/>
<ellipse cx="1839.0" cy="1052.3" rx="7" ry="8.3" fill="#a6c2f8"/>
<path d="M1724.0 1047.8 L1828.0 1047.8 L1828.0 1056.8 L1724.0 1056.8 Z" fill="#c3d5fb" opacity="0.7"/>
<path d="M1756.0 1051.8 C1743.8 1050.9 1729.8 1048.4 1723.0 1048.7 Q1719.5 1051.8 1723.0 1054.9 C1729.8 1055.3 1743.8 1052.8 1756.0 1051.8 Z" fill="#8a0f20"/>
<ellipse cx="1726.0" cy="1051.8" rx="4" ry="2.6" fill="#8c001a"/>
<path d="M1787.5 1051.8 Q1787.5 1048.7 1792.5 1048.5 L1810.0 1048.2 Q1814.0 1048.2 1814.0 1051.8 Q1814.0 1055.5 1810.0 1055.5 L1792.5 1055.1 Q1787.5 1054.9 1787.5 1051.8 Z" fill="#8a0f20"/>
<path d="M1846.0 1047.1 L1925.0 1047.1 L1925.0 1048.6 L1846.0 1048.6 Z" fill="#fff"/>
<path d="M1740.0 1044.8 Q1710.0 1044.8 1713.0 1052.3 Q1710.0 1059.8 1740.0 1059.8" fill="none" stroke="#bcd0fa" stroke-width="3"/>
<ellipse cx="1839.0" cy="1083.8" rx="7" ry="8.3" fill="#a6c2f8"/>
<path d="M1728.0 1079.3 L1828.0 1079.3 L1828.0 1088.3 L1728.0 1088.3 Z" fill="#c3d5fb" opacity="0.7"/>
<path d="M1757.0 1083.3 C1744.4 1082.4 1730.0 1079.8 1723.0 1080.1 Q1719.5 1083.3 1723.0 1086.6 C1730.0 1086.9 1744.4 1084.3 1757.0 1083.3 Z" fill="#8a0f20"/>
<ellipse cx="1726.0" cy="1083.3" rx="4" ry="2.7" fill="#8c001a"/>
<path d="M1787.5 1083.3 Q1787.5 1080.1 1792.5 1079.9 L1832.0 1079.5 Q1836.0 1079.5 1836.0 1083.3 Q1836.0 1087.1 1832.0 1087.1 L1792.5 1086.8 Q1787.5 1086.5 1787.5 1083.3 Z" fill="#8a0f20"/>
<path d="M1744.0 1076.3 Q1714.0 1076.3 1717.0 1083.8 Q1714.0 1091.3 1744.0 1091.3" fill="none" stroke="#bcd0fa" stroke-width="3"/>
<ellipse cx="1839.0" cy="1115.3" rx="7" ry="8.3" fill="#a6c2f8"/>
<path d="M1728.0 1110.8 L1828.0 1110.8 L1828.0 1119.8 L1728.0 1119.8 Z" fill="#c3d5fb" opacity="0.7"/>
<path d="M1757.0 1114.8 C1744.4 1113.8 1730.0 1111.1 1723.0 1111.5 Q1719.5 1114.8 1723.0 1118.2 C1730.0 1118.5 1744.4 1115.9 1757.0 1114.8 Z" fill="#8a0f20"/>
<ellipse cx="1726.0" cy="1114.8" rx="4" ry="2.8" fill="#8c001a"/>
<path d="M1787.5 1114.8 Q1787.5 1111.5 1792.5 1111.3 L1832.0 1110.9 Q1836.0 1110.9 1836.0 1114.8 Q1836.0 1118.8 1832.0 1118.8 L1792.5 1118.4 Q1787.5 1118.2 1787.5 1114.8 Z" fill="#8a0f20"/>
<path d="M1744.0 1107.8 Q1714.0 1107.8 1717.0 1115.3 Q1714.0 1122.8 1744.0 1122.8" fill="none" stroke="#bcd0fa" stroke-width="3"/>
<ellipse cx="1839.0" cy="1146.9" rx="7" ry="8.3" fill="#a6c2f8"/>
<path d="M1728.0 1142.4 L1828.0 1142.4 L1828.0 1151.4 L1728.0 1151.4 Z" fill="#c3d5fb" opacity="0.7"/>
<path d="M1757.0 1146.4 C1744.4 1145.3 1730.0 1142.5 1723.0 1142.9 Q1719.5 1146.4 1723.0 1149.8 C1730.0 1150.2 1744.4 1147.4 1757.0 1146.4 Z" fill="#8a0f20"/>
<ellipse cx="1726.0" cy="1146.4" rx="4" ry="3.0" fill="#8c001a"/>
<path d="M1787.5 1146.4 Q1787.5 1142.9 1792.5 1142.7 L1832.0 1142.3 Q1836.0 1142.3 1836.0 1146.4 Q1836.0 1150.5 1832.0 1150.5 L1792.5 1150.1 Q1787.5 1149.8 1787.5 1146.4 Z" fill="#8a0f20"/>
<path d="M1744.0 1139.4 Q1714.0 1139.4 1717.0 1146.9 Q1714.0 1154.4 1744.0 1154.4" fill="none" stroke="#bcd0fa" stroke-width="3"/>
<ellipse cx="1839.0" cy="1178.4" rx="7" ry="8.3" fill="#a6c2f8"/>
<path d="M1728.0 1173.9 L1828.0 1173.9 L1828.0 1182.9 L1728.0 1182.9 Z" fill="#c3d5fb" opacity="0.7"/>
<path d="M1757.0 1177.9 C1744.4 1176.8 1730.0 1173.9 1723.0 1174.3 Q1719.5 1177.9 1723.0 1181.5 C1730.0 1181.8 1744.4 1179.0 1757.0 1177.9 Z" fill="#8a0f20"/>
<ellipse cx="1726.0" cy="1177.9" rx="4" ry="3.1" fill="#8c001a"/>
<path d="M1787.5 1177.9 Q1787.5 1174.3 1792.5 1174.0 L1832.0 1173.6 Q1836.0 1173.6 1836.0 1177.9 Q1836.0 1182.1 1832.0 1182.1 L1792.5 1181.7 Q1787.5 1181.4 1787.5 1177.9 Z" fill="#8a0f20"/>
<path d="M1744.0 1170.9 Q1714.0 1170.9 1717.0 1178.4 Q1714.0 1185.9 1744.0 1185.9" fill="none" stroke="#bcd0fa" stroke-width="3"/>
<path d="M1890.0 80.2 Q1892.7 86.3 1894.5 91.2 Q1895.7 96.2 1893.0 102.3M1890.1 111.8 Q1892.5 117.8 1894.2 122.7 Q1895.3 127.7 1892.9 133.7M1890.2 143.3 Q1892.3 149.3 1893.9 154.3 Q1895.0 159.2 1892.9 165.2M1890.3 174.9 Q1892.1 180.9 1893.6 185.8 Q1894.6 190.7 1892.8 196.6M1885.5 206.5 Q1886.9 212.4 1888.2 217.3 Q1889.2 222.1 1887.8 228.1M1885.6 238.0 Q1886.7 243.9 1887.9 248.8 Q1888.9 253.6 1887.7 259.6M1885.7 269.6 Q1886.5 275.5 1887.6 280.3 Q1888.5 285.1 1887.7 291.0M1885.8 301.2 Q1886.3 307.0 1887.3 311.8 Q1888.1 316.6 1887.6 322.5M1887.6 962.9 Q1888.1 968.8 1887.3 973.5 Q1886.3 978.3 1885.8 984.2M1887.7 994.4 Q1888.5 1000.2 1887.6 1005.1 Q1886.5 1009.9 1885.7 1015.8M1887.7 1025.8 Q1888.9 1031.7 1887.9 1036.6 Q1886.7 1041.4 1885.6 1047.3M1887.8 1057.3 Q1889.2 1063.2 1888.2 1068.1 Q1886.9 1072.9 1885.5 1078.9M1892.8 1088.7 Q1894.6 1094.7 1893.6 1099.6 Q1892.1 1104.5 1890.3 1110.5M1892.9 1120.2 Q1895.0 1126.2 1893.9 1131.1 Q1892.3 1136.0 1890.2 1142.0M1892.9 1151.6 Q1895.3 1157.7 1894.2 1162.6 Q1892.5 1167.6 1890.1 1173.6M1893.0 1183.1 Q1895.7 1189.2 1894.5 1194.1 Q1892.7 1199.1 1890.0 1205.2" fill="none" stroke="#8aa8f5" stroke-width="5.2" stroke-linecap="round" stroke-linejoin="round"/>
<path d="M1894.0 101.8 L1891.4 112.2M1893.9 133.2 L1891.4 143.8M1893.9 164.7 L1891.5 173.8M1893.8 196.1 L1891.5 204.9M1888.8 227.6 L1886.6 235.5M1888.7 259.1 L1886.8 265.5M1888.7 290.5 L1886.8 296.6M1888.6 322.0 L1886.9 327.2M1888.6 963.4 L1886.6 956.2M1888.7 994.9 L1886.4 986.3M1888.7 1026.3 L1886.5 1017.8M1888.8 1057.8 L1886.5 1048.9M1893.8 1089.2 L1891.5 1080.0M1893.9 1120.7 L1891.5 1111.5M1893.9 1152.1 L1891.4 1141.6M1894.0 1183.6 L1891.4 1173.2" fill="none" stroke="#8aa8f5" stroke-width="4.8" stroke-linecap="round"/>
<path d="M1942.5 80.2 Q1945.2 86.3 1947.0 91.2 Q1948.2 96.2 1945.5 102.3M1942.6 111.8 Q1945.3 117.8 1947.0 122.7 Q1948.1 127.7 1945.4 133.7M1942.7 143.3 Q1945.4 149.3 1947.1 154.3 Q1948.1 159.2 1945.4 165.2M1942.8 174.9 Q1945.5 180.9 1947.1 185.8 Q1948.0 190.7 1945.3 196.6M1940.5 206.5 Q1942.3 212.4 1943.6 217.3 Q1944.6 222.1 1942.8 228.1M1940.6 238.0 Q1942.4 243.9 1943.6 248.8 Q1944.5 253.6 1942.7 259.6M1940.7 269.6 Q1942.5 275.5 1943.7 280.3 Q1944.5 285.1 1942.7 291.0M1940.8 301.2 Q1942.6 307.0 1943.7 311.8 Q1944.4 316.6 1942.6 322.5M1943.4 332.7 Q1936.2 338.6 1936.2 343.3 Q1937.8 348.1 1945.0 353.9M1943.5 364.3 Q1936.3 370.1 1936.3 374.8 Q1937.8 379.6 1945.0 385.4M1943.6 395.9 Q1936.4 401.6 1936.3 406.3 Q1937.7 411.1 1944.9 416.8M1943.8 427.4 Q1936.6 433.2 1936.3 437.9 Q1937.7 442.5 1944.9 448.3M1941.4 459.0 Q1932.4 464.7 1931.8 469.4 Q1933.3 474.0 1942.3 479.7M1941.5 490.6 Q1932.5 496.2 1931.9 500.9 Q1933.3 505.5 1942.3 511.2M1941.6 522.1 Q1932.6 527.8 1931.9 532.4 Q1933.2 537.0 1942.2 542.6M1941.7 553.7 Q1932.7 559.3 1931.9 563.9 Q1933.1 568.5 1942.1 574.1M1946.8 585.3 Q1930.6 590.9 1929.0 595.4 Q1930.9 600.0 1947.1 605.5M1946.9 616.8 Q1930.7 622.4 1929.0 626.9 Q1930.8 631.5 1947.0 637.0M1947.0 648.4 Q1930.8 653.9 1929.0 658.4 Q1930.7 663.0 1946.9 668.5M1947.1 679.8 Q1930.9 685.4 1929.0 689.9 Q1930.6 694.5 1946.8 700.1M1942.1 711.3 Q1933.1 716.9 1931.9 721.5 Q1932.7 726.0 1941.7 731.6M1942.2 742.7 Q1933.2 748.4 1931.9 753.0 Q1932.6 757.6 1941.6 763.2M1942.3 774.2 Q1933.3 779.8 1931.9 784.5 Q1932.5 789.1 1941.5 794.8M1942.3 805.6 Q1933.3 811.3 1931.8 816.0 Q1932.4 820.7 1941.4 826.4M1944.9 837.1 Q1937.7 842.8 1936.3 847.5 Q1936.6 852.2 1943.8 857.9M1944.9 868.5 Q1937.7 874.3 1936.3 879.0 Q1936.4 883.7 1943.6 889.5M1945.0 900.0 Q1937.8 905.8 1936.3 910.5 Q1936.3 915.3 1943.5 921.1M1945.0 931.4 Q1937.8 937.3 1936.2 942.0 Q1936.2 946.8 1943.4 952.6M1942.6 962.9 Q1944.4 968.8 1943.7 973.5 Q1942.6 978.3 1940.8 984.2M1942.7 994.4 Q1944.5 1000.2 1943.7 1005.1 Q1942.5 1009.9 1940.7 1015.8M1942.7 1025.8 Q1944.5 1031.7 1943.6 1036.6 Q1942.4 1041.4 1940.6 1047.3M1942.8 1057.3 Q1944.6 1063.2 1943.6 1068.1 Q1942.3 1072.9 1940.5 1078.9M1945.3 1088.7 Q1948.0 1094.7 1947.1 1099.6 Q1945.5 1104.5 1942.8 1110.5M1945.4 1120.2 Q1948.1 1126.2 1947.1 1131.1 Q1945.4 1136.0 1942.7 1142.0M1945.4 1151.6 Q1948.1 1157.7 1947.0 1162.6 Q1945.3 1167.6 1942.6 1173.6M1945.5 1183.1 Q1948.2 1189.2 1947.0 1194.1 Q1945.2 1199.1 1942.5 1205.2" fill="none" stroke="#7d9cf3" stroke-width="5.2" stroke-linecap="round" stroke-linejoin="round"/>
<path d="M1946.5 101.8 L1941.6 112.2M1946.4 133.2 L1941.5 143.8M1946.4 164.7 L1942.0 173.8M1946.3 196.1 L1942.1 204.9M1943.8 227.6 L1939.9 235.5M1943.7 259.1 L1940.4 265.5M1943.7 290.5 L1940.5 296.6M1943.6 322.0 L1940.8 327.2M1946.0 353.4 L1943.4 358.2M1946.0 384.9 L1943.8 388.8M1945.9 416.3 L1943.9 419.9M1945.9 869.0 L1943.9 865.5M1946.0 900.5 L1943.6 896.0M1946.0 931.9 L1943.0 926.1M1943.6 963.4 L1940.0 956.2M1943.7 994.9 L1939.5 986.3M1943.7 1026.3 L1939.6 1017.8M1943.8 1057.8 L1939.5 1048.9M1946.3 1089.2 L1941.9 1080.0M1946.4 1120.7 L1942.0 1111.5M1946.4 1152.1 L1941.5 1141.6M1946.5 1183.6 L1941.6 1173.2" fill="none" stroke="#7d9cf3" stroke-width="4.8" stroke-linecap="round"/>
<path d="M1992.5 80.2 Q1996.1 86.3 1998.0 91.2 Q1999.1 96.2 1995.5 102.3M1992.6 111.8 Q1995.9 117.8 1997.6 122.7 Q1998.7 127.7 1995.4 133.7M1992.7 143.3 Q1995.6 149.3 1997.3 154.3 Q1998.3 159.2 1995.4 165.2M1992.8 174.9 Q1995.4 180.9 1996.9 185.8 Q1997.8 190.7 1995.3 196.6M1990.5 206.5 Q1992.6 212.4 1994.0 217.3 Q1994.9 222.1 1992.8 228.1M1990.6 238.0 Q1992.4 243.9 1993.6 248.8 Q1994.5 253.6 1992.7 259.6M1990.7 269.6 Q1992.1 275.5 1993.3 280.3 Q1994.1 285.1 1992.7 291.0M1990.8 301.2 Q1991.9 307.0 1992.9 311.8 Q1993.7 316.6 1992.6 322.5M1989.9 332.7 Q1990.6 338.6 1991.5 343.3 Q1992.3 348.1 1991.5 353.9M1990.0 364.3 Q1990.4 370.1 1991.2 374.8 Q1991.8 379.6 1991.5 385.4M1990.1 395.9 Q1990.1 401.6 1990.8 406.3 Q1991.4 411.1 1991.4 416.8M1990.3 427.4 Q1989.9 433.2 1990.4 437.9 Q1991.0 442.5 1991.4 448.3M1988.9 459.0 Q1988.2 464.7 1988.5 469.4 Q1989.1 474.0 1989.8 479.7M1989.0 490.6 Q1987.9 496.2 1988.2 500.9 Q1988.7 505.5 1989.8 511.2M1989.1 522.1 Q1987.7 527.8 1987.8 532.4 Q1988.3 537.0 1989.7 542.6M1989.2 553.7 Q1987.4 559.3 1987.4 563.9 Q1987.8 568.5 1989.6 574.1M1987.8 585.3 Q1985.7 590.9 1985.6 595.4 Q1985.9 600.0 1988.1 605.5M1987.9 616.8 Q1985.4 622.4 1985.2 626.9 Q1985.5 631.5 1988.0 637.0M1988.0 648.4 Q1985.5 653.9 1985.2 658.4 Q1985.4 663.0 1987.9 668.5M1988.1 679.8 Q1985.9 685.4 1985.6 689.9 Q1985.7 694.5 1987.8 700.1M1989.6 711.3 Q1987.8 716.9 1987.4 721.5 Q1987.4 726.0 1989.2 731.6M1989.7 742.7 Q1988.3 748.4 1987.8 753.0 Q1987.7 757.6 1989.1 763.2M1989.8 774.2 Q1988.7 779.8 1988.2 784.5 Q1987.9 789.1 1989.0 794.8M1989.8 805.6 Q1989.1 811.3 1988.5 816.0 Q1988.2 820.7 1988.9 826.4M1991.4 837.1 Q1991.0 842.8 1990.4 847.5 Q1989.9 852.2 1990.3 857.9M1991.4 868.5 Q1991.4 874.3 1990.8 879.0 Q1990.1 883.7 1990.1 889.5M1991.5 900.0 Q1991.8 905.8 1991.2 910.5 Q1990.4 915.3 1990.0 921.1M1991.5 931.4 Q1992.3 937.3 1991.5 942.0 Q1990.6 946.8 1989.9 952.6M1992.6 962.9 Q1993.7 968.8 1992.9 973.5 Q1991.9 978.3 1990.8 984.2M1992.7 994.4 Q1994.1 1000.2 1993.3 1005.1 Q1992.1 1009.9 1990.7 1015.8M1992.7 1025.8 Q1994.5 1031.7 1993.6 1036.6 Q1992.4 1041.4 1990.6 1047.3M1992.8 1057.3 Q1994.9 1063.2 1994.0 1068.1 Q1992.6 1072.9 1990.5 1078.9M1995.3 1088.7 Q1997.8 1094.7 1996.9 1099.6 Q1995.4 1104.5 1992.8 1110.5M1995.4 1120.2 Q1998.3 1126.2 1997.3 1131.1 Q1995.6 1136.0 1992.7 1142.0M1995.4 1151.6 Q1998.7 1157.7 1997.6 1162.6 Q1995.9 1167.6 1992.6 1173.6M1995.5 1183.1 Q1999.1 1189.2 1998.0 1194.1 Q1996.1 1199.1 1992.5 1205.2" fill="none" stroke="#7191ef" stroke-width="5.2" stroke-linecap="round" stroke-linejoin="round"/>
<path d="M1996.5 101.8 L1988.4 112.2M1996.4 133.2 L1988.3 143.8M1996.4 164.7 L1989.3 173.8M1996.3 196.1 L1989.5 204.9M1993.8 227.6 L1987.6 235.5M1993.7 259.1 L1988.6 265.5M1993.7 290.5 L1988.8 296.6M1993.6 322.0 L1989.4 327.2M1992.5 353.4 L1988.7 358.2M1992.5 384.9 L1989.3 388.8M1992.4 416.3 L1989.5 419.9M1992.4 869.0 L1989.5 865.5M1992.5 900.5 L1988.9 896.0M1992.5 931.9 L1987.9 926.1M1993.6 963.4 L1987.9 956.2M1993.7 994.9 L1987.0 986.3M1993.7 1026.3 L1987.1 1017.8M1993.8 1057.8 L1986.9 1048.9M1996.3 1089.2 L1989.1 1080.0M1996.4 1120.7 L1989.3 1111.5M1996.4 1152.1 L1988.3 1141.6M1996.5 1183.6 L1988.4 1173.2" fill="none" stroke="#7191ef" stroke-width="4.8" stroke-linecap="round"/>
<path d="M2037.5 80.2 Q2041.1 86.3 2043.0 91.2 Q2044.1 96.2 2040.5 102.3M2037.6 111.8 Q2041.0 117.8 2042.8 122.7 Q2043.8 127.7 2040.4 133.7M2037.7 143.3 Q2040.9 149.3 2042.6 154.3 Q2043.6 159.2 2040.4 165.2M2037.8 174.9 Q2040.8 180.9 2042.4 185.8 Q2043.3 190.7 2040.3 196.6M2036.5 206.5 Q2039.2 212.4 2040.7 217.3 Q2041.5 222.1 2038.8 228.1M2036.6 238.0 Q2039.1 243.9 2040.5 248.8 Q2041.3 253.6 2038.7 259.6M2036.7 269.6 Q2039.1 275.5 2040.3 280.3 Q2041.0 285.1 2038.7 291.0M2036.8 301.2 Q2039.0 307.0 2040.1 311.8 Q2040.8 316.6 2038.6 322.5M2036.9 332.7 Q2038.9 338.6 2039.9 343.3 Q2040.5 348.1 2038.5 353.9M2037.0 364.3 Q2038.8 370.1 2039.7 374.8 Q2040.2 379.6 2038.5 385.4M2037.1 395.9 Q2038.7 401.6 2039.5 406.3 Q2040.0 411.1 2038.4 416.8M2037.3 427.4 Q2038.6 433.2 2039.3 437.9 Q2039.7 442.5 2038.4 448.3M2036.4 459.0 Q2037.5 464.7 2038.1 469.4 Q2038.4 474.0 2037.3 479.7M2036.5 490.6 Q2037.4 496.2 2037.9 500.9 Q2038.2 505.5 2037.3 511.2M2036.6 522.1 Q2037.3 527.8 2037.7 532.4 Q2037.9 537.0 2037.2 542.6M2036.7 553.7 Q2037.2 559.3 2037.5 563.9 Q2037.7 568.5 2037.1 574.1M2036.8 585.3 Q2037.1 590.9 2037.3 595.4 Q2037.4 600.0 2037.1 605.5M2036.9 616.8 Q2037.0 622.4 2037.1 626.9 Q2037.1 631.5 2037.0 637.0M2037.0 648.4 Q2037.1 653.9 2037.1 658.4 Q2037.0 663.0 2036.9 668.5M2037.1 679.8 Q2037.4 685.4 2037.3 689.9 Q2037.1 694.5 2036.8 700.1M2037.1 711.3 Q2037.7 716.9 2037.5 721.5 Q2037.2 726.0 2036.7 731.6M2037.2 742.7 Q2037.9 748.4 2037.7 753.0 Q2037.3 757.6 2036.6 763.2M2037.3 774.2 Q2038.2 779.8 2037.9 784.5 Q2037.4 789.1 2036.5 794.8M2037.3 805.6 Q2038.4 811.3 2038.1 816.0 Q2037.5 820.7 2036.4 826.4M2038.4 837.1 Q2039.7 842.8 2039.3 847.5 Q2038.6 852.2 2037.3 857.9M2038.4 868.5 Q2040.0 874.3 2039.5 879.0 Q2038.7 883.7 2037.1 889.5M2038.5 900.0 Q2040.2 905.8 2039.7 910.5 Q2038.8 915.3 2037.0 921.1M2038.5 931.4 Q2040.5 937.3 2039.9 942.0 Q2038.9 946.8 2036.9 952.6M2038.6 962.9 Q2040.8 968.8 2040.1 973.5 Q2039.0 978.3 2036.8 984.2M2038.7 994.4 Q2041.0 1000.2 2040.3 1005.1 Q2039.1 1009.9 2036.7 1015.8M2038.7 1025.8 Q2041.3 1031.7 2040.5 1036.6 Q2039.1 1041.4 2036.6 1047.3M2038.8 1057.3 Q2041.5 1063.2 2040.7 1068.1 Q2039.2 1072.9 2036.5 1078.9M2040.3 1088.7 Q2043.3 1094.7 2042.4 1099.6 Q2040.8 1104.5 2037.8 1110.5M2040.4 1120.2 Q2043.6 1126.2 2042.6 1131.1 Q2040.9 1136.0 2037.7 1142.0M2040.4 1151.6 Q2043.8 1157.7 2042.8 1162.6 Q2041.0 1167.6 2037.6 1173.6M2040.5 1183.1 Q2044.1 1189.2 2043.0 1194.1 Q2041.1 1199.1 2037.5 1205.2" fill="none" stroke="#6584ea" stroke-width="5.2" stroke-linecap="round" stroke-linejoin="round"/>
<path d="M2041.5 101.8 L2031.1 112.2M2041.4 133.2 L2030.9 143.8M2041.4 164.7 L2032.2 173.8M2041.3 196.1 L2032.6 204.9M2039.8 227.6 L2031.9 235.5M2039.7 259.1 L2033.2 265.5M2039.7 290.5 L2033.6 296.6M2039.6 322.0 L2034.4 327.2M2039.5 353.4 L2034.7 358.2M2039.5 384.9 L2035.5 388.8M2039.4 416.3 L2035.9 419.9M2039.4 869.0 L2035.9 865.5M2039.5 900.5 L2035.0 896.0M2039.5 931.9 L2033.7 926.1M2039.6 963.4 L2032.4 956.2M2039.7 994.9 L2031.1 986.3M2039.7 1026.3 L2031.2 1017.8M2039.8 1057.8 L2030.9 1048.9M2041.3 1089.2 L2032.1 1080.0M2041.4 1120.7 L2032.2 1111.5M2041.4 1152.1 L2030.9 1141.6M2041.5 1183.6 L2031.1 1173.2" fill="none" stroke="#6584ea" stroke-width="4.8" stroke-linecap="round"/>
<path d="M2080.0 80.2 Q2083.6 86.3 2085.5 91.2 Q2086.6 96.2 2083.0 102.3M2080.1 111.8 Q2083.7 117.8 2085.5 122.7 Q2086.5 127.7 2082.9 133.7M2080.2 143.3 Q2083.8 149.3 2085.6 154.3 Q2086.5 159.2 2082.9 165.2M2080.3 174.9 Q2083.9 180.9 2085.6 185.8 Q2086.4 190.7 2082.8 196.6M2079.5 206.5 Q2083.1 212.4 2084.6 217.3 Q2085.4 222.1 2081.8 228.1M2079.6 238.0 Q2083.2 243.9 2084.6 248.8 Q2085.3 253.6 2081.7 259.6M2079.7 269.6 Q2083.3 275.5 2084.7 280.3 Q2085.3 285.1 2081.7 291.0M2079.8 301.2 Q2083.4 307.0 2084.7 311.8 Q2085.2 316.6 2081.6 322.5M2080.9 332.7 Q2084.5 338.6 2085.7 343.3 Q2086.1 348.1 2082.5 353.9M2081.0 364.3 Q2084.6 370.1 2085.8 374.8 Q2086.1 379.6 2082.5 385.4M2081.1 395.9 Q2084.7 401.6 2085.8 406.3 Q2086.0 411.1 2082.4 416.8M2081.3 427.4 Q2084.9 433.2 2085.8 437.9 Q2086.0 442.5 2082.4 448.3M2081.4 459.0 Q2085.0 464.7 2085.8 469.4 Q2085.9 474.0 2082.3 479.7M2081.5 490.6 Q2085.1 496.2 2085.9 500.9 Q2085.9 505.5 2082.3 511.2M2081.6 522.1 Q2085.2 527.8 2085.9 532.4 Q2085.8 537.0 2082.2 542.6M2081.7 553.7 Q2085.3 559.3 2085.9 563.9 Q2085.7 568.5 2082.1 574.1M2082.8 585.3 Q2086.4 590.9 2087.0 595.4 Q2086.7 600.0 2083.1 605.5M2082.9 616.8 Q2086.5 622.4 2087.0 626.9 Q2086.6 631.5 2083.0 637.0M2083.0 648.4 Q2086.6 653.9 2087.0 658.4 Q2086.5 663.0 2082.9 668.5M2083.1 679.8 Q2086.7 685.4 2087.0 689.9 Q2086.4 694.5 2082.8 700.1M2082.1 711.3 Q2085.7 716.9 2085.9 721.5 Q2085.3 726.0 2081.7 731.6M2082.2 742.7 Q2085.8 748.4 2085.9 753.0 Q2085.2 757.6 2081.6 763.2M2082.3 774.2 Q2085.9 779.8 2085.9 784.5 Q2085.1 789.1 2081.5 794.8M2082.3 805.6 Q2085.9 811.3 2085.8 816.0 Q2085.0 820.7 2081.4 826.4M2082.4 837.1 Q2086.0 842.8 2085.8 847.5 Q2084.9 852.2 2081.3 857.9M2082.4 868.5 Q2086.0 874.3 2085.8 879.0 Q2084.7 883.7 2081.1 889.5M2082.5 900.0 Q2086.1 905.8 2085.8 910.5 Q2084.6 915.3 2081.0 921.1M2082.5 931.4 Q2086.1 937.3 2085.7 942.0 Q2084.5 946.8 2080.9 952.6M2081.6 962.9 Q2085.2 968.8 2084.7 973.5 Q2083.4 978.3 2079.8 984.2M2081.7 994.4 Q2085.3 1000.2 2084.7 1005.1 Q2083.3 1009.9 2079.7 1015.8M2081.7 1025.8 Q2085.3 1031.7 2084.6 1036.6 Q2083.2 1041.4 2079.6 1047.3M2081.8 1057.3 Q2085.4 1063.2 2084.6 1068.1 Q2083.1 1072.9 2079.5 1078.9M2082.8 1088.7 Q2086.4 1094.7 2085.6 1099.6 Q2083.9 1104.5 2080.3 1110.5M2082.9 1120.2 Q2086.5 1126.2 2085.6 1131.1 Q2083.8 1136.0 2080.2 1142.0M2082.9 1151.6 Q2086.5 1157.7 2085.5 1162.6 Q2083.7 1167.6 2080.1 1173.6M2083.0 1183.1 Q2086.6 1189.2 2085.5 1194.1 Q2083.6 1199.1 2080.0 1205.2" fill="none" stroke="#4f68d6" stroke-width="5.2" stroke-linecap="round" stroke-linejoin="round"/>
<path d="M2084.0 101.8 L2072.0 112.2M2083.9 133.2 L2071.8 143.8M2083.9 164.7 L2073.4 173.8M2083.8 196.1 L2073.8 204.9M2082.8 227.6 L2073.8 235.5M2082.7 259.1 L2075.3 265.5M2082.7 290.5 L2075.7 296.6M2082.6 322.0 L2076.7 327.2M2083.5 353.4 L2078.1 358.2M2083.5 384.9 L2079.0 388.8M2083.4 416.3 L2079.4 419.9M2083.4 869.0 L2079.4 865.5M2083.5 900.5 L2078.5 896.0M2083.5 931.9 L2076.9 926.1M2082.6 963.4 L2074.3 956.2M2082.7 994.9 L2072.8 986.3M2082.7 1026.3 L2073.0 1017.8M2082.8 1057.8 L2072.6 1048.9M2083.8 1089.2 L2073.2 1080.0M2083.9 1120.7 L2073.4 1111.5M2083.9 1152.1 L2071.8 1141.6M2084.0 1183.6 L2072.0 1173.2" fill="none" stroke="#4f68d6" stroke-width="4.8" stroke-linecap="round"/>
<path d="M2120.0 80.2 Q2123.6 86.3 2125.5 91.2 Q2126.6 96.2 2123.0 102.3M2120.1 111.8 Q2123.8 117.8 2125.6 122.7 Q2126.6 127.7 2122.9 133.7M2120.2 143.3 Q2123.9 149.3 2125.7 154.3 Q2126.6 159.2 2122.9 165.2M2120.3 174.9 Q2124.1 180.9 2125.8 185.8 Q2126.6 190.7 2122.8 196.6M2121.5 206.5 Q2125.3 212.4 2126.8 217.3 Q2127.6 222.1 2123.8 228.1M2121.6 238.0 Q2125.4 243.9 2126.9 248.8 Q2127.6 253.6 2123.7 259.6M2121.7 269.6 Q2125.6 275.5 2127.0 280.3 Q2127.6 285.1 2123.7 291.0M2121.8 301.2 Q2125.8 307.0 2127.1 311.8 Q2127.6 316.6 2123.6 322.5M2124.9 332.7 Q2128.9 338.6 2130.2 343.3 Q2130.6 348.1 2126.5 353.9M2125.0 364.3 Q2129.1 370.1 2130.3 374.8 Q2130.5 379.6 2126.5 385.4M2125.1 395.9 Q2129.3 401.6 2130.4 406.3 Q2130.5 411.1 2126.4 416.8M2125.3 427.4 Q2129.4 433.2 2130.4 437.9 Q2130.5 442.5 2126.4 448.3M2126.4 459.0 Q2130.6 464.7 2131.5 469.4 Q2131.5 474.0 2127.3 479.7M2126.5 490.6 Q2130.8 496.2 2131.6 500.9 Q2131.5 505.5 2127.3 511.2M2126.6 522.1 Q2130.9 527.8 2131.7 532.4 Q2131.5 537.0 2127.2 542.6M2126.7 553.7 Q2131.1 559.3 2131.8 563.9 Q2131.5 568.5 2127.1 574.1M2126.8 585.3 Q2131.3 590.9 2131.9 595.4 Q2131.5 600.0 2127.1 605.5M2126.9 616.8 Q2131.4 622.4 2132.0 626.9 Q2131.5 631.5 2127.0 637.0M2127.0 648.4 Q2131.5 653.9 2132.0 658.4 Q2131.4 663.0 2126.9 668.5M2127.1 679.8 Q2131.5 685.4 2131.9 689.9 Q2131.3 694.5 2126.8 700.1M2127.1 711.3 Q2131.5 716.9 2131.8 721.5 Q2131.1 726.0 2126.7 731.6M2127.2 742.7 Q2131.5 748.4 2131.7 753.0 Q2130.9 757.6 2126.6 763.2M2127.3 774.2 Q2131.5 779.8 2131.6 784.5 Q2130.8 789.1 2126.5 794.8M2127.3 805.6 Q2131.5 811.3 2131.5 816.0 Q2130.6 820.7 2126.4 826.4M2126.4 837.1 Q2130.5 842.8 2130.4 847.5 Q2129.4 852.2 2125.3 857.9M2126.4 868.5 Q2130.5 874.3 2130.4 879.0 Q2129.3 883.7 2125.1 889.5M2126.5 900.0 Q2130.5 905.8 2130.3 910.5 Q2129.1 915.3 2125.0 921.1M2126.5 931.4 Q2130.6 937.3 2130.2 942.0 Q2128.9 946.8 2124.9 952.6M2123.6 962.9 Q2127.6 968.8 2127.1 973.5 Q2125.8 978.3 2121.8 984.2M2123.7 994.4 Q2127.6 1000.2 2127.0 1005.1 Q2125.6 1009.9 2121.7 1015.8M2123.7 1025.8 Q2127.6 1031.7 2126.9 1036.6 Q2125.4 1041.4 2121.6 1047.3M2123.8 1057.3 Q2127.6 1063.2 2126.8 1068.1 Q2125.3 1072.9 2121.5 1078.9M2122.8 1088.7 Q2126.6 1094.7 2125.8 1099.6 Q2124.1 1104.5 2120.3 1110.5M2122.9 1120.2 Q2126.6 1126.2 2125.7 1131.1 Q2123.9 1136.0 2120.2 1142.0M2122.9 1151.6 Q2126.6 1157.7 2125.6 1162.6 Q2123.8 1167.6 2120.1 1173.6M2123.0 1183.1 Q2126.6 1189.2 2125.5 1194.1 Q2123.6 1199.1 2120.0 1205.2" fill="none" stroke="#4156ca" stroke-width="5.2" stroke-linecap="round" stroke-linejoin="round"/>
<path d="M2124.0 101.8 L2110.5 112.2M2123.9 133.2 L2110.2 143.8M2123.9 164.7 L2112.0 173.8M2123.8 196.1 L2112.5 204.9M2124.8 227.6 L2114.6 235.5M2124.7 259.1 L2116.4 265.5M2124.7 290.5 L2116.9 296.6M2124.6 322.0 L2118.0 327.2M2127.5 353.4 L2121.4 358.2M2127.5 384.9 L2122.6 388.8M2127.4 416.3 L2123.0 419.9M2127.4 869.0 L2123.0 865.5M2127.5 900.5 L2121.9 896.0M2127.5 931.9 L2120.1 926.1M2124.6 963.4 L2115.3 956.2M2124.7 994.9 L2113.5 986.3M2124.7 1026.3 L2113.7 1017.8M2124.8 1057.8 L2113.3 1048.9M2123.8 1089.2 L2111.8 1080.0M2123.9 1120.7 L2112.0 1111.5M2123.9 1152.1 L2110.2 1141.6M2124.0 1183.6 L2110.5 1173.2" fill="none" stroke="#4156ca" stroke-width="4.8" stroke-linecap="round"/>
<defs><linearGradient id="pb" gradientUnits="userSpaceOnUse" x1="1240" y1="0" x2="1730" y2="0"><stop offset="0" stop-color="#f8c9b5"/><stop offset="0.5" stop-color="#f4d6cc"/><stop offset="0.75" stop-color="#d9def0"/><stop offset="1" stop-color="#b0c8f8"/></linearGradient></defs>
<path d="M1262.0 84.5 L1300.0 84.3 L1400.0 82.0 L1560.0 79.5 L1724.0 77.0 L1842.0 77.0 L1842.0 83.5 L1724.0 84.0 L1724.0 93.0 L1640.0 92.0 L1560.0 90.5 L1480.0 90.0 L1400.0 90.5 L1300.0 91.0 L1262.0 91.5Z" fill="url(#pb)" />
<path d="M1228.5 400.0 C1228.8 388.3 1228.6 357.5 1230.0 330.0 C1231.4 302.5 1235.0 267.5 1237.0 235.0 C1239.0 202.5 1240.6 156.7 1241.7 135.0 C1242.8 113.3 1242.1 112.3 1243.5 105.0 C1244.9 97.7 1246.4 93.8 1250.0 91.0 C1253.6 88.2 1256.7 88.6 1265.0 88.0 C1273.3 87.4 1294.2 87.6 1300.0 87.5" fill="none" stroke="#f8c9b5" stroke-width="8.00" stroke-linejoin="round" stroke-linecap="round" />
<path d="M1236.5 400.0 C1236.7 388.3 1236.3 357.5 1237.5 330.0 C1238.7 302.5 1242.0 267.5 1243.7 235.0 C1245.4 202.5 1246.7 155.5 1247.7 135.0 C1248.7 114.5 1248.1 118.0 1249.5 112.0 C1250.9 106.0 1252.6 101.8 1256.0 99.0 C1259.4 96.2 1262.7 96.3 1270.0 95.5 C1277.3 94.7 1284.7 94.8 1300.0 94.0 C1315.3 93.2 1340.3 91.6 1362.0 90.6 C1383.7 89.6 1418.7 88.4 1430.0 88.0" fill="none" stroke="#f8d3c6" stroke-width="4.60" stroke-linejoin="round" stroke-linecap="round" />
<path d="M1232.5 400.0 C1232.8 388.3 1232.7 357.5 1234.0 330.0 C1235.3 302.5 1238.8 267.5 1240.6 235.0 C1242.4 202.5 1244.0 156.2 1245.0 135.0 C1246.0 113.8 1245.2 114.7 1246.5 108.0 C1247.8 101.3 1249.1 97.7 1253.0 95.0 C1256.9 92.3 1262.2 92.6 1270.0 92.0 C1277.8 91.4 1284.7 91.8 1300.0 91.2 C1315.3 90.6 1351.7 89.0 1362.0 88.5" fill="none" stroke="#a83a3a" stroke-width="0.90" stroke-linejoin="round" stroke-linecap="round" stroke-dasharray="14 5"/>
<path d="M1262.0 1199.9 L1300.0 1200.1 L1400.0 1202.4 L1560.0 1204.9 L1724.0 1207.4 L1842.0 1207.4 L1842.0 1200.9 L1724.0 1200.4 L1724.0 1191.4 L1640.0 1192.4 L1560.0 1193.9 L1480.0 1194.4 L1400.0 1193.9 L1300.0 1193.4 L1262.0 1192.9Z" fill="url(#pb)" />
<path d="M1228.5 884.4 C1228.8 896.1 1228.6 926.9 1230.0 954.4 C1231.4 981.9 1235.0 1016.9 1237.0 1049.4 C1239.0 1081.9 1240.6 1127.7 1241.7 1149.4 C1242.8 1171.1 1242.1 1172.1 1243.5 1179.4 C1244.9 1186.7 1246.4 1190.6 1250.0 1193.4 C1253.6 1196.2 1256.7 1195.8 1265.0 1196.4 C1273.3 1197.0 1294.2 1196.8 1300.0 1196.9" fill="none" stroke="#f8c9b5" stroke-width="8.00" stroke-linejoin="round" stroke-linecap="round" />
<path d="M1236.5 884.4 C1236.7 896.1 1236.3 926.9 1237.5 954.4 C1238.7 981.9 1242.0 1016.9 1243.7 1049.4 C1245.4 1081.9 1246.7 1128.9 1247.7 1149.4 C1248.7 1169.9 1248.1 1166.4 1249.5 1172.4 C1250.9 1178.4 1252.6 1182.6 1256.0 1185.4 C1259.4 1188.1 1262.7 1188.1 1270.0 1188.9 C1277.3 1189.7 1284.7 1189.6 1300.0 1190.4 C1315.3 1191.2 1340.3 1192.8 1362.0 1193.8 C1383.7 1194.8 1418.7 1196.0 1430.0 1196.4" fill="none" stroke="#f8d3c6" stroke-width="4.60" stroke-linejoin="round" stroke-linecap="round" />
<path d="M1232.5 884.4 C1232.8 896.1 1232.7 926.9 1234.0 954.4 C1235.3 981.9 1238.8 1016.9 1240.6 1049.4 C1242.4 1081.9 1244.0 1128.2 1245.0 1149.4 C1246.0 1170.6 1245.2 1169.7 1246.5 1176.4 C1247.8 1183.1 1249.1 1186.7 1253.0 1189.4 C1256.9 1192.1 1262.2 1191.8 1270.0 1192.4 C1277.8 1193.0 1284.7 1192.6 1300.0 1193.2 C1315.3 1193.8 1351.7 1195.4 1362.0 1195.9" fill="none" stroke="#a83a3a" stroke-width="0.90" stroke-linejoin="round" stroke-linecap="round" stroke-dasharray="14 5"/>
<path d="M1510.0 91.0 C1498.3 91.2 1457.8 91.3 1440.0 92.0 C1422.2 92.7 1415.5 93.3 1403.0 95.0 C1390.5 96.7 1375.0 99.3 1365.0 102.0 C1355.0 104.7 1348.5 107.5 1343.0 111.0 C1337.5 114.5 1334.5 116.5 1332.0 123.0 C1329.5 129.5 1329.3 137.2 1328.0 150.0 C1326.7 162.8 1325.2 183.3 1324.0 200.0 C1322.8 216.7 1322.2 233.3 1320.5 250.0 C1318.8 266.7 1315.8 285.5 1314.0 300.0 C1312.2 314.5 1311.3 325.3 1310.0 337.0 C1308.7 348.7 1307.0 357.5 1306.0 370.0 C1305.0 382.5 1303.8 396.7 1304.0 412.0 C1304.2 427.3 1305.1 447.3 1307.0 462.0 C1308.9 476.7 1312.0 485.3 1315.5 500.0 C1319.0 514.7 1324.6 533.3 1328.0 550.0 C1331.4 566.7 1333.9 584.7 1336.0 600.0 C1338.1 615.3 1340.6 625.3 1340.5 642.0 C1340.4 658.7 1338.6 682.0 1335.5 700.0 C1332.4 718.0 1326.4 733.3 1322.0 750.0 C1317.6 766.7 1311.8 783.3 1309.0 800.0 C1306.2 816.7 1305.6 833.3 1305.0 850.0 C1304.4 866.7 1304.2 883.3 1305.5 900.0 C1306.8 916.7 1310.5 933.3 1313.0 950.0 C1315.5 966.7 1318.7 983.3 1320.5 1000.0 C1322.3 1016.7 1322.9 1033.3 1324.0 1050.0 C1325.1 1066.7 1326.2 1083.3 1327.0 1100.0 C1327.8 1116.7 1327.6 1139.0 1329.0 1150.0 C1330.4 1161.0 1331.5 1161.3 1335.5 1166.0 C1339.5 1170.7 1343.8 1174.4 1353.0 1178.0 C1362.2 1181.6 1375.9 1184.7 1390.5 1187.5 C1405.1 1190.3 1420.6 1193.1 1440.5 1195.0 C1460.4 1196.9 1498.4 1198.3 1510.0 1199.0" fill="none" stroke="#f7dcdc" stroke-width="4.30" stroke-linejoin="round" stroke-linecap="round" />
<path d="M1560.0 88.0 C1550.5 88.3 1518.0 88.3 1503.0 90.0 C1488.0 91.7 1478.0 94.8 1470.0 98.0 C1462.0 101.2 1458.7 104.5 1455.0 109.0 C1451.3 113.5 1449.6 118.2 1448.0 125.0 C1446.4 131.8 1446.8 141.7 1445.5 150.0 C1444.2 158.3 1442.2 166.7 1440.5 175.0 C1438.8 183.3 1437.0 192.5 1435.5 200.0 C1434.0 207.5 1431.4 214.5 1431.5 220.0 C1431.6 225.5 1432.4 230.4 1436.0 233.0 C1439.6 235.6 1447.2 236.0 1453.0 235.5 C1458.8 235.0 1465.8 230.4 1470.5 230.0 C1475.2 229.6 1478.8 230.5 1481.0 233.0 C1483.2 235.5 1484.2 238.0 1483.5 245.0 C1482.8 252.0 1480.0 263.8 1477.0 275.0 C1474.0 286.2 1468.7 302.0 1465.5 312.0 C1462.3 322.0 1459.8 327.5 1458.0 335.0 C1456.2 342.5 1454.0 351.0 1454.5 357.0 C1455.0 363.0 1457.1 368.1 1461.0 371.0 C1464.9 373.9 1473.1 374.5 1478.0 374.5 C1482.9 374.5 1487.2 370.2 1490.5 371.0 C1493.8 371.8 1497.2 374.2 1497.5 379.0 C1497.8 383.8 1494.4 392.3 1492.0 400.0 C1489.6 407.7 1485.5 416.7 1483.0 425.0 C1480.5 433.3 1478.7 442.0 1477.0 450.0 C1475.3 458.0 1472.8 467.0 1473.0 473.0 C1473.2 479.0 1475.1 482.8 1478.0 486.0 C1480.9 489.2 1486.8 489.8 1490.5 492.5 C1494.2 495.2 1499.4 496.6 1500.5 502.0 C1501.6 507.4 1498.4 517.0 1497.0 525.0 C1495.6 533.0 1493.3 542.0 1492.0 550.0 C1490.7 558.0 1489.2 566.8 1489.0 573.0 C1488.8 579.2 1489.2 583.0 1490.5 587.5 C1491.8 592.0 1495.5 593.8 1497.0 600.0 C1498.5 606.2 1498.9 616.7 1499.5 625.0 C1500.1 633.3 1500.6 641.7 1500.5 650.0 C1500.4 658.3 1500.2 668.8 1499.0 675.0 C1497.8 681.2 1494.8 683.3 1493.0 687.5 C1491.2 691.7 1488.4 693.8 1488.0 700.0 C1487.6 706.2 1489.0 716.7 1490.5 725.0 C1492.0 733.3 1495.3 742.0 1497.0 750.0 C1498.7 758.0 1500.3 767.0 1500.5 773.0 C1500.7 779.0 1500.9 782.8 1498.0 786.0 C1495.1 789.2 1487.0 790.2 1483.0 792.5 C1479.0 794.8 1475.8 796.6 1474.0 800.0 C1472.2 803.4 1471.8 806.8 1472.5 813.0 C1473.2 819.2 1475.2 827.2 1478.0 837.5 C1480.8 847.8 1485.9 864.9 1489.0 875.0 C1492.1 885.1 1495.7 892.2 1496.5 898.0 C1497.3 903.8 1496.8 907.4 1494.0 910.0 C1491.2 912.6 1484.8 913.5 1480.0 913.5 C1475.2 913.5 1469.3 909.8 1465.5 910.0 C1461.7 910.2 1458.8 912.2 1457.0 915.0 C1455.2 917.8 1454.7 921.2 1455.0 927.0 C1455.3 932.8 1457.0 942.0 1459.0 950.0 C1461.0 958.0 1464.0 964.6 1467.0 975.0 C1470.0 985.4 1474.3 1002.0 1477.0 1012.5 C1479.7 1023.0 1482.7 1031.6 1483.0 1038.0 C1483.3 1044.4 1481.9 1048.0 1479.0 1051.0 C1476.1 1054.0 1471.5 1055.9 1465.5 1056.0 C1459.5 1056.1 1448.6 1051.2 1443.0 1051.5 C1437.4 1051.8 1433.5 1054.1 1432.0 1058.0 C1430.5 1061.9 1432.2 1065.9 1434.0 1075.0 C1435.8 1084.1 1440.7 1100.0 1443.0 1112.5 C1445.3 1125.0 1446.3 1140.4 1448.0 1150.0 C1449.7 1159.6 1450.1 1164.6 1453.0 1170.0 C1455.9 1175.4 1459.2 1179.2 1465.5 1182.5 C1471.8 1185.8 1474.8 1187.6 1490.5 1190.0 C1506.2 1192.4 1548.4 1195.8 1560.0 1197.0" fill="none" stroke="#ecdcee" stroke-width="4.30" stroke-linejoin="round" stroke-linecap="round" />
<path d="M1640.0 90.0 C1629.5 90.6 1620.0 89.2 1603.0 92.0 C1586.0 94.8 1591.3 94.9 1580.0 100.0 C1568.7 105.1 1566.1 104.9 1563.0 110.0 C1559.9 115.1 1565.6 113.4 1569.0 117.9 C1572.4 122.3 1575.0 121.3 1575.0 125.8 C1575.0 130.2 1572.4 129.2 1569.0 133.6 C1565.6 138.1 1563.0 137.0 1563.0 141.5 C1563.0 146.0 1565.6 144.9 1569.0 149.4 C1572.4 153.9 1575.0 152.8 1575.0 157.3 C1575.0 161.7 1572.4 160.7 1569.0 165.1 C1565.6 169.6 1562.9 168.6 1562.9 173.0 C1562.9 177.5 1565.5 176.4 1569.0 180.9 C1572.5 185.4 1574.8 184.3 1575.3 188.8 C1575.8 193.2 1571.5 192.2 1570.7 196.7 C1569.9 201.1 1569.4 200.1 1572.5 204.5 C1575.5 209.0 1577.1 207.9 1581.5 212.4 C1585.9 216.9 1588.1 215.8 1588.1 220.3 C1588.1 224.8 1585.3 223.7 1581.5 228.2 C1577.7 232.6 1574.7 231.6 1574.7 236.0 C1574.7 240.5 1577.6 239.5 1581.5 243.9 C1585.4 248.4 1588.4 247.3 1588.4 251.8 C1588.4 256.3 1585.5 255.2 1581.5 259.7 C1577.5 264.1 1574.4 263.1 1574.4 267.6 C1574.4 272.0 1577.4 271.0 1581.5 275.4 C1585.6 279.9 1588.8 278.8 1588.8 283.3 C1588.8 287.8 1585.7 286.7 1581.5 291.2 C1577.3 295.7 1574.1 294.6 1574.1 299.1 C1574.1 303.5 1577.2 302.5 1581.5 306.9 C1585.8 311.4 1588.8 310.4 1589.1 314.8 C1589.4 319.3 1583.5 318.2 1582.5 322.7 C1581.5 327.2 1581.1 326.1 1585.5 330.6 C1589.9 335.0 1592.2 334.0 1598.0 338.5 C1603.8 342.9 1605.9 341.9 1605.9 346.3 C1605.9 350.8 1602.5 349.7 1598.0 354.2 C1593.5 358.7 1589.9 357.6 1589.9 362.1 C1589.9 366.6 1593.4 365.5 1598.0 370.0 C1602.6 374.4 1606.2 373.4 1606.2 377.8 C1606.2 382.3 1602.7 381.3 1598.0 385.7 C1593.3 390.2 1589.6 389.1 1589.6 393.6 C1589.6 398.1 1593.2 397.0 1598.0 401.5 C1602.8 405.9 1606.6 404.9 1606.6 409.4 C1606.6 413.8 1602.9 412.8 1598.0 417.2 C1593.1 421.7 1589.3 420.6 1589.3 425.1 C1589.3 429.6 1593.0 428.5 1598.0 433.0 C1603.0 437.5 1603.4 436.4 1606.9 440.9 C1610.4 445.3 1609.2 444.3 1610.4 448.7 C1611.5 453.2 1608.2 452.2 1610.9 456.6 C1613.7 461.1 1614.8 460.0 1620.0 464.5 C1625.2 469.0 1629.2 467.9 1629.2 472.4 C1629.2 476.8 1625.3 475.8 1620.0 480.3 C1614.7 484.7 1610.6 483.7 1610.6 488.1 C1610.6 492.6 1614.6 491.5 1620.0 496.0 C1625.4 500.5 1629.6 499.4 1629.6 503.9 C1629.6 508.4 1625.5 507.3 1620.0 511.8 C1614.5 516.2 1610.3 515.2 1610.3 519.6 C1610.3 524.1 1614.4 523.1 1620.0 527.5 C1625.6 532.0 1629.9 530.9 1629.9 535.4 C1629.9 539.9 1625.7 538.8 1620.0 543.3 C1614.3 547.7 1609.9 546.7 1609.9 551.2 C1609.9 555.6 1614.3 554.6 1620.0 559.0 C1625.7 563.5 1628.4 562.4 1630.2 566.9 C1632.1 571.4 1629.5 570.3 1626.5 574.8 C1623.5 579.3 1618.6 578.2 1619.6 582.7 C1620.6 587.1 1624.1 586.1 1630.0 590.5 C1635.9 595.0 1640.5 594.0 1640.5 598.4 C1640.5 602.9 1636.0 601.8 1630.0 606.3 C1624.0 610.8 1619.3 609.7 1619.3 614.2 C1619.3 618.6 1623.9 617.6 1630.0 622.1 C1636.1 626.5 1640.9 625.5 1640.9 629.9 C1640.9 634.4 1636.2 633.3 1630.0 637.8 C1623.8 642.3 1619.0 641.2 1619.0 645.7 C1619.0 650.2 1623.8 649.1 1630.0 653.6 C1636.2 658.0 1640.8 657.0 1640.8 661.4 C1640.8 665.9 1636.1 664.9 1630.0 669.3 C1623.9 673.8 1619.4 672.7 1619.4 677.2 C1619.4 681.7 1624.0 680.6 1630.0 685.1 C1636.0 689.5 1640.7 688.5 1640.5 693.0 C1640.3 697.4 1637.4 696.4 1629.2 700.8 C1621.1 705.3 1614.6 704.2 1611.7 708.7 C1608.8 713.2 1614.1 712.1 1619.0 716.6 C1623.9 721.1 1629.1 720.0 1629.1 724.5 C1629.1 728.9 1624.7 727.9 1619.0 732.3 C1613.3 736.8 1609.0 735.8 1609.0 740.2 C1609.0 744.7 1613.4 743.6 1619.0 748.1 C1624.6 752.6 1628.8 751.5 1628.8 756.0 C1628.8 760.4 1624.5 759.4 1619.0 763.9 C1613.5 768.3 1609.4 767.3 1609.4 771.7 C1609.4 776.2 1613.6 775.1 1619.0 779.6 C1624.4 784.1 1628.5 783.0 1628.5 787.5 C1628.5 792.0 1624.3 790.9 1619.0 795.4 C1613.7 799.8 1609.7 798.8 1609.7 803.2 C1609.7 807.7 1613.8 806.7 1619.0 811.1 C1624.2 815.6 1629.1 814.5 1628.2 819.0 C1627.2 823.5 1625.7 822.4 1615.7 826.9 C1605.7 831.3 1598.0 830.3 1592.9 834.8 C1587.9 839.2 1594.1 838.2 1598.0 842.6 C1601.9 847.1 1606.8 846.0 1606.8 850.5 C1606.8 855.0 1603.0 853.9 1598.0 858.4 C1593.0 862.9 1589.3 861.8 1589.3 866.3 C1589.3 870.7 1593.1 869.7 1598.0 874.1 C1602.9 878.6 1606.5 877.6 1606.5 882.0 C1606.5 886.5 1602.8 885.4 1598.0 889.9 C1593.2 894.4 1589.7 893.3 1589.7 897.8 C1589.7 902.2 1593.3 901.2 1598.0 905.7 C1602.7 910.1 1606.2 909.1 1606.2 913.5 C1606.2 918.0 1602.6 916.9 1598.0 921.4 C1593.4 925.9 1590.0 924.8 1590.0 929.3 C1590.0 933.8 1595.5 932.7 1598.0 937.2 C1600.5 941.6 1602.7 940.6 1598.8 945.0 C1594.8 949.5 1590.4 948.5 1584.0 952.9 C1577.6 957.4 1576.3 956.3 1576.3 960.8 C1576.3 965.3 1579.7 964.2 1584.0 968.7 C1588.3 973.1 1591.5 972.1 1591.5 976.6 C1591.5 981.0 1588.2 980.0 1584.0 984.4 C1579.8 988.9 1576.6 987.8 1576.6 992.3 C1576.6 996.8 1579.9 995.7 1584.0 1000.2 C1588.1 1004.7 1591.2 1003.6 1591.2 1008.1 C1591.2 1012.5 1588.0 1011.5 1584.0 1015.9 C1580.0 1020.4 1577.0 1019.4 1577.0 1023.8 C1577.0 1028.3 1580.1 1027.2 1584.0 1031.7 C1587.9 1036.2 1590.9 1035.1 1590.9 1039.6 C1590.9 1044.0 1587.8 1043.0 1584.0 1047.5 C1580.2 1051.9 1577.3 1050.9 1577.3 1055.3 C1577.3 1059.8 1580.3 1058.7 1584.0 1063.2 C1587.7 1067.7 1590.5 1066.6 1590.5 1071.1 C1590.5 1075.6 1589.0 1074.5 1584.0 1079.0 C1579.0 1083.4 1576.7 1082.4 1572.8 1086.8 C1569.0 1091.3 1569.4 1090.3 1570.5 1094.7 C1571.6 1099.2 1576.7 1098.1 1576.7 1102.6 C1576.7 1107.1 1574.0 1106.0 1570.5 1110.5 C1567.0 1114.9 1564.5 1113.9 1564.5 1118.4 C1564.5 1122.8 1567.1 1121.8 1570.5 1126.2 C1573.9 1130.7 1576.5 1129.6 1576.5 1134.1 C1576.5 1138.6 1573.9 1137.5 1570.5 1142.0 C1567.1 1146.5 1564.5 1145.4 1564.5 1149.9 C1564.5 1154.3 1567.1 1153.3 1570.5 1157.7 C1573.9 1162.2 1576.5 1161.2 1576.5 1165.6 C1576.5 1170.1 1569.5 1168.3 1570.5 1173.5 C1571.5 1178.7 1570.8 1178.8 1580.0 1184.0 C1589.2 1189.2 1586.0 1188.9 1603.0 1192.0 C1620.0 1195.1 1629.5 1194.2 1640.0 1195.0" fill="none" stroke="#d2d6f6" stroke-width="4.80" stroke-linejoin="round" stroke-linecap="round" />
<path d="M1211.3 352.0 L1214.0 348.5 L1221.0 350.0 L1223.5 370.0 L1224.0 400.0 L1223.5 421.0 L1219.5 443.0 L1218.5 466.0 L1217.0 500.0 L1216.0 560.0 L1214.5 610.0 L1213.2 642.0 L1214.5 673.6 L1216.0 723.6 L1217.0 783.6 L1218.5 817.6 L1219.5 840.6 L1223.5 862.6 L1224.0 883.6 L1223.5 913.6 L1221.0 933.6 L1214.0 935.1 L1211.3 931.6 L1211.3 930.0 L1211.3 352.0Z" fill="#4cec08" />
<path d="M1223.5 415.0 L1219.5 443.0 L1218.5 466.0 L1217.0 500.0 L1216.0 560.0 L1214.5 610.0 L1213.2 642.0 L1214.5 673.6 L1216.0 723.6 L1217.0 783.6 L1218.5 817.6 L1219.5 840.6 L1223.5 868.6 L1222.5 641.6 L1222.5 723.6 L1224.0 793.6 L1229.0 817.6 L1226.0 440.0 L1229.0 466.0 L1224.0 490.0 L1222.5 560.0 L1222.5 642.0Z" fill="#2d3a92" />
<defs><radialGradient id="lg" gradientUnits="userSpaceOnUse" cx="0" cy="0" r="1" gradientTransform="translate(1266 641.8) scale(42 150)"><stop offset="0" stop-color="#e66e58"/><stop offset="0.35" stop-color="#ec8a72"/><stop offset="0.65" stop-color="#f2b09a"/><stop offset="0.9" stop-color="#f8c9b5"/><stop offset="1" stop-color="#f8c9b5"/></radialGradient></defs>
<path d="M1239.0 400.0 C1239.2 403.3 1239.7 413.3 1240.5 420.0 C1241.3 426.7 1242.0 432.5 1243.8 440.0 C1245.5 447.5 1247.9 457.2 1251.0 465.0 C1254.1 472.8 1258.7 479.3 1262.5 487.0 C1266.3 494.7 1270.4 503.2 1274.0 511.0 C1277.6 518.8 1281.2 526.5 1284.0 534.0 C1286.8 541.5 1288.8 548.2 1291.0 556.0 C1293.2 563.8 1295.2 572.6 1297.0 580.6 C1298.8 588.6 1300.2 596.8 1301.5 604.0 C1302.8 611.2 1303.8 619.0 1304.5 624.0 C1305.2 629.0 1305.5 631.0 1305.8 634.0 C1306.0 637.0 1306.0 639.4 1306.0 642.0 C1306.0 644.6 1306.0 646.7 1305.8 649.6 C1305.5 652.5 1305.2 654.6 1304.5 659.6 C1303.8 664.6 1302.8 672.4 1301.5 679.6 C1300.2 686.8 1298.8 695.0 1297.0 703.0 C1295.2 711.0 1293.2 719.8 1291.0 727.6 C1288.8 735.4 1286.8 742.1 1284.0 749.6 C1281.2 757.1 1277.6 764.8 1274.0 772.6 C1270.4 780.4 1266.3 788.9 1262.5 796.6 C1258.7 804.3 1254.1 810.8 1251.0 818.6 C1247.9 826.4 1245.5 836.1 1243.8 843.6 C1242.0 851.1 1241.3 856.9 1240.5 863.6 C1239.7 870.3 1239.2 880.3 1239.0 883.6 L1224.0 883.6 L1225.5 853.6 L1227.0 828.6 L1223.5 808.6 L1221.5 763.6 L1220.5 642.0 L1221.5 520.0 L1223.5 475.0 L1227.0 455.0 L1225.5 430.0 L1224.0 400.0 Z" fill="url(#lg)"/>
<path d="M1228.0 452.0 C1228.8 454.3 1230.7 460.8 1233.0 466.0 C1235.3 471.2 1238.8 477.3 1242.0 483.0 C1245.2 488.7 1249.2 495.2 1252.0 500.0 C1254.8 504.8 1257.8 510.0 1259.0 512.0" fill="none" stroke="#86e23c" stroke-width="1.80" stroke-linejoin="round" stroke-linecap="round" />
<path d="M1228.0 831.6 C1228.8 829.3 1230.7 822.8 1233.0 817.6 C1235.3 812.4 1238.8 806.3 1242.0 800.6 C1245.2 794.9 1249.2 788.4 1252.0 783.6 C1254.8 778.8 1257.8 773.6 1259.0 771.6" fill="none" stroke="#86e23c" stroke-width="1.80" stroke-linejoin="round" stroke-linecap="round" />
<path d="M1227.0 465.0 C1227.8 466.5 1229.9 470.2 1232.0 474.0 C1234.1 477.8 1237.0 483.2 1239.5 488.0 C1242.0 492.8 1244.2 497.0 1247.0 502.5 C1249.8 508.0 1252.9 514.5 1256.0 521.0 C1259.1 527.5 1262.8 535.0 1265.6 541.5 C1268.4 548.0 1270.8 552.8 1273.0 560.0 C1275.2 567.2 1277.4 576.3 1279.0 585.0 C1280.6 593.7 1281.7 602.5 1282.5 612.0 C1283.3 621.5 1284.0 632.1 1284.0 642.0 C1284.0 651.9 1283.3 662.2 1282.5 671.6 C1281.7 681.0 1280.6 689.9 1279.0 698.6 C1277.4 707.3 1275.2 716.3 1273.0 723.6 C1270.8 730.8 1268.4 735.6 1265.6 742.1 C1262.8 748.6 1259.1 756.1 1256.0 762.6 C1252.9 769.1 1249.8 775.6 1247.0 781.1 C1244.2 786.6 1242.0 790.8 1239.5 795.6 C1237.0 800.3 1234.1 805.8 1232.0 809.6 C1229.9 813.4 1227.8 817.1 1227.0 818.6 L1227.0 818.6 L1224.5 803.6 L1223.5 763.6 L1223.0 703.6 L1223.0 642.0 L1223.0 580.0 L1223.5 520.0 L1224.5 480.0 L1227.0 465.0 Z" fill="#2d3a92" stroke="#f3bca8" stroke-width="3" stroke-linejoin="round"/>
<path d="M1284.5 641.8 1283.9 624.6 1282.2 607.9 1279.4 592.0 1275.7 577.3 1271.2 564.2 1266.2 553.0 1260.9 544.0 1255.6 537.4 1250.3 533.4 1245.3 532.0 1240.7 533.4 1236.7 537.4 1233.2 544.0 1230.4 553.0 1228.1 564.2 1226.3 577.3 1225.0 592.0 1224.2 607.9 1223.7 624.6 1223.5 641.8 1223.7 659.0 1224.2 675.7 1225.0 691.6 1226.3 706.3 1228.1 719.4 1230.4 730.6 1233.2 739.6 1236.7 746.2 1240.7 750.2 1245.3 751.6 1250.3 750.2 1255.6 746.2 1260.9 739.6 1266.2 730.6 1271.2 719.4 1275.7 706.3 1279.4 691.6 1282.2 675.7 1283.9 659.0Z" fill="#f0a690" stroke="none" stroke-width="0.0" stroke-linejoin="round"/>
<path d="M1280.7 641.8 1280.2 625.4 1278.9 609.4 1276.7 594.2 1273.9 580.2 1270.4 567.7 1266.4 557.0 1262.2 548.4 1257.9 542.1 1253.6 538.3 1249.4 537.0 1245.5 538.3 1242.0 542.1 1238.9 548.4 1236.2 557.0 1234.0 567.7 1232.3 580.2 1230.9 594.2 1230.0 609.4 1229.5 625.4 1229.3 641.8 1229.5 658.2 1230.0 674.2 1230.9 689.4 1232.3 703.4 1234.0 715.9 1236.2 726.6 1238.9 735.2 1242.0 741.5 1245.5 745.3 1249.4 746.6 1253.6 745.3 1257.9 741.5 1262.2 735.2 1266.4 726.6 1270.4 715.9 1273.9 703.4 1276.7 689.4 1278.9 674.2 1280.2 658.2Z" fill="#2d3a92" stroke="none" stroke-width="0.0" stroke-linejoin="round"/>
<path d="M1281.0 641.8 1280.6 628.5 1279.4 615.6 1277.4 603.3 1274.8 592.0 1271.6 581.8 1268.0 573.2 1264.0 566.2 1259.9 561.2 1255.7 558.0 1251.5 557.0 1247.5 558.0 1243.8 561.2 1240.4 566.2 1237.4 573.2 1234.9 581.8 1232.8 592.0 1231.1 603.3 1229.9 615.6 1229.2 628.5 1229.0 641.8 1229.2 655.1 1229.9 668.0 1231.1 680.3 1232.8 691.6 1234.9 701.8 1237.4 710.4 1240.4 717.4 1243.8 722.4 1247.5 725.6 1251.5 726.6 1255.7 725.6 1259.9 722.4 1264.0 717.4 1268.0 710.4 1271.6 701.8 1274.8 691.6 1277.4 680.3 1279.4 668.0 1280.6 655.1Z" fill="#ee9a84" stroke="none" stroke-width="0.0" stroke-linejoin="round"/>
<path d="M1277.7 641.8 1277.4 629.3 1276.4 617.1 1274.8 605.6 1272.7 594.9 1270.1 585.4 1267.2 577.2 1264.0 570.7 1260.7 565.9 1257.4 563.0 1254.1 562.0 1251.0 563.0 1248.1 565.9 1245.5 570.7 1243.3 577.2 1241.3 585.4 1239.8 594.9 1238.5 605.6 1237.7 617.1 1237.2 629.3 1237.0 641.8 1237.2 654.3 1237.7 666.5 1238.5 678.0 1239.8 688.7 1241.3 698.2 1243.3 706.4 1245.5 712.9 1248.1 717.7 1251.0 720.6 1254.1 721.6 1257.4 720.6 1260.7 717.7 1264.0 712.9 1267.2 706.4 1270.1 698.2 1272.7 688.7 1274.8 678.0 1276.4 666.5 1277.4 654.3Z" fill="#2d3a92" stroke="none" stroke-width="0.0" stroke-linejoin="round"/>
<path d="M1278.0 641.8 1277.7 631.7 1276.7 621.9 1275.2 612.6 1273.1 604.0 1270.6 596.3 1267.8 589.8 1264.6 584.5 1261.3 580.6 1258.0 578.3 1254.7 577.5 1251.5 578.3 1248.6 580.6 1245.9 584.5 1243.5 589.8 1241.4 596.3 1239.7 604.0 1238.4 612.6 1237.5 621.9 1236.9 631.7 1236.7 641.8 1236.9 651.9 1237.5 661.7 1238.4 671.0 1239.7 679.6 1241.4 687.3 1243.5 693.8 1245.9 699.1 1248.6 703.0 1251.5 705.3 1254.7 706.1 1258.0 705.3 1261.3 703.0 1264.6 699.1 1267.8 693.8 1270.6 687.3 1273.1 679.6 1275.2 671.0 1276.7 661.7 1277.7 651.9Z" fill="#eb8d76" stroke="none" stroke-width="0.0" stroke-linejoin="round"/>
<path d="M1274.7 641.8 1274.5 632.5 1273.8 623.5 1272.8 614.9 1271.3 606.9 1269.5 599.9 1267.5 593.8 1265.2 589.0 1262.7 585.4 1260.2 583.2 1257.7 582.5 1255.1 583.2 1252.7 585.4 1250.5 589.0 1248.4 593.8 1246.6 599.9 1245.1 606.9 1243.9 614.9 1243.0 623.5 1242.5 632.5 1242.3 641.8 1242.5 651.1 1243.0 660.1 1243.9 668.7 1245.1 676.7 1246.6 683.7 1248.4 689.8 1250.5 694.6 1252.7 698.2 1255.1 700.4 1257.7 701.1 1260.2 700.4 1262.7 698.2 1265.2 694.6 1267.5 689.8 1269.5 683.7 1271.3 676.7 1272.8 668.7 1273.8 660.1 1274.5 651.1Z" fill="#2d3a92" stroke="none" stroke-width="0.0" stroke-linejoin="round"/>
<path d="M1275.0 641.8 1274.8 634.9 1274.2 628.3 1273.2 621.9 1271.9 616.1 1270.2 610.8 1268.3 606.4 1266.1 602.8 1263.7 600.1 1261.2 598.5 1258.6 598.0 1256.0 598.5 1253.5 600.1 1251.1 602.8 1248.9 606.4 1246.9 610.8 1245.2 616.1 1243.8 621.9 1242.8 628.3 1242.2 634.9 1242.0 641.8 1242.2 648.7 1242.8 655.3 1243.8 661.7 1245.2 667.5 1246.9 672.8 1248.9 677.2 1251.1 680.8 1253.5 683.5 1256.0 685.1 1258.6 685.6 1261.2 685.1 1263.7 683.5 1266.1 680.8 1268.3 677.2 1270.2 672.8 1271.9 667.5 1273.2 661.7 1274.2 655.3 1274.8 648.7Z" fill="#e77e68" stroke="none" stroke-width="0.0" stroke-linejoin="round"/>
<path d="M1272.5 641.8 1272.4 635.7 1271.9 629.8 1271.3 624.2 1270.3 619.0 1269.1 614.4 1267.7 610.4 1266.1 607.2 1264.4 604.9 1262.5 603.5 1260.5 603.0 1258.5 603.5 1256.5 604.9 1254.6 607.2 1252.7 610.4 1251.1 614.4 1249.7 619.0 1248.5 624.2 1247.7 629.8 1247.2 635.7 1247.0 641.8 1247.2 647.9 1247.7 653.8 1248.5 659.4 1249.7 664.6 1251.1 669.2 1252.7 673.2 1254.6 676.4 1256.5 678.7 1258.5 680.1 1260.5 680.6 1262.5 680.1 1264.4 678.7 1266.1 676.4 1267.7 673.2 1269.1 669.2 1270.3 664.6 1271.3 659.4 1271.9 653.8 1272.4 647.9Z" fill="#2d3a92" stroke="none" stroke-width="0.0" stroke-linejoin="round"/>
<path d="M1231.5 591.8 Q1228.5 641.8 1231.5 691.8" fill="none" stroke="#8a4a5a" stroke-width="1.0" stroke-dasharray="4 11"/>
<path d="M1239.2 591.8 Q1236.2 641.8 1239.2 691.8" fill="none" stroke="#8a4a5a" stroke-width="1.0" stroke-dasharray="4 11"/>
<path d="M1244.5 591.8 Q1241.5 641.8 1244.5 691.8" fill="none" stroke="#8a4a5a" stroke-width="1.0" stroke-dasharray="4 11"/>
<ellipse cx="1262.0" cy="641.8" rx="8.2" ry="18" fill="#d9524a"/>
<ellipse cx="1262.0" cy="641.8" rx="4.6" ry="12" fill="none" stroke="#5a4a9a" stroke-width="1.6"/>
<ellipse cx="1262.0" cy="641.8" rx="2.3" ry="7.5" fill="#2d3a92"/>
<path d="M1206.5 72.5 L2159.5 72.5 L2159.5 1213.0 L1206.5 1213.0 Z" fill="none" stroke="#151515" stroke-width="1.4"/>
<path d="M1206.5 72.5 l17 19 M1206.5 1213.0 l17 -20 M2159.5 72.5 l-9 11 M2159.5 1213.0 l-9 -10" fill="none" stroke="#222" stroke-width="0.9"/>
<text x="1358.0" y="50.3" font-size="23.5" text-anchor="middle" fill="#555555" font-family="'Liberation Sans', sans-serif" >0.5</text>
<text x="1358.0" y="1247.3" font-size="23.5" text-anchor="middle" fill="#555555" font-family="'Liberation Sans', sans-serif" >0.5</text>
<path d="M1341.0 72.5 L1358.0 71.0 L1375.0 72.5 L1358.0 73.7 Z" fill="#151515"/>
<path d="M1357.5 69.7 L1359.5 78.0" stroke="#151515" stroke-width="1.5"/>
<path d="M1341.0 1213.0 L1358.0 1211.5 L1375.0 1213.0 L1358.0 1214.2 Z" fill="#151515"/>
<path d="M1357.5 1215.8 L1359.5 1207.5" stroke="#151515" stroke-width="1.5"/>
<text x="1521.0" y="50.3" font-size="23.5" text-anchor="middle" fill="#555555" font-family="'Liberation Sans', sans-serif" >1</text>
<text x="1521.0" y="1247.3" font-size="23.5" text-anchor="middle" fill="#555555" font-family="'Liberation Sans', sans-serif" >1</text>
<path d="M1504.0 72.5 L1521.0 71.0 L1538.0 72.5 L1521.0 73.7 Z" fill="#151515"/>
<path d="M1520.5 69.7 L1522.5 78.0" stroke="#151515" stroke-width="1.5"/>
<path d="M1504.0 1213.0 L1521.0 1211.5 L1538.0 1213.0 L1521.0 1214.2 Z" fill="#151515"/>
<path d="M1520.5 1215.8 L1522.5 1207.5" stroke="#151515" stroke-width="1.5"/>
<text x="1684.0" y="50.3" font-size="23.5" text-anchor="middle" fill="#555555" font-family="'Liberation Sans', sans-serif" >1.5</text>
<text x="1684.0" y="1247.3" font-size="23.5" text-anchor="middle" fill="#555555" font-family="'Liberation Sans', sans-serif" >1.5</text>
<path d="M1667.0 72.5 L1684.0 71.0 L1701.0 72.5 L1684.0 73.7 Z" fill="#151515"/>
<path d="M1683.5 69.7 L1685.5 78.0" stroke="#151515" stroke-width="1.5"/>
<path d="M1667.0 1213.0 L1684.0 1211.5 L1701.0 1213.0 L1684.0 1214.2 Z" fill="#151515"/>
<path d="M1683.5 1215.8 L1685.5 1207.5" stroke="#151515" stroke-width="1.5"/>
<text x="1845.0" y="50.3" font-size="23.5" text-anchor="middle" fill="#555555" font-family="'Liberation Sans', sans-serif" >2</text>
<text x="1845.0" y="1247.3" font-size="23.5" text-anchor="middle" fill="#555555" font-family="'Liberation Sans', sans-serif" >2</text>
<path d="M1828.0 72.5 L1845.0 71.0 L1862.0 72.5 L1845.0 73.7 Z" fill="#151515"/>
<path d="M1844.5 69.7 L1846.5 78.0" stroke="#151515" stroke-width="1.5"/>
<path d="M1828.0 1213.0 L1845.0 1211.5 L1862.0 1213.0 L1845.0 1214.2 Z" fill="#151515"/>
<path d="M1844.5 1215.8 L1846.5 1207.5" stroke="#151515" stroke-width="1.5"/>
<text x="2009.0" y="50.3" font-size="23.5" text-anchor="middle" fill="#555555" font-family="'Liberation Sans', sans-serif" >2.5</text>
<text x="2009.0" y="1247.3" font-size="23.5" text-anchor="middle" fill="#555555" font-family="'Liberation Sans', sans-serif" >2.5</text>
<path d="M1992.0 72.5 L2009.0 71.0 L2026.0 72.5 L2009.0 73.7 Z" fill="#151515"/>
<path d="M2008.5 69.7 L2010.5 78.0" stroke="#151515" stroke-width="1.5"/>
<path d="M1992.0 1213.0 L2009.0 1211.5 L2026.0 1213.0 L2009.0 1214.2 Z" fill="#151515"/>
<path d="M2008.5 1215.8 L2010.5 1207.5" stroke="#151515" stroke-width="1.5"/>
<text x="1189.0" y="131.2" font-size="23.5" text-anchor="end" fill="#555555" font-family="'Liberation Sans', sans-serif" >1.6</text>
<text x="2177.0" y="131.2" font-size="23.5" text-anchor="start" fill="#555555" font-family="'Liberation Sans', sans-serif" >1.6</text>
<path d="M1206.5 111.9 L1208.1 124.9 L1206.5 137.9 L1205.3 124.9 Z" fill="#151515"/>
<path d="M1203.0 122.9 L1210.0 126.9" stroke="#151515" stroke-width="1.5"/>
<path d="M2157.5 123.9 L2162.5 122.4" stroke="#151515" stroke-width="1.5"/>
<text x="1189.0" y="196.1" font-size="23.5" text-anchor="end" fill="#555555" font-family="'Liberation Sans', sans-serif" >1.4</text>
<text x="2177.0" y="196.1" font-size="23.5" text-anchor="start" fill="#555555" font-family="'Liberation Sans', sans-serif" >1.4</text>
<path d="M1206.5 176.8 L1208.1 189.8 L1206.5 202.8 L1205.3 189.8 Z" fill="#151515"/>
<path d="M1203.0 187.8 L1210.0 191.8" stroke="#151515" stroke-width="1.5"/>
<path d="M2157.5 188.8 L2162.5 187.3" stroke="#151515" stroke-width="1.5"/>
<text x="1189.0" y="261.0" font-size="23.5" text-anchor="end" fill="#555555" font-family="'Liberation Sans', sans-serif" >1.2</text>
<text x="2177.0" y="261.0" font-size="23.5" text-anchor="start" fill="#555555" font-family="'Liberation Sans', sans-serif" >1.2</text>
<path d="M1206.5 241.7 L1208.1 254.7 L1206.5 267.7 L1205.3 254.7 Z" fill="#151515"/>
<path d="M1203.0 252.7 L1210.0 256.7" stroke="#151515" stroke-width="1.5"/>
<path d="M2157.5 253.7 L2162.5 252.2" stroke="#151515" stroke-width="1.5"/>
<text x="1189.0" y="325.9" font-size="23.5" text-anchor="end" fill="#555555" font-family="'Liberation Sans', sans-serif" >1</text>
<text x="2177.0" y="325.9" font-size="23.5" text-anchor="start" fill="#555555" font-family="'Liberation Sans', sans-serif" >1</text>
<path d="M1206.5 306.6 L1208.1 319.6 L1206.5 332.6 L1205.3 319.6 Z" fill="#151515"/>
<path d="M1203.0 317.6 L1210.0 321.6" stroke="#151515" stroke-width="1.5"/>
<path d="M2157.5 318.6 L2162.5 317.1" stroke="#151515" stroke-width="1.5"/>
<text x="1189.0" y="390.9" font-size="23.5" text-anchor="end" fill="#555555" font-family="'Liberation Sans', sans-serif" >0.8</text>
<text x="2177.0" y="390.9" font-size="23.5" text-anchor="start" fill="#555555" font-family="'Liberation Sans', sans-serif" >0.8</text>
<path d="M1206.5 371.6 L1208.1 384.6 L1206.5 397.6 L1205.3 384.6 Z" fill="#151515"/>
<path d="M1203.0 382.6 L1210.0 386.6" stroke="#151515" stroke-width="1.5"/>
<path d="M2157.5 383.6 L2162.5 382.1" stroke="#151515" stroke-width="1.5"/>
<text x="1189.0" y="455.8" font-size="23.5" text-anchor="end" fill="#555555" font-family="'Liberation Sans', sans-serif" >0.6</text>
<text x="2177.0" y="455.8" font-size="23.5" text-anchor="start" fill="#555555" font-family="'Liberation Sans', sans-serif" >0.6</text>
<path d="M1206.5 436.5 L1208.1 449.5 L1206.5 462.5 L1205.3 449.5 Z" fill="#151515"/>
<path d="M1203.0 447.5 L1210.0 451.5" stroke="#151515" stroke-width="1.5"/>
<path d="M2157.5 448.5 L2162.5 447.0" stroke="#151515" stroke-width="1.5"/>
<text x="1189.0" y="520.7" font-size="23.5" text-anchor="end" fill="#555555" font-family="'Liberation Sans', sans-serif" >0.4</text>
<text x="2177.0" y="520.7" font-size="23.5" text-anchor="start" fill="#555555" font-family="'Liberation Sans', sans-serif" >0.4</text>
<path d="M1206.5 501.4 L1208.1 514.4 L1206.5 527.4 L1205.3 514.4 Z" fill="#151515"/>
<path d="M1203.0 512.4 L1210.0 516.4" stroke="#151515" stroke-width="1.5"/>
<path d="M2157.5 513.4 L2162.5 511.9" stroke="#151515" stroke-width="1.5"/>
<text x="1189.0" y="585.6" font-size="23.5" text-anchor="end" fill="#555555" font-family="'Liberation Sans', sans-serif" >0.2</text>
<text x="2177.0" y="585.6" font-size="23.5" text-anchor="start" fill="#555555" font-family="'Liberation Sans', sans-serif" >0.2</text>
<path d="M1206.5 566.3 L1208.1 579.3 L1206.5 592.3 L1205.3 579.3 Z" fill="#151515"/>
<path d="M1203.0 577.3 L1210.0 581.3" stroke="#151515" stroke-width="1.5"/>
<path d="M2157.5 578.3 L2162.5 576.8" stroke="#151515" stroke-width="1.5"/>
<text x="1189.0" y="650.5" font-size="23.5" text-anchor="end" fill="#555555" font-family="'Liberation Sans', sans-serif" >0</text>
<text x="2177.0" y="650.5" font-size="23.5" text-anchor="start" fill="#555555" font-family="'Liberation Sans', sans-serif" >0</text>
<path d="M1206.5 631.2 L1208.1 644.2 L1206.5 657.2 L1205.3 644.2 Z" fill="#151515"/>
<path d="M1203.0 642.2 L1210.0 646.2" stroke="#151515" stroke-width="1.5"/>
<path d="M2157.5 643.2 L2162.5 641.8" stroke="#151515" stroke-width="1.5"/>
<text x="1189.0" y="715.5" font-size="23.5" text-anchor="end" fill="#555555" font-family="'Liberation Sans', sans-serif" >-0.2</text>
<text x="2177.0" y="715.5" font-size="23.5" text-anchor="start" fill="#555555" font-family="'Liberation Sans', sans-serif" >-0.2</text>
<path d="M1206.5 696.2 L1208.1 709.2 L1206.5 722.2 L1205.3 709.2 Z" fill="#151515"/>
<path d="M1203.0 707.2 L1210.0 711.2" stroke="#151515" stroke-width="1.5"/>
<path d="M2157.5 708.2 L2162.5 706.7" stroke="#151515" stroke-width="1.5"/>
<text x="1189.0" y="780.4" font-size="23.5" text-anchor="end" fill="#555555" font-family="'Liberation Sans', sans-serif" >-0.4</text>
<text x="2177.0" y="780.4" font-size="23.5" text-anchor="start" fill="#555555" font-family="'Liberation Sans', sans-serif" >-0.4</text>
<path d="M1206.5 761.1 L1208.1 774.1 L1206.5 787.1 L1205.3 774.1 Z" fill="#151515"/>
<path d="M1203.0 772.1 L1210.0 776.1" stroke="#151515" stroke-width="1.5"/>
<path d="M2157.5 773.1 L2162.5 771.6" stroke="#151515" stroke-width="1.5"/>
<text x="1189.0" y="845.3" font-size="23.5" text-anchor="end" fill="#555555" font-family="'Liberation Sans', sans-serif" >-0.6</text>
<text x="2177.0" y="845.3" font-size="23.5" text-anchor="start" fill="#555555" font-family="'Liberation Sans', sans-serif" >-0.6</text>
<path d="M1206.5 826.0 L1208.1 839.0 L1206.5 852.0 L1205.3 839.0 Z" fill="#151515"/>
<path d="M1203.0 837.0 L1210.0 841.0" stroke="#151515" stroke-width="1.5"/>
<path d="M2157.5 838.0 L2162.5 836.5" stroke="#151515" stroke-width="1.5"/>
<text x="1189.0" y="910.2" font-size="23.5" text-anchor="end" fill="#555555" font-family="'Liberation Sans', sans-serif" >-0.8</text>
<text x="2177.0" y="910.2" font-size="23.5" text-anchor="start" fill="#555555" font-family="'Liberation Sans', sans-serif" >-0.8</text>
<path d="M1206.5 890.9 L1208.1 903.9 L1206.5 916.9 L1205.3 903.9 Z" fill="#151515"/>
<path d="M1203.0 901.9 L1210.0 905.9" stroke="#151515" stroke-width="1.5"/>
<path d="M2157.5 902.9 L2162.5 901.4" stroke="#151515" stroke-width="1.5"/>
<text x="1189.0" y="975.1" font-size="23.5" text-anchor="end" fill="#555555" font-family="'Liberation Sans', sans-serif" >-1</text>
<text x="2177.0" y="975.1" font-size="23.5" text-anchor="start" fill="#555555" font-family="'Liberation Sans', sans-serif" >-1</text>
<path d="M1206.5 955.9 L1208.1 968.9 L1206.5 981.9 L1205.3 968.9 Z" fill="#151515"/>
<path d="M1203.0 966.9 L1210.0 970.9" stroke="#151515" stroke-width="1.5"/>
<path d="M2157.5 967.9 L2162.5 966.4" stroke="#151515" stroke-width="1.5"/>
<text x="1189.0" y="1040.1" font-size="23.5" text-anchor="end" fill="#555555" font-family="'Liberation Sans', sans-serif" >-1.2</text>
<text x="2177.0" y="1040.1" font-size="23.5" text-anchor="start" fill="#555555" font-family="'Liberation Sans', sans-serif" >-1.2</text>
<path d="M1206.5 1020.8 L1208.1 1033.8 L1206.5 1046.8 L1205.3 1033.8 Z" fill="#151515"/>
<path d="M1203.0 1031.8 L1210.0 1035.8" stroke="#151515" stroke-width="1.5"/>
<path d="M2157.5 1032.8 L2162.5 1031.3" stroke="#151515" stroke-width="1.5"/>
<text x="1189.0" y="1105.0" font-size="23.5" text-anchor="end" fill="#555555" font-family="'Liberation Sans', sans-serif" >-1.4</text>
<text x="2177.0" y="1105.0" font-size="23.5" text-anchor="start" fill="#555555" font-family="'Liberation Sans', sans-serif" >-1.4</text>
<path d="M1206.5 1085.7 L1208.1 1098.7 L1206.5 1111.7 L1205.3 1098.7 Z" fill="#151515"/>
<path d="M1203.0 1096.7 L1210.0 1100.7" stroke="#151515" stroke-width="1.5"/>
<path d="M2157.5 1097.7 L2162.5 1096.2" stroke="#151515" stroke-width="1.5"/>
<text x="1189.0" y="1169.9" font-size="23.5" text-anchor="end" fill="#555555" font-family="'Liberation Sans', sans-serif" >-1.6</text>
<text x="2177.0" y="1169.9" font-size="23.5" text-anchor="start" fill="#555555" font-family="'Liberation Sans', sans-serif" >-1.6</text>
<path d="M1206.5 1150.6 L1208.1 1163.6 L1206.5 1176.6 L1205.3 1163.6 Z" fill="#151515"/>
<path d="M1203.0 1161.6 L1210.0 1165.6" stroke="#151515" stroke-width="1.5"/>
<path d="M2157.5 1162.6 L2162.5 1161.1" stroke="#151515" stroke-width="1.5"/>
</g>
<g font-family="'Liberation Serif', serif" font-size="68" fill="#000">
<text x="336.7" y="1360" textLength="81.7" lengthAdjust="spacingAndGlyphs">(<tspan font-weight="bold">g</tspan>)</text>
<text x="445.6" y="1360" font-style="italic" textLength="19.4" lengthAdjust="spacingAndGlyphs">t</text>
<text x="486.0" y="1360" textLength="59" lengthAdjust="spacingAndGlyphs">=</text>
<text x="558.4" y="1360" textLength="122" lengthAdjust="spacingAndGlyphs">12.2</text>
<text x="686.8" y="1360" textLength="91.5" lengthAdjust="spacingAndGlyphs">ms</text>
</g>
<g font-family="'Liberation Serif', serif" font-size="68" fill="#000">
<text x="1456.7" y="1360" textLength="83.9" lengthAdjust="spacingAndGlyphs">(<tspan font-weight="bold">h</tspan>)</text>
<text x="1569.3" y="1360" font-style="italic" textLength="19.4" lengthAdjust="spacingAndGlyphs">t</text>
<text x="1609.7" y="1360" textLength="59" lengthAdjust="spacingAndGlyphs">=</text>
<text x="1682.1" y="1360" textLength="122" lengthAdjust="spacingAndGlyphs">12.2</text>
<text x="1810.5" y="1360" textLength="91.5" lengthAdjust="spacingAndGlyphs">ms</text>
</g>
</svg></body></html>
